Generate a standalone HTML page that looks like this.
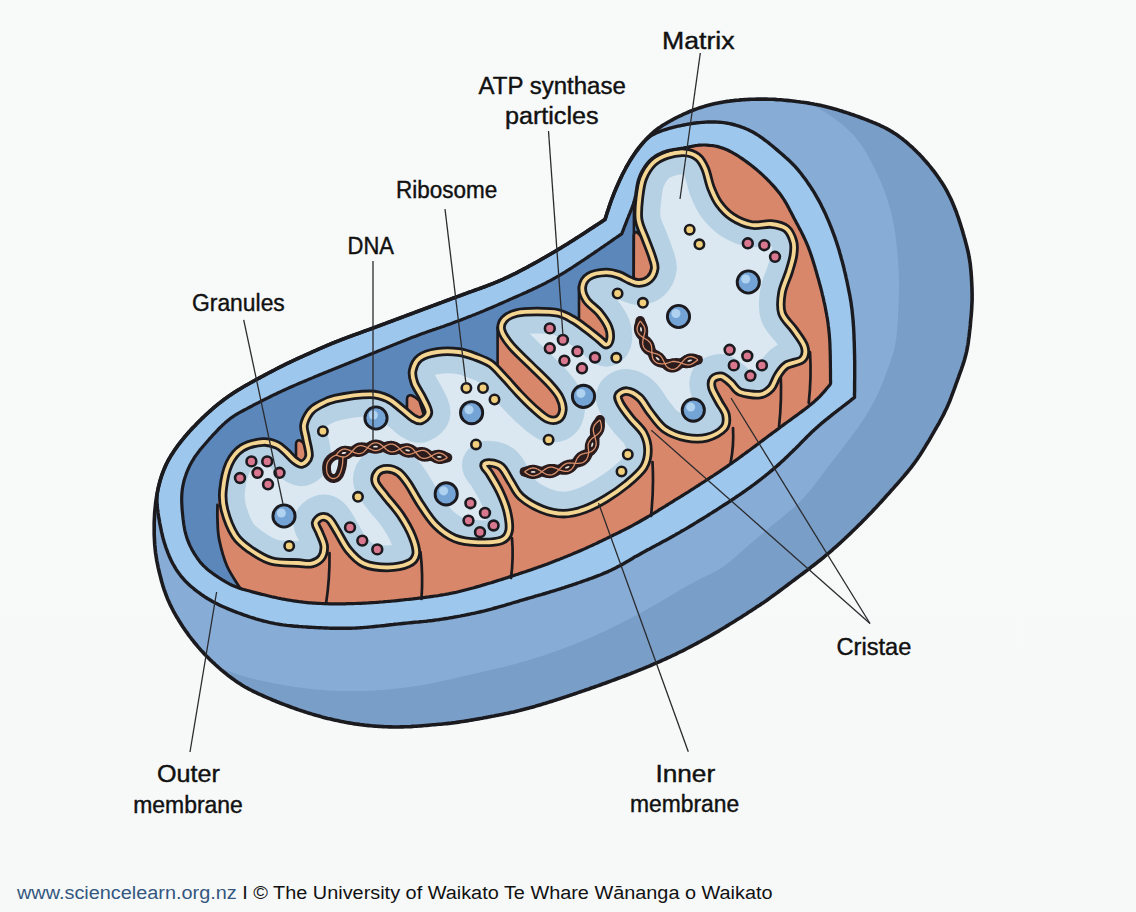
<!DOCTYPE html>
<html><head><meta charset="utf-8"><title>Mitochondrion</title>
<style>html,body{margin:0;padding:0;background:#f8fafa;overflow:hidden;width:1136px;height:912px;}svg{display:block;}</style>
</head><body>
<svg width="1136" height="912" viewBox="0 0 1136 912">
<defs>
<clipPath id="cs"><path d="M605.0,219.5 L605.6,217.6 L606.2,215.7 L606.8,213.8 L607.4,211.9 L608.1,210.0 L608.7,208.1 L609.3,206.2 L610.0,204.3 L610.6,202.4 L611.3,200.5 L612.0,198.7 L612.7,196.8 L613.4,194.9 L614.2,193.1 L614.9,191.2 L615.7,189.4 L616.5,187.5 L617.3,185.7 L618.1,183.9 L618.9,182.0 L619.7,180.2 L620.6,178.4 L621.5,176.6 L622.3,174.8 L623.2,173.0 L624.1,171.3 L625.1,169.5 L626.0,167.7 L627.0,166.0 L628.0,164.3 L629.0,162.5 L630.1,160.8 L631.1,159.2 L632.2,157.5 L633.3,155.8 L634.4,154.2 L635.6,152.5 L636.8,150.9 L638.0,149.3 L639.2,147.7 L640.4,146.2 L641.7,144.6 L642.9,143.1 L644.2,141.6 L645.5,140.1 L646.9,138.6 L648.3,137.1 L649.6,135.7 L651.1,134.3 L652.5,133.0 L654.0,131.7 L655.6,130.4 L657.1,129.2 L658.7,128.0 L660.4,126.9 L662.0,125.8 L663.7,124.7 L665.4,123.7 L667.1,122.7 L668.8,121.7 L670.6,120.7 L672.3,119.8 L674.1,118.8 L675.9,117.9 L677.7,117.0 L679.5,116.1 L681.3,115.3 L683.1,114.4 L684.9,113.6 L686.7,112.8 L688.6,112.0 L690.4,111.2 L692.3,110.5 L694.1,109.8 L696.0,109.1 L697.9,108.4 L699.8,107.8 L701.7,107.2 L703.6,106.6 L705.5,106.0 L707.4,105.5 L709.3,105.0 L711.3,104.5 L713.2,104.0 L715.2,103.6 L717.1,103.2 L719.1,102.8 L721.0,102.4 L723.0,102.1 L725.0,101.7 L727.0,101.4 L728.9,101.2 L730.9,100.9 L732.9,100.7 L734.9,100.4 L736.9,100.2 L738.9,100.1 L740.9,99.9 L742.8,99.7 L744.8,99.6 L746.8,99.5 L748.8,99.4 L750.8,99.3 L752.8,99.2 L754.8,99.2 L756.8,99.1 L758.8,99.1 L760.8,99.1 L762.8,99.1 L764.8,99.1 L766.8,99.1 L768.8,99.2 L770.8,99.3 L772.8,99.3 L774.8,99.4 L776.8,99.6 L778.8,99.7 L780.8,99.8 L782.8,100.0 L784.8,100.2 L786.8,100.4 L788.8,100.6 L790.7,100.8 L792.7,101.0 L794.7,101.2 L796.7,101.5 L798.7,101.7 L800.7,102.0 L802.6,102.2 L804.6,102.5 L806.6,102.8 L808.6,103.1 L810.5,103.5 L812.5,103.8 L814.5,104.2 L816.4,104.5 L818.4,104.9 L820.4,105.3 L822.3,105.8 L824.3,106.2 L826.2,106.7 L828.1,107.2 L830.1,107.7 L832.0,108.2 L833.9,108.8 L835.8,109.3 L837.8,109.9 L839.7,110.5 L841.6,111.0 L843.5,111.7 L845.4,112.3 L847.3,112.9 L849.2,113.5 L851.1,114.2 L853.0,114.8 L854.9,115.5 L856.7,116.1 L858.6,116.8 L860.5,117.5 L862.4,118.2 L864.3,118.9 L866.1,119.6 L868.0,120.3 L869.9,121.1 L871.7,121.8 L873.6,122.6 L875.4,123.3 L877.2,124.1 L879.1,124.9 L880.9,125.8 L882.7,126.6 L884.5,127.5 L886.2,128.4 L888.0,129.4 L889.7,130.3 L891.4,131.4 L893.1,132.4 L894.8,133.5 L896.5,134.6 L898.1,135.7 L899.7,136.9 L901.3,138.1 L902.9,139.3 L904.4,140.6 L906.0,141.8 L907.5,143.1 L909.0,144.5 L910.5,145.8 L912.0,147.1 L913.4,148.5 L914.9,149.9 L916.3,151.3 L917.7,152.7 L919.1,154.1 L920.5,155.6 L921.9,157.0 L923.2,158.5 L924.5,160.0 L925.9,161.5 L927.2,163.0 L928.5,164.5 L929.7,166.0 L931.0,167.6 L932.2,169.2 L933.5,170.7 L934.7,172.3 L935.9,173.9 L937.0,175.5 L938.2,177.2 L939.3,178.8 L940.4,180.5 L941.5,182.1 L942.6,183.8 L943.7,185.5 L944.7,187.2 L945.7,189.0 L946.7,190.7 L947.6,192.4 L948.5,194.2 L949.4,196.0 L950.3,197.8 L951.2,199.6 L952.0,201.4 L952.8,203.3 L953.5,205.1 L954.3,206.9 L955.0,208.8 L955.8,210.7 L956.5,212.5 L957.1,214.4 L957.8,216.3 L958.5,218.2 L959.1,220.1 L959.7,222.0 L960.3,223.9 L960.9,225.8 L961.5,227.7 L962.1,229.6 L962.7,231.5 L963.2,233.5 L963.8,235.4 L964.3,237.3 L964.9,239.2 L965.4,241.2 L965.9,243.1 L966.4,245.0 L966.9,247.0 L967.4,248.9 L967.8,250.8 L968.3,252.8 L968.7,254.7 L969.0,256.7 L969.4,258.7 L969.7,260.6 L970.0,262.6 L970.3,264.6 L970.5,266.6 L970.7,268.6 L970.9,270.6 L971.1,272.5 L971.2,274.5 L971.4,276.5 L971.5,278.5 L971.6,280.5 L971.7,282.5 L971.8,284.5 L971.9,286.5 L972.0,288.5 L972.0,290.5 L972.1,292.5 L972.1,294.5 L972.1,296.5 L972.1,298.5 L972.1,300.5 L972.0,302.5 L971.9,304.5 L971.8,306.5 L971.7,308.5 L971.6,310.5 L971.4,312.5 L971.3,314.5 L971.1,316.4 L970.9,318.4 L970.7,320.4 L970.5,322.4 L970.4,324.4 L970.2,326.4 L970.0,328.4 L969.7,330.4 L969.5,332.4 L969.3,334.4 L969.1,336.3 L968.8,338.3 L968.5,340.3 L968.3,342.3 L968.0,344.3 L967.6,346.2 L967.3,348.2 L966.9,350.1 L966.5,352.1 L966.0,354.0 L965.5,356.0 L965.0,357.9 L964.5,359.8 L963.9,361.7 L963.3,363.6 L962.7,365.5 L962.0,367.4 L961.4,369.3 L960.7,371.2 L960.0,373.1 L959.3,374.9 L958.7,376.8 L958.0,378.7 L957.3,380.6 L956.6,382.5 L955.9,384.3 L955.3,386.2 L954.6,388.1 L953.9,390.0 L953.2,391.9 L952.5,393.7 L951.8,395.6 L951.1,397.5 L950.4,399.3 L949.7,401.2 L948.9,403.0 L948.1,404.9 L947.3,406.7 L946.5,408.5 L945.6,410.3 L944.7,412.1 L943.9,413.9 L943.0,415.7 L942.0,417.5 L941.1,419.2 L940.1,421.0 L939.2,422.8 L938.2,424.5 L937.2,426.2 L936.2,428.0 L935.2,429.7 L934.2,431.4 L933.2,433.2 L932.2,434.9 L931.2,436.6 L930.2,438.3 L929.2,440.1 L928.2,441.8 L927.1,443.5 L926.1,445.2 L925.1,446.9 L924.0,448.6 L923.0,450.3 L921.9,452.0 L920.8,453.7 L919.7,455.4 L918.6,457.0 L917.5,458.7 L916.4,460.3 L915.2,462.0 L914.0,463.6 L912.8,465.2 L911.6,466.8 L910.4,468.3 L909.1,469.9 L907.9,471.5 L906.6,473.0 L905.3,474.5 L904.0,476.1 L902.7,477.6 L901.4,479.1 L900.1,480.6 L898.8,482.1 L897.5,483.6 L896.2,485.1 L894.8,486.6 L893.5,488.1 L892.2,489.6 L890.8,491.1 L889.5,492.6 L888.2,494.1 L886.8,495.5 L885.5,497.0 L884.2,498.5 L882.8,500.0 L881.5,501.5 L880.1,503.0 L878.8,504.4 L877.4,505.9 L876.1,507.4 L874.7,508.8 L873.3,510.3 L872.0,511.8 L870.6,513.2 L869.2,514.6 L867.8,516.1 L866.4,517.5 L865.0,518.9 L863.6,520.3 L862.2,521.8 L860.8,523.2 L859.3,524.6 L857.9,526.0 L856.5,527.4 L855.1,528.8 L853.6,530.2 L852.2,531.6 L850.8,533.0 L849.3,534.4 L847.9,535.7 L846.4,537.1 L845.0,538.5 L843.5,539.8 L842.0,541.2 L840.6,542.6 L839.1,543.9 L837.6,545.3 L836.1,546.6 L834.6,547.9 L833.1,549.2 L831.6,550.6 L830.1,551.9 L828.6,553.2 L827.1,554.4 L825.5,555.7 L824.0,557.0 L822.4,558.3 L820.9,559.5 L819.3,560.8 L817.7,562.0 L816.2,563.3 L814.6,564.5 L813.0,565.7 L811.4,566.9 L809.9,568.2 L808.3,569.4 L806.7,570.6 L805.1,571.8 L803.5,573.0 L801.9,574.2 L800.3,575.4 L798.7,576.6 L797.1,577.8 L795.5,579.0 L793.9,580.2 L792.3,581.4 L790.7,582.6 L789.1,583.8 L787.5,585.0 L785.9,586.2 L784.3,587.4 L782.7,588.6 L781.1,589.8 L779.5,591.0 L777.9,592.2 L776.3,593.4 L774.7,594.6 L773.0,595.7 L771.4,596.9 L769.8,598.1 L768.2,599.3 L766.6,600.4 L764.9,601.6 L763.3,602.7 L761.6,603.8 L760.0,604.9 L758.3,606.0 L756.6,607.1 L755.0,608.2 L753.3,609.3 L751.6,610.4 L749.9,611.5 L748.2,612.6 L746.6,613.7 L744.9,614.7 L743.2,615.8 L741.5,616.9 L739.8,618.0 L738.1,619.0 L736.4,620.1 L734.7,621.2 L733.0,622.2 L731.3,623.3 L729.6,624.3 L727.9,625.4 L726.2,626.4 L724.5,627.5 L722.8,628.5 L721.1,629.5 L719.4,630.6 L717.7,631.6 L715.9,632.6 L714.2,633.6 L712.5,634.6 L710.8,635.6 L709.0,636.6 L707.3,637.6 L705.5,638.6 L703.8,639.5 L702.0,640.5 L700.3,641.5 L698.5,642.4 L696.8,643.4 L695.0,644.3 L693.2,645.3 L691.5,646.2 L689.7,647.1 L687.9,648.0 L686.1,649.0 L684.4,649.9 L682.6,650.8 L680.8,651.6 L679.0,652.5 L677.2,653.4 L675.4,654.3 L673.6,655.1 L671.8,656.0 L670.0,656.9 L668.2,657.7 L666.4,658.5 L664.5,659.4 L662.7,660.2 L660.9,661.0 L659.1,661.8 L657.2,662.6 L655.4,663.4 L653.6,664.2 L651.7,665.0 L649.9,665.8 L648.0,666.6 L646.2,667.3 L644.3,668.1 L642.5,668.9 L640.6,669.6 L638.8,670.4 L636.9,671.1 L635.1,671.9 L633.2,672.6 L631.4,673.3 L629.5,674.1 L627.6,674.8 L625.8,675.5 L623.9,676.2 L622.0,676.9 L620.2,677.6 L618.3,678.3 L616.4,679.0 L614.5,679.7 L612.7,680.4 L610.8,681.1 L608.9,681.8 L607.0,682.5 L605.1,683.2 L603.3,683.8 L601.4,684.5 L599.5,685.2 L597.6,685.9 L595.7,686.5 L593.8,687.2 L592.0,687.8 L590.1,688.5 L588.2,689.2 L586.3,689.8 L584.4,690.5 L582.5,691.1 L580.6,691.8 L578.7,692.4 L576.8,693.1 L574.9,693.7 L573.0,694.4 L571.1,695.0 L569.3,695.6 L567.4,696.3 L565.5,696.9 L563.6,697.5 L561.7,698.1 L559.8,698.8 L557.8,699.4 L555.9,700.0 L554.0,700.6 L552.1,701.2 L550.2,701.8 L548.3,702.4 L546.4,703.0 L544.5,703.6 L542.6,704.1 L540.7,704.7 L538.7,705.3 L536.8,705.8 L534.9,706.4 L533.0,706.9 L531.0,707.4 L529.1,708.0 L527.2,708.5 L525.2,709.0 L523.3,709.5 L521.4,710.0 L519.4,710.5 L517.5,710.9 L515.5,711.4 L513.6,711.9 L511.6,712.3 L509.7,712.7 L507.7,713.2 L505.8,713.6 L503.8,714.0 L501.9,714.4 L499.9,714.8 L498.0,715.2 L496.0,715.6 L494.0,716.0 L492.1,716.3 L490.1,716.7 L488.1,717.1 L486.2,717.4 L484.2,717.8 L482.2,718.2 L480.3,718.5 L478.3,718.9 L476.3,719.2 L474.4,719.5 L472.4,719.9 L470.4,720.2 L468.4,720.6 L466.5,720.9 L464.5,721.2 L462.5,721.5 L460.5,721.8 L458.6,722.1 L456.6,722.4 L454.6,722.7 L452.6,722.9 L450.6,723.2 L448.7,723.4 L446.7,723.6 L444.7,723.8 L442.7,724.0 L440.7,724.2 L438.7,724.3 L436.7,724.5 L434.7,724.7 L432.7,724.8 L430.7,725.0 L428.7,725.2 L426.8,725.4 L424.8,725.5 L422.8,725.7 L420.8,725.9 L418.8,726.0 L416.8,726.2 L414.8,726.3 L412.8,726.4 L410.8,726.6 L408.8,726.7 L406.8,726.7 L404.8,726.8 L402.8,726.9 L400.8,726.9 L398.8,727.0 L396.8,727.0 L394.8,727.0 L392.8,727.0 L390.8,726.9 L388.8,726.9 L386.8,726.8 L384.8,726.7 L382.8,726.6 L380.8,726.5 L378.8,726.4 L376.8,726.3 L374.9,726.1 L372.9,726.0 L370.9,725.8 L368.9,725.6 L366.9,725.4 L364.9,725.2 L362.9,724.9 L360.9,724.7 L359.0,724.4 L357.0,724.1 L355.0,723.9 L353.0,723.6 L351.0,723.2 L349.1,722.9 L347.1,722.6 L345.1,722.2 L343.2,721.8 L341.2,721.4 L339.3,721.0 L337.3,720.6 L335.3,720.2 L333.4,719.8 L331.4,719.3 L329.5,718.8 L327.6,718.4 L325.6,717.9 L323.7,717.4 L321.8,716.9 L319.8,716.3 L317.9,715.8 L316.0,715.3 L314.1,714.7 L312.1,714.1 L310.2,713.5 L308.3,713.0 L306.4,712.4 L304.5,711.7 L302.6,711.1 L300.7,710.5 L298.8,709.9 L296.9,709.2 L295.0,708.5 L293.2,707.9 L291.3,707.2 L289.4,706.5 L287.5,705.8 L285.6,705.1 L283.8,704.4 L281.9,703.7 L280.0,703.0 L278.2,702.2 L276.3,701.5 L274.5,700.7 L272.6,700.0 L270.8,699.2 L268.9,698.4 L267.1,697.6 L265.3,696.8 L263.4,696.0 L261.6,695.2 L259.8,694.4 L258.0,693.6 L256.2,692.7 L254.4,691.8 L252.6,691.0 L250.8,690.0 L249.0,689.1 L247.3,688.2 L245.5,687.2 L243.8,686.2 L242.1,685.2 L240.4,684.1 L238.7,683.0 L237.1,681.9 L235.4,680.8 L233.8,679.6 L232.2,678.5 L230.6,677.3 L229.0,676.1 L227.4,674.8 L225.9,673.6 L224.3,672.3 L222.8,671.1 L221.2,669.8 L219.7,668.5 L218.2,667.2 L216.7,665.8 L215.2,664.5 L213.8,663.1 L212.3,661.8 L210.8,660.4 L209.4,659.0 L208.0,657.6 L206.6,656.2 L205.2,654.8 L203.8,653.3 L202.5,651.8 L201.1,650.4 L199.8,648.9 L198.5,647.4 L197.2,645.8 L195.9,644.3 L194.6,642.8 L193.4,641.2 L192.1,639.6 L190.9,638.0 L189.7,636.5 L188.5,634.9 L187.4,633.2 L186.2,631.6 L185.0,630.0 L183.9,628.3 L182.8,626.7 L181.7,625.0 L180.6,623.3 L179.5,621.6 L178.5,619.9 L177.5,618.2 L176.4,616.5 L175.5,614.8 L174.5,613.0 L173.5,611.3 L172.6,609.5 L171.7,607.7 L170.8,605.9 L169.9,604.1 L169.1,602.3 L168.3,600.5 L167.5,598.7 L166.8,596.8 L166.1,595.0 L165.4,593.1 L164.7,591.2 L164.0,589.3 L163.4,587.4 L162.8,585.5 L162.3,583.6 L161.7,581.7 L161.2,579.7 L160.7,577.8 L160.2,575.9 L159.7,573.9 L159.2,572.0 L158.8,570.1 L158.3,568.1 L157.9,566.2 L157.5,564.2 L157.1,562.2 L156.7,560.3 L156.4,558.3 L156.1,556.3 L155.8,554.4 L155.5,552.4 L155.3,550.4 L155.1,548.4 L154.9,546.4 L154.7,544.4 L154.6,542.4 L154.5,540.4 L154.4,538.4 L154.3,536.5 L154.2,534.5 L154.2,532.5 L154.2,530.5 L154.2,528.5 L154.2,526.5 L154.2,524.5 L154.2,522.5 L154.3,520.5 L154.4,518.5 L154.5,516.5 L154.6,514.5 L154.7,512.5 L154.9,510.5 L155.1,508.5 L155.3,506.5 L155.5,504.5 L155.7,502.5 L156.0,500.6 L156.3,498.6 L156.6,496.6 L156.9,494.7 L157.3,492.7 L157.7,490.7 L158.1,488.8 L158.5,486.8 L159.0,484.9 L159.5,483.0 L160.0,481.0 L160.6,479.1 L161.2,477.2 L161.8,475.3 L162.5,473.4 L163.2,471.6 L163.9,469.7 L164.7,467.9 L165.5,466.1 L166.3,464.3 L167.2,462.5 L168.2,460.7 L169.1,459.0 L170.1,457.3 L171.1,455.5 L172.2,453.9 L173.3,452.2 L174.4,450.5 L175.5,448.9 L176.7,447.3 L177.8,445.6 L179.0,444.0 L180.3,442.5 L181.5,440.9 L182.8,439.3 L184.0,437.8 L185.3,436.3 L186.6,434.7 L187.9,433.2 L189.2,431.7 L190.6,430.3 L191.9,428.8 L193.3,427.3 L194.7,425.9 L196.1,424.4 L197.5,423.0 L198.9,421.6 L200.3,420.2 L201.7,418.8 L203.2,417.4 L204.6,416.0 L206.1,414.7 L207.5,413.3 L209.0,412.0 L210.5,410.6 L212.0,409.3 L213.5,408.0 L215.1,406.7 L216.6,405.4 L218.1,404.2 L219.7,402.9 L221.3,401.7 L222.9,400.5 L224.5,399.3 L226.1,398.1 L227.7,396.9 L229.3,395.8 L231.0,394.7 L232.6,393.5 L234.3,392.4 L236.0,391.4 L237.7,390.3 L239.4,389.3 L241.1,388.2 L242.8,387.2 L244.5,386.2 L246.3,385.2 L248.0,384.2 L249.7,383.2 L251.5,382.2 L253.2,381.3 L255.0,380.3 L256.7,379.3 L258.5,378.4 L260.3,377.4 L262.0,376.5 L263.8,375.6 L265.5,374.6 L267.3,373.7 L269.1,372.7 L270.9,371.8 L272.6,370.9 L274.4,370.0 L276.2,369.0 L278.0,368.1 L279.7,367.2 L281.5,366.3 L283.3,365.4 L285.1,364.5 L286.9,363.7 L288.7,362.8 L290.5,361.9 L292.3,361.1 L294.1,360.2 L295.9,359.4 L297.8,358.5 L299.6,357.7 L301.4,356.9 L303.2,356.1 L305.0,355.2 L306.9,354.4 L308.7,353.6 L310.5,352.8 L312.3,351.9 L314.2,351.1 L316.0,350.3 L317.8,349.5 L319.6,348.7 L321.5,347.9 L323.3,347.1 L325.1,346.3 L327.0,345.5 L328.8,344.8 L330.7,344.0 L332.5,343.2 L334.4,342.5 L336.2,341.7 L338.1,341.0 L340.0,340.3 L341.8,339.5 L343.7,338.8 L345.6,338.1 L347.4,337.4 L349.3,336.7 L351.2,336.0 L353.1,335.3 L354.9,334.6 L356.8,334.0 L358.7,333.3 L360.6,332.6 L362.4,331.9 L364.3,331.2 L366.2,330.5 L368.1,329.9 L370.0,329.2 L371.8,328.5 L373.7,327.8 L375.6,327.1 L377.5,326.4 L379.3,325.7 L381.2,325.0 L383.1,324.3 L385.0,323.6 L386.8,322.9 L388.7,322.2 L390.6,321.5 L392.5,320.8 L394.3,320.1 L396.2,319.4 L398.1,318.7 L400.0,318.0 L401.8,317.3 L403.7,316.6 L405.6,315.9 L407.4,315.2 L409.3,314.5 L411.2,313.8 L413.1,313.1 L414.9,312.4 L416.8,311.7 L418.7,311.0 L420.6,310.3 L422.4,309.6 L424.3,308.9 L426.2,308.2 L428.1,307.5 L429.9,306.8 L431.8,306.1 L433.7,305.4 L435.6,304.7 L437.4,304.0 L439.3,303.3 L441.2,302.6 L443.1,301.9 L444.9,301.2 L446.8,300.5 L448.7,299.8 L450.6,299.1 L452.4,298.4 L454.3,297.7 L456.2,297.1 L458.1,296.4 L459.9,295.7 L461.8,295.0 L463.7,294.3 L465.6,293.6 L467.4,292.9 L469.3,292.2 L471.2,291.6 L473.1,290.9 L475.0,290.2 L476.8,289.5 L478.7,288.9 L480.6,288.2 L482.5,287.5 L484.4,286.8 L486.2,286.1 L488.1,285.4 L490.0,284.7 L491.8,283.9 L493.7,283.2 L495.5,282.4 L497.4,281.7 L499.2,280.9 L501.1,280.1 L502.9,279.3 L504.7,278.4 L506.5,277.6 L508.3,276.8 L510.1,275.9 L511.9,275.0 L513.7,274.1 L515.5,273.3 L517.3,272.4 L519.1,271.4 L520.9,270.5 L522.6,269.6 L524.4,268.7 L526.2,267.7 L527.9,266.8 L529.7,265.8 L531.4,264.9 L533.2,263.9 L534.9,262.9 L536.7,262.0 L538.4,261.0 L540.2,260.0 L541.9,259.0 L543.6,258.0 L545.4,257.0 L547.1,256.0 L548.8,255.0 L550.6,254.0 L552.3,253.0 L554.0,252.0 L555.7,251.0 L557.5,249.9 L559.2,248.9 L560.9,247.9 L562.6,246.8 L564.3,245.8 L566.0,244.7 L567.7,243.7 L569.4,242.6 L571.1,241.5 L572.8,240.5 L574.4,239.4 L576.1,238.3 L577.8,237.2 L579.5,236.2 L581.2,235.1 L582.9,234.0 L584.5,232.9 L586.2,231.8 L587.9,230.7 L589.5,229.6 L591.2,228.5 L592.9,227.4 L594.5,226.4 L596.2,225.3 L597.8,224.2 L599.4,223.2 L601.0,222.1 L602.6,221.1 L604.2,220.0 L605.0,219.5 Z"/></clipPath>
<clipPath id="cm"><path d="M224.5,510.0 C222.5,502.4 222.2,497.7 223.0,490.0 C223.8,482.3 225.8,471.0 229.0,464.0 C232.2,457.0 236.3,451.7 242.0,448.0 C247.7,444.3 257.2,442.5 263.0,442.0 C268.8,441.5 273.2,443.3 277.0,445.0 C280.8,446.7 283.2,449.5 286.0,452.0 C288.8,454.5 291.3,458.0 294.0,460.0 C296.7,462.0 299.5,464.7 302.0,464.0 C304.5,463.3 308.3,460.3 309.0,456.0 C309.7,451.7 306.8,443.2 306.0,438.0 C305.2,432.8 303.3,429.3 304.0,425.0 C304.7,420.7 307.7,415.2 310.0,412.0 C312.3,408.8 313.8,407.9 318.0,405.7 C322.2,403.5 326.3,400.6 335.0,398.7 C343.7,396.8 361.2,394.3 370.0,394.3 C378.8,394.3 382.7,396.2 388.0,398.7 C393.3,401.1 397.8,405.8 402.0,409.0 C406.2,412.2 409.8,416.1 413.0,418.0 C416.2,419.9 418.4,421.4 421.0,420.5 C423.6,419.6 428.2,416.3 428.5,412.7 C428.8,409.1 425.4,403.7 423.0,398.7 C420.6,393.7 416.1,387.5 414.4,382.8 C412.7,378.1 411.8,374.6 412.7,370.5 C413.6,366.4 415.6,361.1 419.7,358.0 C423.8,354.9 430.8,353.0 437.3,352.0 C443.8,351.0 452.1,351.2 458.5,352.0 C464.9,352.8 470.6,355.0 476.0,357.0 C481.4,359.0 486.5,360.8 491.0,364.0 C495.5,367.2 498.4,371.2 503.0,376.0 C507.6,380.8 513.2,387.5 518.3,392.9 C523.4,398.3 528.8,403.8 533.7,408.2 C538.6,412.6 543.4,417.2 547.5,419.0 C551.6,420.8 555.7,420.6 558.3,419.0 C560.9,417.4 562.6,413.3 562.9,409.7 C563.1,406.1 561.8,401.6 559.8,397.5 C557.8,393.4 555.7,390.8 550.6,385.2 C545.5,379.6 535.6,370.3 529.0,363.7 C522.4,357.1 515.3,350.9 510.7,345.3 C506.1,339.7 502.4,334.4 501.4,330.0 C500.4,325.6 501.9,322.0 504.5,319.2 C507.1,316.4 511.4,314.3 516.8,313.0 C522.2,311.7 529.9,311.5 536.8,311.5 C543.7,311.5 552.3,311.6 558.3,313.0 C564.3,314.4 568.3,317.0 573.0,319.7 C577.7,322.4 581.9,325.7 586.3,329.0 C590.7,332.3 596.2,336.9 599.5,339.5 C602.8,342.1 604.2,344.7 606.0,344.7 C607.8,344.7 609.5,342.4 610.0,339.5 C610.5,336.6 610.5,332.0 608.7,327.6 C607.0,323.2 603.2,317.6 599.5,313.0 C595.8,308.4 589.1,304.4 586.3,300.0 C583.4,295.6 581.9,290.8 582.4,286.8 C582.9,282.9 585.1,278.7 589.0,276.3 C592.9,273.9 601.0,272.6 606.0,272.4 C611.0,272.2 615.2,273.7 619.2,275.0 C623.2,276.3 626.4,279.0 629.7,280.3 C633.0,281.6 635.7,283.2 639.0,283.0 C642.3,282.8 646.9,281.4 649.5,279.0 C652.1,276.6 654.2,272.1 654.7,268.4 C655.2,264.7 653.7,261.9 652.2,257.0 C650.7,252.1 647.8,245.2 645.5,239.0 C643.2,232.8 639.6,226.4 638.6,219.5 C637.6,212.6 638.6,204.7 639.4,197.8 C640.2,191.0 640.9,184.2 643.2,178.4 C645.5,172.6 649.1,166.9 653.0,163.0 C656.9,159.1 661.3,157.0 666.5,155.2 C671.7,153.4 678.8,152.0 684.0,152.3 C689.2,152.6 694.0,154.3 697.5,157.0 C701.0,159.7 703.0,163.5 705.2,168.7 C707.5,173.9 708.7,182.2 711.0,188.0 C713.3,193.8 715.2,198.8 718.8,203.6 C722.3,208.4 726.8,213.4 732.3,217.0 C737.8,220.6 745.2,223.8 751.7,225.0 C758.2,226.2 765.2,223.4 771.0,224.0 C776.8,224.6 782.8,225.8 786.5,228.8 C790.2,231.8 792.3,237.6 793.5,242.0 C794.7,246.4 794.2,250.0 793.5,255.0 C792.8,260.0 790.9,265.8 789.0,272.0 C787.1,278.2 783.2,285.6 782.0,292.5 C780.8,299.4 780.0,307.1 782.0,313.3 C784.0,319.6 790.4,324.4 794.2,330.0 C798.0,335.6 803.2,341.8 804.6,346.7 C806.0,351.6 805.6,356.1 802.5,359.2 C799.4,362.3 790.2,362.7 786.0,365.5 C781.8,368.3 780.0,372.0 777.5,375.8 C775.0,379.6 773.9,385.2 771.0,388.3 C768.1,391.4 765.2,394.0 760.0,394.6 C754.8,395.2 744.8,393.9 740.0,392.0 C735.2,390.1 734.0,385.6 731.0,383.0 C728.0,380.4 724.8,377.0 721.8,376.3 C718.8,375.6 714.6,377.1 713.0,379.0 C711.4,380.9 711.0,384.2 712.0,388.0 C713.0,391.8 716.7,397.5 719.0,402.0 C721.3,406.5 725.2,410.7 726.0,415.0 C726.8,419.3 727.2,424.2 724.0,428.0 C720.8,431.8 713.3,436.0 707.0,437.6 C700.7,439.2 693.0,439.0 686.0,437.6 C679.0,436.2 670.8,433.4 664.8,429.2 C658.8,425.0 654.2,417.6 650.0,412.3 C645.8,407.0 643.3,401.0 639.4,397.5 C635.5,394.0 630.3,391.5 626.8,391.1 C623.3,390.8 619.4,393.3 618.3,395.4 C617.2,397.5 618.3,399.9 620.4,403.8 C622.5,407.7 627.1,413.7 631.0,418.6 C634.9,423.5 640.9,428.1 643.7,433.4 C646.5,438.7 648.0,444.7 648.0,450.3 C648.0,455.9 647.2,461.6 643.7,467.2 C640.2,472.8 633.1,478.7 626.8,484.0 C620.4,489.3 612.6,494.7 605.6,498.9 C598.6,503.1 591.5,506.9 584.5,509.4 C577.5,511.9 570.4,513.7 563.4,513.7 C556.4,513.7 549.4,512.2 542.3,509.4 C535.2,506.6 526.2,501.4 521.0,496.8 C515.8,492.2 514.3,487.0 511.0,482.0 C507.7,477.0 504.9,470.2 501.4,467.0 C497.9,463.8 492.7,463.1 489.8,462.9 C486.9,462.6 484.0,463.6 484.0,465.5 C484.0,467.4 487.1,469.6 489.8,474.0 C492.5,478.4 497.1,485.8 500.0,492.0 C502.9,498.2 505.7,504.9 507.2,511.3 C508.7,517.8 510.1,525.9 509.1,530.7 C508.1,535.6 506.5,538.5 501.4,540.4 C496.2,542.3 485.9,542.6 478.2,542.3 C470.4,542.0 462.0,541.3 454.9,538.4 C447.8,535.5 441.4,530.7 435.6,524.9 C429.8,519.1 424.5,510.4 420.0,503.6 C415.5,496.8 411.9,489.4 408.4,484.2 C404.9,479.0 402.4,475.2 398.8,472.6 C395.2,470.0 390.7,468.7 387.1,468.7 C383.6,468.7 379.4,470.3 377.5,472.6 C375.6,474.9 374.2,478.4 375.5,482.3 C376.8,486.2 381.0,490.3 385.2,495.8 C389.4,501.3 396.2,508.4 400.7,515.2 C405.2,522.0 409.7,530.0 412.3,536.5 C414.9,543.0 416.9,549.5 416.2,554.0 C415.5,558.5 413.2,561.4 408.4,563.6 C403.5,565.9 394.5,567.5 387.1,567.5 C379.7,567.5 370.3,566.5 363.9,563.6 C357.4,560.7 352.9,555.5 348.4,550.0 C343.9,544.5 340.0,535.9 336.8,530.7 C333.6,525.5 331.6,521.3 329.0,519.0 C326.4,516.7 323.6,516.4 321.3,517.1 C319.1,517.8 315.8,520.4 315.5,523.0 C315.2,525.6 317.9,528.7 319.4,532.6 C320.8,536.5 323.9,542.0 324.2,546.2 C324.5,550.4 323.4,554.9 321.3,557.8 C319.2,560.7 315.5,562.7 311.6,563.6 C307.7,564.5 304.7,563.4 298.0,563.0 C291.3,562.6 279.6,563.2 271.6,561.0 C263.6,558.8 256.1,553.8 250.0,549.5 C243.9,545.2 239.2,542.1 235.0,535.5 C230.8,528.9 226.5,517.6 224.5,510.0 Z"/></clipPath>
<linearGradient id="bg" x1="0" y1="0" x2="0" y2="1"><stop offset="0" stop-color="#f8fafa"/><stop offset="1" stop-color="#f7f9f9"/></linearGradient>
</defs>
<rect width="1136" height="912" fill="url(#bg)"/>
<path d="M605.0,219.5 L605.6,217.6 L606.2,215.7 L606.8,213.8 L607.4,211.9 L608.1,210.0 L608.7,208.1 L609.3,206.2 L610.0,204.3 L610.6,202.4 L611.3,200.5 L612.0,198.7 L612.7,196.8 L613.4,194.9 L614.2,193.1 L614.9,191.2 L615.7,189.4 L616.5,187.5 L617.3,185.7 L618.1,183.9 L618.9,182.0 L619.7,180.2 L620.6,178.4 L621.5,176.6 L622.3,174.8 L623.2,173.0 L624.1,171.3 L625.1,169.5 L626.0,167.7 L627.0,166.0 L628.0,164.3 L629.0,162.5 L630.1,160.8 L631.1,159.2 L632.2,157.5 L633.3,155.8 L634.4,154.2 L635.6,152.5 L636.8,150.9 L638.0,149.3 L639.2,147.7 L640.4,146.2 L641.7,144.6 L642.9,143.1 L644.2,141.6 L645.5,140.1 L646.9,138.6 L648.3,137.1 L649.6,135.7 L651.1,134.3 L652.5,133.0 L654.0,131.7 L655.6,130.4 L657.1,129.2 L658.7,128.0 L660.4,126.9 L662.0,125.8 L663.7,124.7 L665.4,123.7 L667.1,122.7 L668.8,121.7 L670.6,120.7 L672.3,119.8 L674.1,118.8 L675.9,117.9 L677.7,117.0 L679.5,116.1 L681.3,115.3 L683.1,114.4 L684.9,113.6 L686.7,112.8 L688.6,112.0 L690.4,111.2 L692.3,110.5 L694.1,109.8 L696.0,109.1 L697.9,108.4 L699.8,107.8 L701.7,107.2 L703.6,106.6 L705.5,106.0 L707.4,105.5 L709.3,105.0 L711.3,104.5 L713.2,104.0 L715.2,103.6 L717.1,103.2 L719.1,102.8 L721.0,102.4 L723.0,102.1 L725.0,101.7 L727.0,101.4 L728.9,101.2 L730.9,100.9 L732.9,100.7 L734.9,100.4 L736.9,100.2 L738.9,100.1 L740.9,99.9 L742.8,99.7 L744.8,99.6 L746.8,99.5 L748.8,99.4 L750.8,99.3 L752.8,99.2 L754.8,99.2 L756.8,99.1 L758.8,99.1 L760.8,99.1 L762.8,99.1 L764.8,99.1 L766.8,99.1 L768.8,99.2 L770.8,99.3 L772.8,99.3 L774.8,99.4 L776.8,99.6 L778.8,99.7 L780.8,99.8 L782.8,100.0 L784.8,100.2 L786.8,100.4 L788.8,100.6 L790.7,100.8 L792.7,101.0 L794.7,101.2 L796.7,101.5 L798.7,101.7 L800.7,102.0 L802.6,102.2 L804.6,102.5 L806.6,102.8 L808.6,103.1 L810.5,103.5 L812.5,103.8 L814.5,104.2 L816.4,104.5 L818.4,104.9 L820.4,105.3 L822.3,105.8 L824.3,106.2 L826.2,106.7 L828.1,107.2 L830.1,107.7 L832.0,108.2 L833.9,108.8 L835.8,109.3 L837.8,109.9 L839.7,110.5 L841.6,111.0 L843.5,111.7 L845.4,112.3 L847.3,112.9 L849.2,113.5 L851.1,114.2 L853.0,114.8 L854.9,115.5 L856.7,116.1 L858.6,116.8 L860.5,117.5 L862.4,118.2 L864.3,118.9 L866.1,119.6 L868.0,120.3 L869.9,121.1 L871.7,121.8 L873.6,122.6 L875.4,123.3 L877.2,124.1 L879.1,124.9 L880.9,125.8 L882.7,126.6 L884.5,127.5 L886.2,128.4 L888.0,129.4 L889.7,130.3 L891.4,131.4 L893.1,132.4 L894.8,133.5 L896.5,134.6 L898.1,135.7 L899.7,136.9 L901.3,138.1 L902.9,139.3 L904.4,140.6 L906.0,141.8 L907.5,143.1 L909.0,144.5 L910.5,145.8 L912.0,147.1 L913.4,148.5 L914.9,149.9 L916.3,151.3 L917.7,152.7 L919.1,154.1 L920.5,155.6 L921.9,157.0 L923.2,158.5 L924.5,160.0 L925.9,161.5 L927.2,163.0 L928.5,164.5 L929.7,166.0 L931.0,167.6 L932.2,169.2 L933.5,170.7 L934.7,172.3 L935.9,173.9 L937.0,175.5 L938.2,177.2 L939.3,178.8 L940.4,180.5 L941.5,182.1 L942.6,183.8 L943.7,185.5 L944.7,187.2 L945.7,189.0 L946.7,190.7 L947.6,192.4 L948.5,194.2 L949.4,196.0 L950.3,197.8 L951.2,199.6 L952.0,201.4 L952.8,203.3 L953.5,205.1 L954.3,206.9 L955.0,208.8 L955.8,210.7 L956.5,212.5 L957.1,214.4 L957.8,216.3 L958.5,218.2 L959.1,220.1 L959.7,222.0 L960.3,223.9 L960.9,225.8 L961.5,227.7 L962.1,229.6 L962.7,231.5 L963.2,233.5 L963.8,235.4 L964.3,237.3 L964.9,239.2 L965.4,241.2 L965.9,243.1 L966.4,245.0 L966.9,247.0 L967.4,248.9 L967.8,250.8 L968.3,252.8 L968.7,254.7 L969.0,256.7 L969.4,258.7 L969.7,260.6 L970.0,262.6 L970.3,264.6 L970.5,266.6 L970.7,268.6 L970.9,270.6 L971.1,272.5 L971.2,274.5 L971.4,276.5 L971.5,278.5 L971.6,280.5 L971.7,282.5 L971.8,284.5 L971.9,286.5 L972.0,288.5 L972.0,290.5 L972.1,292.5 L972.1,294.5 L972.1,296.5 L972.1,298.5 L972.1,300.5 L972.0,302.5 L971.9,304.5 L971.8,306.5 L971.7,308.5 L971.6,310.5 L971.4,312.5 L971.3,314.5 L971.1,316.4 L970.9,318.4 L970.7,320.4 L970.5,322.4 L970.4,324.4 L970.2,326.4 L970.0,328.4 L969.7,330.4 L969.5,332.4 L969.3,334.4 L969.1,336.3 L968.8,338.3 L968.5,340.3 L968.3,342.3 L968.0,344.3 L967.6,346.2 L967.3,348.2 L966.9,350.1 L966.5,352.1 L966.0,354.0 L965.5,356.0 L965.0,357.9 L964.5,359.8 L963.9,361.7 L963.3,363.6 L962.7,365.5 L962.0,367.4 L961.4,369.3 L960.7,371.2 L960.0,373.1 L959.3,374.9 L958.7,376.8 L958.0,378.7 L957.3,380.6 L956.6,382.5 L955.9,384.3 L955.3,386.2 L954.6,388.1 L953.9,390.0 L953.2,391.9 L952.5,393.7 L951.8,395.6 L951.1,397.5 L950.4,399.3 L949.7,401.2 L948.9,403.0 L948.1,404.9 L947.3,406.7 L946.5,408.5 L945.6,410.3 L944.7,412.1 L943.9,413.9 L943.0,415.7 L942.0,417.5 L941.1,419.2 L940.1,421.0 L939.2,422.8 L938.2,424.5 L937.2,426.2 L936.2,428.0 L935.2,429.7 L934.2,431.4 L933.2,433.2 L932.2,434.9 L931.2,436.6 L930.2,438.3 L929.2,440.1 L928.2,441.8 L927.1,443.5 L926.1,445.2 L925.1,446.9 L924.0,448.6 L923.0,450.3 L921.9,452.0 L920.8,453.7 L919.7,455.4 L918.6,457.0 L917.5,458.7 L916.4,460.3 L915.2,462.0 L914.0,463.6 L912.8,465.2 L911.6,466.8 L910.4,468.3 L909.1,469.9 L907.9,471.5 L906.6,473.0 L905.3,474.5 L904.0,476.1 L902.7,477.6 L901.4,479.1 L900.1,480.6 L898.8,482.1 L897.5,483.6 L896.2,485.1 L894.8,486.6 L893.5,488.1 L892.2,489.6 L890.8,491.1 L889.5,492.6 L888.2,494.1 L886.8,495.5 L885.5,497.0 L884.2,498.5 L882.8,500.0 L881.5,501.5 L880.1,503.0 L878.8,504.4 L877.4,505.9 L876.1,507.4 L874.7,508.8 L873.3,510.3 L872.0,511.8 L870.6,513.2 L869.2,514.6 L867.8,516.1 L866.4,517.5 L865.0,518.9 L863.6,520.3 L862.2,521.8 L860.8,523.2 L859.3,524.6 L857.9,526.0 L856.5,527.4 L855.1,528.8 L853.6,530.2 L852.2,531.6 L850.8,533.0 L849.3,534.4 L847.9,535.7 L846.4,537.1 L845.0,538.5 L843.5,539.8 L842.0,541.2 L840.6,542.6 L839.1,543.9 L837.6,545.3 L836.1,546.6 L834.6,547.9 L833.1,549.2 L831.6,550.6 L830.1,551.9 L828.6,553.2 L827.1,554.4 L825.5,555.7 L824.0,557.0 L822.4,558.3 L820.9,559.5 L819.3,560.8 L817.7,562.0 L816.2,563.3 L814.6,564.5 L813.0,565.7 L811.4,566.9 L809.9,568.2 L808.3,569.4 L806.7,570.6 L805.1,571.8 L803.5,573.0 L801.9,574.2 L800.3,575.4 L798.7,576.6 L797.1,577.8 L795.5,579.0 L793.9,580.2 L792.3,581.4 L790.7,582.6 L789.1,583.8 L787.5,585.0 L785.9,586.2 L784.3,587.4 L782.7,588.6 L781.1,589.8 L779.5,591.0 L777.9,592.2 L776.3,593.4 L774.7,594.6 L773.0,595.7 L771.4,596.9 L769.8,598.1 L768.2,599.3 L766.6,600.4 L764.9,601.6 L763.3,602.7 L761.6,603.8 L760.0,604.9 L758.3,606.0 L756.6,607.1 L755.0,608.2 L753.3,609.3 L751.6,610.4 L749.9,611.5 L748.2,612.6 L746.6,613.7 L744.9,614.7 L743.2,615.8 L741.5,616.9 L739.8,618.0 L738.1,619.0 L736.4,620.1 L734.7,621.2 L733.0,622.2 L731.3,623.3 L729.6,624.3 L727.9,625.4 L726.2,626.4 L724.5,627.5 L722.8,628.5 L721.1,629.5 L719.4,630.6 L717.7,631.6 L715.9,632.6 L714.2,633.6 L712.5,634.6 L710.8,635.6 L709.0,636.6 L707.3,637.6 L705.5,638.6 L703.8,639.5 L702.0,640.5 L700.3,641.5 L698.5,642.4 L696.8,643.4 L695.0,644.3 L693.2,645.3 L691.5,646.2 L689.7,647.1 L687.9,648.0 L686.1,649.0 L684.4,649.9 L682.6,650.8 L680.8,651.6 L679.0,652.5 L677.2,653.4 L675.4,654.3 L673.6,655.1 L671.8,656.0 L670.0,656.9 L668.2,657.7 L666.4,658.5 L664.5,659.4 L662.7,660.2 L660.9,661.0 L659.1,661.8 L657.2,662.6 L655.4,663.4 L653.6,664.2 L651.7,665.0 L649.9,665.8 L648.0,666.6 L646.2,667.3 L644.3,668.1 L642.5,668.9 L640.6,669.6 L638.8,670.4 L636.9,671.1 L635.1,671.9 L633.2,672.6 L631.4,673.3 L629.5,674.1 L627.6,674.8 L625.8,675.5 L623.9,676.2 L622.0,676.9 L620.2,677.6 L618.3,678.3 L616.4,679.0 L614.5,679.7 L612.7,680.4 L610.8,681.1 L608.9,681.8 L607.0,682.5 L605.1,683.2 L603.3,683.8 L601.4,684.5 L599.5,685.2 L597.6,685.9 L595.7,686.5 L593.8,687.2 L592.0,687.8 L590.1,688.5 L588.2,689.2 L586.3,689.8 L584.4,690.5 L582.5,691.1 L580.6,691.8 L578.7,692.4 L576.8,693.1 L574.9,693.7 L573.0,694.4 L571.1,695.0 L569.3,695.6 L567.4,696.3 L565.5,696.9 L563.6,697.5 L561.7,698.1 L559.8,698.8 L557.8,699.4 L555.9,700.0 L554.0,700.6 L552.1,701.2 L550.2,701.8 L548.3,702.4 L546.4,703.0 L544.5,703.6 L542.6,704.1 L540.7,704.7 L538.7,705.3 L536.8,705.8 L534.9,706.4 L533.0,706.9 L531.0,707.4 L529.1,708.0 L527.2,708.5 L525.2,709.0 L523.3,709.5 L521.4,710.0 L519.4,710.5 L517.5,710.9 L515.5,711.4 L513.6,711.9 L511.6,712.3 L509.7,712.7 L507.7,713.2 L505.8,713.6 L503.8,714.0 L501.9,714.4 L499.9,714.8 L498.0,715.2 L496.0,715.6 L494.0,716.0 L492.1,716.3 L490.1,716.7 L488.1,717.1 L486.2,717.4 L484.2,717.8 L482.2,718.2 L480.3,718.5 L478.3,718.9 L476.3,719.2 L474.4,719.5 L472.4,719.9 L470.4,720.2 L468.4,720.6 L466.5,720.9 L464.5,721.2 L462.5,721.5 L460.5,721.8 L458.6,722.1 L456.6,722.4 L454.6,722.7 L452.6,722.9 L450.6,723.2 L448.7,723.4 L446.7,723.6 L444.7,723.8 L442.7,724.0 L440.7,724.2 L438.7,724.3 L436.7,724.5 L434.7,724.7 L432.7,724.8 L430.7,725.0 L428.7,725.2 L426.8,725.4 L424.8,725.5 L422.8,725.7 L420.8,725.9 L418.8,726.0 L416.8,726.2 L414.8,726.3 L412.8,726.4 L410.8,726.6 L408.8,726.7 L406.8,726.7 L404.8,726.8 L402.8,726.9 L400.8,726.9 L398.8,727.0 L396.8,727.0 L394.8,727.0 L392.8,727.0 L390.8,726.9 L388.8,726.9 L386.8,726.8 L384.8,726.7 L382.8,726.6 L380.8,726.5 L378.8,726.4 L376.8,726.3 L374.9,726.1 L372.9,726.0 L370.9,725.8 L368.9,725.6 L366.9,725.4 L364.9,725.2 L362.9,724.9 L360.9,724.7 L359.0,724.4 L357.0,724.1 L355.0,723.9 L353.0,723.6 L351.0,723.2 L349.1,722.9 L347.1,722.6 L345.1,722.2 L343.2,721.8 L341.2,721.4 L339.3,721.0 L337.3,720.6 L335.3,720.2 L333.4,719.8 L331.4,719.3 L329.5,718.8 L327.6,718.4 L325.6,717.9 L323.7,717.4 L321.8,716.9 L319.8,716.3 L317.9,715.8 L316.0,715.3 L314.1,714.7 L312.1,714.1 L310.2,713.5 L308.3,713.0 L306.4,712.4 L304.5,711.7 L302.6,711.1 L300.7,710.5 L298.8,709.9 L296.9,709.2 L295.0,708.5 L293.2,707.9 L291.3,707.2 L289.4,706.5 L287.5,705.8 L285.6,705.1 L283.8,704.4 L281.9,703.7 L280.0,703.0 L278.2,702.2 L276.3,701.5 L274.5,700.7 L272.6,700.0 L270.8,699.2 L268.9,698.4 L267.1,697.6 L265.3,696.8 L263.4,696.0 L261.6,695.2 L259.8,694.4 L258.0,693.6 L256.2,692.7 L254.4,691.8 L252.6,691.0 L250.8,690.0 L249.0,689.1 L247.3,688.2 L245.5,687.2 L243.8,686.2 L242.1,685.2 L240.4,684.1 L238.7,683.0 L237.1,681.9 L235.4,680.8 L233.8,679.6 L232.2,678.5 L230.6,677.3 L229.0,676.1 L227.4,674.8 L225.9,673.6 L224.3,672.3 L222.8,671.1 L221.2,669.8 L219.7,668.5 L218.2,667.2 L216.7,665.8 L215.2,664.5 L213.8,663.1 L212.3,661.8 L210.8,660.4 L209.4,659.0 L208.0,657.6 L206.6,656.2 L205.2,654.8 L203.8,653.3 L202.5,651.8 L201.1,650.4 L199.8,648.9 L198.5,647.4 L197.2,645.8 L195.9,644.3 L194.6,642.8 L193.4,641.2 L192.1,639.6 L190.9,638.0 L189.7,636.5 L188.5,634.9 L187.4,633.2 L186.2,631.6 L185.0,630.0 L183.9,628.3 L182.8,626.7 L181.7,625.0 L180.6,623.3 L179.5,621.6 L178.5,619.9 L177.5,618.2 L176.4,616.5 L175.5,614.8 L174.5,613.0 L173.5,611.3 L172.6,609.5 L171.7,607.7 L170.8,605.9 L169.9,604.1 L169.1,602.3 L168.3,600.5 L167.5,598.7 L166.8,596.8 L166.1,595.0 L165.4,593.1 L164.7,591.2 L164.0,589.3 L163.4,587.4 L162.8,585.5 L162.3,583.6 L161.7,581.7 L161.2,579.7 L160.7,577.8 L160.2,575.9 L159.7,573.9 L159.2,572.0 L158.8,570.1 L158.3,568.1 L157.9,566.2 L157.5,564.2 L157.1,562.2 L156.7,560.3 L156.4,558.3 L156.1,556.3 L155.8,554.4 L155.5,552.4 L155.3,550.4 L155.1,548.4 L154.9,546.4 L154.7,544.4 L154.6,542.4 L154.5,540.4 L154.4,538.4 L154.3,536.5 L154.2,534.5 L154.2,532.5 L154.2,530.5 L154.2,528.5 L154.2,526.5 L154.2,524.5 L154.2,522.5 L154.3,520.5 L154.4,518.5 L154.5,516.5 L154.6,514.5 L154.7,512.5 L154.9,510.5 L155.1,508.5 L155.3,506.5 L155.5,504.5 L155.7,502.5 L156.0,500.6 L156.3,498.6 L156.6,496.6 L156.9,494.7 L157.3,492.7 L157.7,490.7 L158.1,488.8 L158.5,486.8 L159.0,484.9 L159.5,483.0 L160.0,481.0 L160.6,479.1 L161.2,477.2 L161.8,475.3 L162.5,473.4 L163.2,471.6 L163.9,469.7 L164.7,467.9 L165.5,466.1 L166.3,464.3 L167.2,462.5 L168.2,460.7 L169.1,459.0 L170.1,457.3 L171.1,455.5 L172.2,453.9 L173.3,452.2 L174.4,450.5 L175.5,448.9 L176.7,447.3 L177.8,445.6 L179.0,444.0 L180.3,442.5 L181.5,440.9 L182.8,439.3 L184.0,437.8 L185.3,436.3 L186.6,434.7 L187.9,433.2 L189.2,431.7 L190.6,430.3 L191.9,428.8 L193.3,427.3 L194.7,425.9 L196.1,424.4 L197.5,423.0 L198.9,421.6 L200.3,420.2 L201.7,418.8 L203.2,417.4 L204.6,416.0 L206.1,414.7 L207.5,413.3 L209.0,412.0 L210.5,410.6 L212.0,409.3 L213.5,408.0 L215.1,406.7 L216.6,405.4 L218.1,404.2 L219.7,402.9 L221.3,401.7 L222.9,400.5 L224.5,399.3 L226.1,398.1 L227.7,396.9 L229.3,395.8 L231.0,394.7 L232.6,393.5 L234.3,392.4 L236.0,391.4 L237.7,390.3 L239.4,389.3 L241.1,388.2 L242.8,387.2 L244.5,386.2 L246.3,385.2 L248.0,384.2 L249.7,383.2 L251.5,382.2 L253.2,381.3 L255.0,380.3 L256.7,379.3 L258.5,378.4 L260.3,377.4 L262.0,376.5 L263.8,375.6 L265.5,374.6 L267.3,373.7 L269.1,372.7 L270.9,371.8 L272.6,370.9 L274.4,370.0 L276.2,369.0 L278.0,368.1 L279.7,367.2 L281.5,366.3 L283.3,365.4 L285.1,364.5 L286.9,363.7 L288.7,362.8 L290.5,361.9 L292.3,361.1 L294.1,360.2 L295.9,359.4 L297.8,358.5 L299.6,357.7 L301.4,356.9 L303.2,356.1 L305.0,355.2 L306.9,354.4 L308.7,353.6 L310.5,352.8 L312.3,351.9 L314.2,351.1 L316.0,350.3 L317.8,349.5 L319.6,348.7 L321.5,347.9 L323.3,347.1 L325.1,346.3 L327.0,345.5 L328.8,344.8 L330.7,344.0 L332.5,343.2 L334.4,342.5 L336.2,341.7 L338.1,341.0 L340.0,340.3 L341.8,339.5 L343.7,338.8 L345.6,338.1 L347.4,337.4 L349.3,336.7 L351.2,336.0 L353.1,335.3 L354.9,334.6 L356.8,334.0 L358.7,333.3 L360.6,332.6 L362.4,331.9 L364.3,331.2 L366.2,330.5 L368.1,329.9 L370.0,329.2 L371.8,328.5 L373.7,327.8 L375.6,327.1 L377.5,326.4 L379.3,325.7 L381.2,325.0 L383.1,324.3 L385.0,323.6 L386.8,322.9 L388.7,322.2 L390.6,321.5 L392.5,320.8 L394.3,320.1 L396.2,319.4 L398.1,318.7 L400.0,318.0 L401.8,317.3 L403.7,316.6 L405.6,315.9 L407.4,315.2 L409.3,314.5 L411.2,313.8 L413.1,313.1 L414.9,312.4 L416.8,311.7 L418.7,311.0 L420.6,310.3 L422.4,309.6 L424.3,308.9 L426.2,308.2 L428.1,307.5 L429.9,306.8 L431.8,306.1 L433.7,305.4 L435.6,304.7 L437.4,304.0 L439.3,303.3 L441.2,302.6 L443.1,301.9 L444.9,301.2 L446.8,300.5 L448.7,299.8 L450.6,299.1 L452.4,298.4 L454.3,297.7 L456.2,297.1 L458.1,296.4 L459.9,295.7 L461.8,295.0 L463.7,294.3 L465.6,293.6 L467.4,292.9 L469.3,292.2 L471.2,291.6 L473.1,290.9 L475.0,290.2 L476.8,289.5 L478.7,288.9 L480.6,288.2 L482.5,287.5 L484.4,286.8 L486.2,286.1 L488.1,285.4 L490.0,284.7 L491.8,283.9 L493.7,283.2 L495.5,282.4 L497.4,281.7 L499.2,280.9 L501.1,280.1 L502.9,279.3 L504.7,278.4 L506.5,277.6 L508.3,276.8 L510.1,275.9 L511.9,275.0 L513.7,274.1 L515.5,273.3 L517.3,272.4 L519.1,271.4 L520.9,270.5 L522.6,269.6 L524.4,268.7 L526.2,267.7 L527.9,266.8 L529.7,265.8 L531.4,264.9 L533.2,263.9 L534.9,262.9 L536.7,262.0 L538.4,261.0 L540.2,260.0 L541.9,259.0 L543.6,258.0 L545.4,257.0 L547.1,256.0 L548.8,255.0 L550.6,254.0 L552.3,253.0 L554.0,252.0 L555.7,251.0 L557.5,249.9 L559.2,248.9 L560.9,247.9 L562.6,246.8 L564.3,245.8 L566.0,244.7 L567.7,243.7 L569.4,242.6 L571.1,241.5 L572.8,240.5 L574.4,239.4 L576.1,238.3 L577.8,237.2 L579.5,236.2 L581.2,235.1 L582.9,234.0 L584.5,232.9 L586.2,231.8 L587.9,230.7 L589.5,229.6 L591.2,228.5 L592.9,227.4 L594.5,226.4 L596.2,225.3 L597.8,224.2 L599.4,223.2 L601.0,222.1 L602.6,221.1 L604.2,220.0 L605.0,219.5 Z" fill="#799ec8"/>
<path d="M60.0,640.0 L60.0,638.0 L60.0,636.0 L60.0,634.0 L60.0,632.0 L60.0,630.0 L60.0,628.0 L60.0,626.0 L60.0,624.0 L60.0,622.0 L60.0,620.0 L60.0,618.0 L60.0,616.0 L60.0,614.0 L60.0,612.0 L60.0,610.0 L60.0,608.0 L60.0,606.0 L60.0,604.0 L60.0,602.0 L60.0,600.0 L60.0,598.0 L60.0,596.0 L60.0,594.0 L60.0,592.0 L60.0,590.0 L60.0,588.0 L60.0,586.0 L60.0,584.0 L60.0,582.0 L60.0,580.0 L60.0,578.0 L60.0,576.0 L60.0,574.0 L60.0,572.0 L60.0,570.0 L60.0,568.0 L60.0,566.0 L60.0,564.0 L60.0,562.0 L60.0,560.0 L60.0,558.0 L60.0,556.0 L60.0,554.0 L60.0,552.0 L60.0,550.0 L60.0,548.0 L60.0,546.0 L60.0,544.0 L60.0,542.0 L60.0,540.0 L60.0,538.0 L60.0,536.0 L60.0,534.0 L60.0,532.0 L60.0,530.0 L60.0,528.0 L60.0,526.0 L60.0,524.0 L60.0,522.0 L60.0,520.0 L60.0,518.0 L60.0,516.0 L60.0,514.0 L60.0,512.0 L60.0,510.0 L60.0,508.0 L60.0,506.0 L60.0,504.0 L60.0,502.0 L60.0,500.0 L60.0,498.0 L60.0,496.0 L60.0,494.0 L60.0,492.0 L60.0,490.0 L60.0,488.0 L60.0,486.0 L60.0,484.0 L60.0,482.0 L60.0,480.0 L60.0,478.0 L60.0,476.0 L60.0,474.0 L60.0,472.0 L60.0,470.0 L60.0,468.0 L60.0,466.0 L60.0,464.0 L60.0,462.0 L60.0,460.0 L60.0,458.0 L60.0,456.0 L60.0,454.0 L60.0,452.0 L60.0,450.0 L60.0,448.0 L60.0,446.0 L60.0,444.0 L60.0,442.0 L60.0,440.0 L60.0,438.0 L60.0,436.0 L60.0,434.0 L60.0,432.0 L60.0,430.0 L60.0,428.0 L60.0,426.0 L60.0,424.0 L60.0,422.0 L60.0,420.0 L60.0,418.0 L60.0,416.0 L60.0,414.0 L60.0,412.0 L60.0,410.0 L60.0,408.0 L60.0,406.0 L60.0,404.0 L60.0,402.0 L60.0,400.0 L60.0,398.0 L60.0,396.0 L60.0,394.0 L60.0,392.0 L60.0,390.0 L60.0,388.0 L60.0,386.0 L60.0,384.0 L60.0,382.0 L60.0,380.0 L60.0,378.0 L60.0,376.0 L60.0,374.0 L60.0,372.0 L60.0,370.0 L60.0,368.0 L60.0,366.0 L60.0,364.0 L60.0,362.0 L60.0,360.0 L60.0,358.0 L60.0,356.0 L60.0,354.0 L60.0,352.0 L60.0,350.0 L60.0,348.0 L60.0,346.0 L60.0,344.0 L60.0,342.0 L60.0,340.0 L60.0,338.0 L60.0,336.0 L60.0,334.0 L60.0,332.0 L60.0,330.0 L60.0,328.0 L60.0,326.0 L60.0,324.0 L60.0,322.0 L60.0,320.0 L60.0,318.0 L60.0,316.0 L60.0,314.0 L60.0,312.0 L60.0,310.0 L60.0,308.0 L60.0,306.0 L60.0,304.0 L60.0,302.0 L60.0,300.0 L60.0,298.0 L60.0,296.0 L60.0,294.0 L60.0,292.0 L60.0,290.0 L60.0,288.0 L60.0,286.0 L60.0,284.0 L60.0,282.0 L60.0,280.0 L60.0,278.0 L60.0,276.0 L60.0,274.0 L60.0,272.0 L60.0,270.0 L60.0,268.0 L60.0,266.0 L60.0,264.0 L60.0,262.0 L60.0,260.0 L60.0,258.0 L60.0,256.0 L60.0,254.0 L60.0,252.0 L60.0,250.0 L60.0,248.0 L60.0,246.0 L60.0,244.0 L60.0,242.0 L60.0,240.0 L60.0,238.0 L60.0,236.0 L60.0,234.0 L60.0,232.0 L60.0,230.0 L60.0,228.0 L60.0,226.0 L60.0,224.0 L60.0,222.0 L60.0,220.0 L60.0,218.0 L60.0,216.0 L60.0,214.0 L60.0,212.0 L60.0,210.0 L60.0,208.0 L60.0,206.0 L60.0,204.0 L60.0,202.0 L60.0,200.0 L60.0,198.0 L60.0,196.0 L60.0,194.0 L60.0,192.0 L60.0,190.0 L60.0,188.0 L60.0,186.0 L60.0,184.0 L60.0,182.0 L60.0,180.0 L60.0,178.0 L60.0,176.0 L60.0,174.0 L60.0,172.0 L60.0,170.0 L60.0,168.0 L60.0,166.0 L60.0,164.0 L60.0,162.0 L60.0,160.0 L60.0,158.0 L60.0,156.0 L60.0,154.0 L60.0,152.0 L60.0,150.0 L60.0,148.0 L60.0,146.0 L60.0,144.0 L60.0,142.0 L60.0,140.0 L60.0,138.0 L60.0,136.0 L60.0,134.0 L60.0,132.0 L60.0,130.0 L60.0,128.0 L60.0,126.0 L60.0,124.0 L60.0,122.0 L60.0,120.0 L60.0,118.0 L60.0,116.0 L60.0,114.0 L60.0,112.0 L60.0,110.0 L60.0,108.0 L60.0,106.0 L60.0,104.0 L60.0,102.0 L60.0,100.0 L60.0,98.0 L60.0,96.0 L60.0,94.0 L60.0,92.0 L60.0,90.0 L60.0,88.0 L60.0,86.0 L60.0,84.0 L60.0,82.0 L60.0,80.0 L60.0,78.0 L60.0,76.0 L60.0,74.0 L60.0,72.0 L60.0,70.0 L60.0,68.0 L60.0,66.0 L60.0,64.0 L60.0,62.0 L60.0,60.0 L62.0,59.9 L64.0,59.9 L66.0,59.8 L68.0,59.8 L70.0,59.7 L72.0,59.6 L74.0,59.6 L76.0,59.5 L78.0,59.4 L80.0,59.4 L82.0,59.3 L84.0,59.3 L86.0,59.2 L88.0,59.1 L90.0,59.1 L92.0,59.0 L94.0,58.9 L96.0,58.9 L98.0,58.8 L100.0,58.8 L102.0,58.7 L104.0,58.6 L106.0,58.6 L108.0,58.5 L110.0,58.4 L112.0,58.4 L114.0,58.3 L116.0,58.3 L118.0,58.2 L120.0,58.1 L122.0,58.1 L124.0,58.0 L126.0,57.9 L128.0,57.9 L130.0,57.8 L132.0,57.8 L134.0,57.7 L136.0,57.6 L138.0,57.6 L140.0,57.5 L142.0,57.4 L144.0,57.4 L146.0,57.3 L148.0,57.3 L150.0,57.2 L152.0,57.1 L154.0,57.1 L156.0,57.0 L158.0,56.9 L160.0,56.9 L162.0,56.8 L163.9,56.8 L165.9,56.7 L167.9,56.6 L169.9,56.6 L171.9,56.5 L173.9,56.4 L175.9,56.4 L177.9,56.3 L179.9,56.3 L181.9,56.2 L183.9,56.1 L185.9,56.1 L187.9,56.0 L189.9,55.9 L191.9,55.9 L193.9,55.8 L195.9,55.8 L197.9,55.7 L199.9,55.6 L201.9,55.6 L203.9,55.5 L205.9,55.4 L207.9,55.4 L209.9,55.3 L211.9,55.3 L213.9,55.2 L215.9,55.1 L217.9,55.1 L219.9,55.0 L221.9,54.9 L223.9,54.9 L225.9,54.8 L227.9,54.8 L229.9,54.7 L231.9,54.6 L233.9,54.6 L235.9,54.5 L237.9,54.4 L239.9,54.4 L241.9,54.3 L243.9,54.3 L245.9,54.2 L247.9,54.1 L249.9,54.1 L251.9,54.0 L253.9,53.9 L255.9,53.9 L257.9,53.8 L259.9,53.8 L261.9,53.7 L263.9,53.6 L265.9,53.6 L267.9,53.5 L269.9,53.4 L271.9,53.4 L273.9,53.3 L275.9,53.3 L277.9,53.2 L279.9,53.1 L281.9,53.1 L283.9,53.0 L285.9,52.9 L287.9,52.9 L289.9,52.8 L291.9,52.8 L293.9,52.7 L295.9,52.6 L297.9,52.6 L299.9,52.5 L301.9,52.4 L303.9,52.4 L305.9,52.3 L307.9,52.3 L309.9,52.2 L311.9,52.1 L313.9,52.1 L315.9,52.0 L317.9,51.9 L319.9,51.9 L321.9,51.8 L323.9,51.8 L325.9,51.7 L327.9,51.6 L329.9,51.6 L331.9,51.5 L333.9,51.4 L335.9,51.4 L337.9,51.3 L339.9,51.3 L341.9,51.2 L343.9,51.1 L345.9,51.1 L347.9,51.0 L349.9,50.9 L351.9,50.9 L353.9,50.8 L355.9,50.8 L357.9,50.7 L359.9,50.6 L361.9,50.6 L363.9,50.5 L365.9,50.4 L367.8,50.4 L369.8,50.3 L371.8,50.3 L373.8,50.2 L375.8,50.1 L377.8,50.1 L379.8,50.0 L381.8,49.9 L383.8,49.9 L385.8,49.8 L387.8,49.8 L389.8,49.7 L391.8,49.6 L393.8,49.6 L395.8,49.5 L397.8,49.4 L399.8,49.4 L401.8,49.3 L403.8,49.3 L405.8,49.2 L407.8,49.1 L409.8,49.1 L411.8,49.0 L413.8,48.9 L415.8,48.9 L417.8,48.8 L419.8,48.8 L421.8,48.7 L423.8,48.6 L425.8,48.6 L427.8,48.5 L429.8,48.4 L431.8,48.4 L433.8,48.3 L435.8,48.3 L437.8,48.2 L439.8,48.1 L441.8,48.1 L443.8,48.0 L445.8,47.9 L447.8,47.9 L449.8,47.8 L451.8,47.8 L453.8,47.7 L455.8,47.6 L457.8,47.6 L459.8,47.5 L461.8,47.4 L463.8,47.4 L465.8,47.3 L467.8,47.3 L469.8,47.2 L471.8,47.1 L473.8,47.1 L475.8,47.0 L477.8,46.9 L479.8,46.9 L481.8,46.8 L483.8,46.8 L485.8,46.7 L487.8,46.6 L489.8,46.6 L491.8,46.5 L493.8,46.4 L495.8,46.4 L497.8,46.3 L499.8,46.3 L501.8,46.2 L503.8,46.1 L505.8,46.1 L507.8,46.0 L509.8,45.9 L511.8,45.9 L513.8,45.8 L515.8,45.8 L517.8,45.7 L519.8,45.6 L521.8,45.6 L523.8,45.5 L525.8,45.4 L527.8,45.4 L529.8,45.3 L531.8,45.3 L533.8,45.2 L535.8,45.1 L537.8,45.1 L539.8,45.0 L541.8,44.9 L543.8,44.9 L545.8,44.8 L547.8,44.8 L549.8,44.7 L551.8,44.6 L553.8,44.6 L555.8,44.5 L557.8,44.4 L559.8,44.4 L561.8,44.3 L563.8,44.3 L565.8,44.2 L567.8,44.1 L569.8,44.1 L571.8,44.0 L573.7,43.9 L575.7,43.9 L577.7,43.8 L579.7,43.8 L581.7,43.7 L583.7,43.6 L585.7,43.6 L587.7,43.5 L589.7,43.4 L591.7,43.4 L593.7,43.3 L595.7,43.3 L597.7,43.2 L599.7,43.1 L601.7,43.1 L603.7,43.0 L605.7,42.9 L607.7,42.9 L609.7,42.8 L611.7,42.8 L613.7,42.7 L615.7,42.6 L617.7,42.6 L619.7,42.5 L621.7,42.4 L623.7,42.4 L625.7,42.3 L627.7,42.3 L629.7,42.2 L631.7,42.1 L633.7,42.1 L635.7,42.0 L637.7,41.9 L639.7,41.9 L641.7,41.8 L643.7,41.8 L645.7,41.7 L647.7,41.6 L649.7,41.6 L651.7,41.5 L653.7,41.4 L655.7,41.4 L657.7,41.3 L659.7,41.3 L661.7,41.2 L663.7,41.1 L665.7,41.1 L667.7,41.0 L669.7,40.9 L671.7,40.9 L673.7,40.8 L675.7,40.8 L677.7,40.7 L679.7,40.6 L681.7,40.6 L683.7,40.5 L685.7,40.4 L687.6,40.4 L689.6,40.3 L691.5,40.3 L693.4,40.2 L695.3,40.1 L697.2,40.1 L699.1,40.0 L700.9,40.5 L702.6,41.5 L704.3,42.5 L706.1,43.5 L707.8,44.5 L709.5,45.5 L711.3,46.5 L713.0,47.5 L714.7,48.5 L716.5,49.5 L718.2,50.5 L719.9,51.5 L721.7,52.5 L723.4,53.5 L725.1,54.5 L726.9,55.5 L728.6,56.5 L730.3,57.5 L732.0,58.5 L733.8,59.5 L735.5,60.5 L737.2,61.5 L739.0,62.5 L740.7,63.5 L742.4,64.5 L744.2,65.5 L745.9,66.5 L747.6,67.5 L749.4,68.5 L751.1,69.5 L752.8,70.5 L754.6,71.5 L756.3,72.5 L758.0,73.5 L759.8,74.5 L761.5,75.5 L763.2,76.5 L765.0,77.5 L766.7,78.5 L768.4,79.5 L770.2,80.5 L771.9,81.5 L773.6,82.5 L775.3,83.5 L777.1,84.5 L778.8,85.5 L780.5,86.5 L782.3,87.5 L784.0,88.5 L785.7,89.5 L787.5,90.5 L789.2,91.5 L790.9,92.5 L792.7,93.5 L794.4,94.5 L796.1,95.5 L797.9,96.5 L799.6,97.5 L801.3,98.5 L803.1,99.5 L804.8,100.5 L806.5,101.5 L808.3,102.4 L810.0,103.4 L811.8,104.4 L813.5,105.4 L815.2,106.4 L817.0,107.4 L818.7,108.4 L820.4,109.5 L822.1,110.5 L823.8,111.5 L825.5,112.6 L827.2,113.7 L828.9,114.7 L830.5,115.8 L832.2,117.0 L833.8,118.1 L835.5,119.3 L837.1,120.5 L838.7,121.7 L840.2,122.9 L841.8,124.1 L843.3,125.4 L844.8,126.7 L846.3,128.0 L847.8,129.4 L849.2,130.8 L850.6,132.2 L852.0,133.6 L853.4,135.1 L854.7,136.6 L856.0,138.1 L857.3,139.6 L858.5,141.2 L859.7,142.8 L860.9,144.4 L862.0,146.0 L863.1,147.7 L864.2,149.4 L865.3,151.1 L866.3,152.8 L867.3,154.5 L868.3,156.2 L869.2,158.0 L870.2,159.8 L871.1,161.5 L872.0,163.3 L872.9,165.1 L873.8,166.9 L874.7,168.7 L875.6,170.5 L876.5,172.3 L877.3,174.1 L878.2,175.9 L879.0,177.7 L879.8,179.5 L880.6,181.4 L881.4,183.2 L882.1,185.1 L882.9,186.9 L883.6,188.8 L884.3,190.6 L885.0,192.5 L885.6,194.4 L886.3,196.3 L886.9,198.2 L887.5,200.1 L888.1,202.0 L888.7,203.9 L889.3,205.8 L889.8,207.7 L890.4,209.7 L890.9,211.6 L891.4,213.5 L891.8,215.5 L892.3,217.4 L892.7,219.4 L893.1,221.3 L893.5,223.3 L893.9,225.3 L894.2,227.2 L894.6,229.2 L894.9,231.2 L895.2,233.2 L895.4,235.1 L895.7,237.1 L896.0,239.1 L896.2,241.1 L896.4,243.1 L896.6,245.1 L896.8,247.1 L897.0,249.0 L897.2,251.0 L897.4,253.0 L897.6,255.0 L897.7,257.0 L897.9,259.0 L898.0,261.0 L898.2,263.0 L898.3,265.0 L898.4,267.0 L898.6,269.0 L898.7,271.0 L898.8,273.0 L898.8,275.0 L898.9,277.0 L898.9,279.0 L899.0,281.0 L899.0,283.0 L899.0,285.0 L899.0,287.0 L899.0,289.0 L898.9,291.0 L898.9,293.0 L898.8,295.0 L898.8,297.0 L898.7,299.0 L898.7,301.0 L898.6,303.0 L898.5,305.0 L898.4,307.0 L898.4,309.0 L898.3,310.9 L898.2,312.9 L898.1,314.9 L898.0,316.9 L897.9,318.9 L897.8,320.9 L897.6,322.9 L897.5,324.9 L897.4,326.9 L897.2,328.9 L897.0,330.9 L896.9,332.9 L896.6,334.9 L896.4,336.9 L896.2,338.8 L895.9,340.8 L895.6,342.8 L895.2,344.8 L894.8,346.7 L894.4,348.6 L893.9,350.6 L893.4,352.5 L892.8,354.4 L892.2,356.3 L891.6,358.2 L890.9,360.1 L890.3,362.0 L889.6,363.9 L888.9,365.7 L888.2,367.6 L887.5,369.5 L886.9,371.4 L886.2,373.3 L885.5,375.1 L884.8,377.0 L884.1,378.9 L883.4,380.7 L882.6,382.6 L881.9,384.5 L881.2,386.3 L880.4,388.2 L879.6,390.0 L878.8,391.8 L878.0,393.6 L877.1,395.4 L876.2,397.2 L875.3,399.0 L874.4,400.8 L873.5,402.6 L872.5,404.3 L871.6,406.1 L870.6,407.8 L869.6,409.6 L868.6,411.3 L867.6,413.0 L866.5,414.7 L865.5,416.4 L864.4,418.1 L863.3,419.8 L862.2,421.4 L861.1,423.1 L860.0,424.7 L858.8,426.4 L857.7,428.0 L856.5,429.6 L855.3,431.2 L854.1,432.9 L852.9,434.5 L851.7,436.1 L850.5,437.7 L849.3,439.3 L848.1,440.8 L846.9,442.4 L845.7,444.0 L844.5,445.6 L843.3,447.2 L842.1,448.8 L840.8,450.4 L839.6,452.0 L838.4,453.6 L837.2,455.1 L836.0,456.7 L834.7,458.3 L833.5,459.9 L832.3,461.5 L831.1,463.1 L829.9,464.6 L828.6,466.2 L827.4,467.8 L826.2,469.4 L825.0,471.0 L823.8,472.6 L822.6,474.2 L821.4,475.8 L820.2,477.4 L819.0,479.0 L817.8,480.6 L816.5,482.2 L815.3,483.8 L814.1,485.3 L812.9,486.9 L811.6,488.5 L810.4,490.0 L809.1,491.6 L807.8,493.1 L806.5,494.6 L805.2,496.1 L803.9,497.6 L802.5,499.1 L801.2,500.5 L799.8,502.0 L798.3,503.3 L796.9,504.7 L795.4,506.1 L793.9,507.4 L792.4,508.7 L790.9,510.0 L789.4,511.3 L787.8,512.6 L786.3,513.9 L784.8,515.1 L783.2,516.4 L781.7,517.7 L780.1,518.9 L778.6,520.2 L777.0,521.5 L775.5,522.8 L774.0,524.1 L772.4,525.3 L770.9,526.6 L769.4,527.9 L767.8,529.2 L766.3,530.4 L764.7,531.7 L763.2,533.0 L761.7,534.3 L760.1,535.6 L758.6,536.8 L757.1,538.1 L755.5,539.4 L754.0,540.7 L752.5,542.0 L750.9,543.3 L749.4,544.6 L747.9,545.9 L746.4,547.2 L744.9,548.5 L743.4,549.9 L741.9,551.2 L740.4,552.5 L738.9,553.9 L737.4,555.2 L735.9,556.5 L734.4,557.8 L732.9,559.1 L731.4,560.4 L729.9,561.7 L728.3,562.9 L726.7,564.1 L725.1,565.3 L723.5,566.5 L721.8,567.6 L720.2,568.7 L718.5,569.7 L716.7,570.7 L715.0,571.7 L713.2,572.6 L711.5,573.5 L709.7,574.4 L707.9,575.3 L706.1,576.1 L704.3,577.0 L702.5,577.8 L700.7,578.7 L698.9,579.6 L697.1,580.5 L695.3,581.5 L693.6,582.4 L691.8,583.4 L690.1,584.3 L688.3,585.3 L686.6,586.3 L684.9,587.3 L683.1,588.3 L681.4,589.3 L679.7,590.3 L678.0,591.3 L676.2,592.4 L674.5,593.4 L672.8,594.4 L671.1,595.4 L669.4,596.4 L667.6,597.5 L665.9,598.5 L664.2,599.5 L662.5,600.5 L660.7,601.5 L659.0,602.5 L657.3,603.6 L655.6,604.6 L653.8,605.6 L652.1,606.6 L650.4,607.6 L648.6,608.5 L646.9,609.5 L645.1,610.5 L643.4,611.5 L641.6,612.4 L639.9,613.4 L638.1,614.3 L636.4,615.3 L634.6,616.2 L632.8,617.1 L631.0,618.1 L629.3,619.0 L627.5,619.9 L625.7,620.8 L623.9,621.7 L622.1,622.6 L620.4,623.5 L618.6,624.4 L616.8,625.3 L615.0,626.2 L613.2,627.1 L611.4,628.0 L609.6,628.8 L607.8,629.7 L606.0,630.5 L604.2,631.4 L602.4,632.2 L600.5,633.1 L598.7,633.9 L596.9,634.7 L595.1,635.6 L593.3,636.4 L591.4,637.2 L589.6,638.0 L587.8,638.8 L585.9,639.6 L584.1,640.3 L582.2,641.1 L580.4,641.9 L578.5,642.6 L576.7,643.4 L574.8,644.1 L573.0,644.9 L571.1,645.6 L569.2,646.3 L567.4,647.0 L565.5,647.8 L563.6,648.5 L561.8,649.1 L559.9,649.8 L558.0,650.5 L556.1,651.2 L554.2,651.8 L552.3,652.5 L550.4,653.2 L548.6,653.8 L546.7,654.4 L544.8,655.1 L542.9,655.7 L541.0,656.3 L539.1,656.9 L537.1,657.5 L535.2,658.1 L533.3,658.7 L531.4,659.3 L529.5,659.9 L527.6,660.4 L525.7,661.0 L523.7,661.6 L521.8,662.1 L519.9,662.6 L518.0,663.2 L516.0,663.7 L514.1,664.2 L512.2,664.7 L510.2,665.2 L508.3,665.7 L506.4,666.2 L504.4,666.7 L502.5,667.2 L500.5,667.7 L498.6,668.1 L496.6,668.6 L494.7,669.1 L492.8,669.5 L490.8,670.0 L488.9,670.4 L486.9,670.9 L485.0,671.3 L483.0,671.8 L481.1,672.2 L479.1,672.7 L477.2,673.1 L475.2,673.6 L473.3,674.0 L471.3,674.4 L469.4,674.9 L467.4,675.3 L465.5,675.8 L463.5,676.2 L461.6,676.7 L459.6,677.1 L457.7,677.6 L455.7,678.0 L453.8,678.5 L451.8,678.9 L449.9,679.4 L447.9,679.8 L446.0,680.3 L444.0,680.7 L442.1,681.2 L440.1,681.6 L438.2,682.0 L436.2,682.5 L434.3,682.9 L432.3,683.3 L430.3,683.7 L428.4,684.0 L426.4,684.4 L424.4,684.7 L422.5,685.1 L420.5,685.4 L418.5,685.7 L416.5,686.0 L414.6,686.3 L412.6,686.6 L410.6,686.9 L408.6,687.1 L406.6,687.4 L404.7,687.6 L402.7,687.9 L400.7,688.1 L398.7,688.4 L396.7,688.6 L394.7,688.8 L392.7,689.0 L390.7,689.2 L388.8,689.4 L386.8,689.6 L384.8,689.7 L382.8,689.9 L380.8,690.1 L378.8,690.2 L376.8,690.3 L374.8,690.5 L372.8,690.6 L370.8,690.7 L368.8,690.8 L366.8,690.9 L364.8,690.9 L362.8,691.0 L360.8,691.1 L358.8,691.1 L356.8,691.1 L354.8,691.1 L352.8,691.1 L350.8,691.1 L348.8,691.1 L346.8,691.1 L344.8,691.1 L342.8,691.0 L340.8,691.0 L338.8,690.9 L336.8,690.9 L334.8,690.8 L332.8,690.7 L330.8,690.6 L328.8,690.5 L326.8,690.4 L324.8,690.2 L322.9,690.1 L320.9,689.9 L318.9,689.8 L316.9,689.6 L314.9,689.4 L312.9,689.2 L310.9,689.0 L308.9,688.8 L306.9,688.6 L304.9,688.3 L303.0,688.1 L301.0,687.8 L299.0,687.5 L297.0,687.3 L295.0,687.0 L293.1,686.7 L291.1,686.3 L289.1,686.0 L287.1,685.7 L285.2,685.4 L283.2,685.0 L281.2,684.7 L279.3,684.3 L277.3,684.0 L275.3,683.6 L273.4,683.2 L271.4,682.8 L269.4,682.4 L267.5,682.0 L265.5,681.6 L263.6,681.2 L261.6,680.8 L259.7,680.3 L257.7,679.9 L255.8,679.4 L253.8,678.9 L251.9,678.4 L250.0,677.9 L248.0,677.4 L246.1,676.9 L244.2,676.3 L242.3,675.7 L240.4,675.2 L238.5,674.6 L236.6,673.9 L234.7,673.3 L232.8,672.6 L230.9,672.0 L229.0,671.3 L227.2,670.5 L225.3,669.8 L223.5,669.0 L221.7,668.2 L219.9,667.3 L218.1,666.5 L216.3,665.6 L214.5,664.7 L212.7,663.8 L210.9,662.9 L209.1,662.0 L207.3,661.2 L205.5,660.3 L203.7,659.5 L201.9,658.6 L200.1,657.8 L198.3,656.9 L196.5,656.1 L194.6,655.3 L192.8,654.4 L191.0,653.6 L189.2,652.8 L187.4,651.9 L185.5,651.1 L183.7,650.3 L181.9,649.5 L180.0,648.8 L178.2,648.0 L176.3,647.3 L174.5,646.6 L172.6,645.9 L170.7,645.3 L168.8,644.6 L166.9,644.1 L165.0,643.5 L163.0,643.0 L161.1,642.5 L159.2,642.0 L157.2,641.6 L155.3,641.2 L153.3,640.8 L151.3,640.5 L149.4,640.2 L147.4,639.9 L145.4,639.7 L143.4,639.5 L141.4,639.3 L139.4,639.2 L137.4,639.1 L135.4,638.9 L133.4,638.9 L131.4,638.8 L129.5,638.7 L127.5,638.7 L125.5,638.6 L123.5,638.6 L121.5,638.6 L119.5,638.6 L117.5,638.6 L115.5,638.6 L113.5,638.6 L111.5,638.6 L109.5,638.6 L107.5,638.7 L105.5,638.7 L103.5,638.7 L101.5,638.8 L99.5,638.8 L97.5,638.9 L95.5,638.9 L93.5,639.0 L91.5,639.1 L89.5,639.1 L87.5,639.2 L85.5,639.2 L83.5,639.3 L81.5,639.4 L79.5,639.4 L77.5,639.5 L75.5,639.6 L73.5,639.6 L71.5,639.7 L69.6,639.8 L67.6,639.8 L65.7,639.9 L63.8,639.9 L61.9,640.0 L60.0,640.0 Z" fill="#87acd6" clip-path="url(#cs)"/>
<path d="M605.0,219.5 L605.6,217.6 L606.2,215.7 L606.8,213.8 L607.4,211.9 L608.0,210.0 L608.7,208.1 L609.3,206.2 L609.9,204.3 L610.6,202.4 L611.3,200.5 L611.9,198.6 L612.7,196.8 L613.4,194.9 L614.1,193.0 L614.9,191.2 L615.6,189.3 L616.4,187.5 L617.2,185.7 L618.0,183.8 L618.9,182.0 L619.7,180.2 L620.5,178.4 L621.4,176.6 L622.3,174.8 L623.2,173.0 L624.1,171.2 L625.0,169.5 L625.9,167.7 L626.9,165.9 L627.9,164.2 L628.9,162.5 L629.9,160.7 L630.9,159.0 L632.0,157.3 L633.1,155.7 L634.2,154.0 L635.3,152.3 L636.4,150.7 L637.6,149.1 L638.8,147.5 L640.1,146.0 L641.4,144.4 L642.7,143.0 L644.1,141.5 L645.5,140.1 L647.0,138.8 L648.5,137.6 L650.1,136.4 L651.7,135.4 L653.4,134.4 L655.2,133.5 L657.0,132.6 L658.8,131.9 L660.7,131.2 L662.5,130.5 L664.4,129.9 L666.3,129.3 L668.3,128.7 L670.2,128.2 L672.1,127.7 L674.0,127.2 L676.0,126.7 L677.9,126.2 L679.9,125.8 L681.8,125.4 L683.8,125.0 L685.8,124.6 L687.7,124.2 L689.7,123.9 L691.7,123.6 L693.6,123.3 L695.6,123.0 L697.6,122.8 L699.6,122.6 L701.6,122.4 L703.6,122.3 L705.6,122.1 L707.6,122.0 L709.6,122.0 L711.6,121.9 L713.5,122.0 L715.5,122.0 L717.5,122.1 L719.5,122.2 L721.5,122.4 L723.5,122.6 L725.5,122.9 L727.4,123.2 L729.4,123.6 L731.3,124.0 L733.3,124.5 L735.2,125.0 L737.1,125.6 L739.0,126.2 L740.9,126.8 L742.8,127.5 L744.6,128.2 L746.5,129.0 L748.3,129.8 L750.1,130.7 L751.8,131.6 L753.6,132.6 L755.3,133.5 L757.0,134.6 L758.7,135.6 L760.4,136.8 L762.0,137.9 L763.6,139.1 L765.2,140.3 L766.8,141.5 L768.4,142.7 L769.9,144.0 L771.5,145.3 L773.0,146.5 L774.5,147.8 L776.1,149.1 L777.6,150.4 L779.1,151.7 L780.6,153.0 L782.1,154.3 L783.6,155.6 L785.1,157.0 L786.6,158.3 L788.1,159.6 L789.6,161.0 L791.0,162.4 L792.4,163.8 L793.8,165.2 L795.2,166.7 L796.5,168.2 L797.8,169.7 L799.1,171.2 L800.4,172.8 L801.6,174.3 L802.8,175.9 L804.0,177.5 L805.2,179.1 L806.4,180.7 L807.5,182.4 L808.6,184.0 L809.8,185.7 L810.9,187.4 L811.9,189.0 L813.0,190.7 L814.1,192.4 L815.1,194.1 L816.1,195.8 L817.1,197.6 L818.1,199.3 L819.1,201.1 L820.0,202.8 L820.9,204.6 L821.8,206.4 L822.7,208.2 L823.6,210.0 L824.4,211.8 L825.3,213.6 L826.1,215.4 L826.9,217.3 L827.7,219.1 L828.5,220.9 L829.3,222.8 L830.0,224.6 L830.8,226.5 L831.5,228.3 L832.2,230.2 L832.9,232.1 L833.6,233.9 L834.3,235.8 L835.0,237.7 L835.6,239.6 L836.3,241.5 L836.9,243.4 L837.5,245.3 L838.1,247.2 L838.7,249.1 L839.3,251.0 L839.8,253.0 L840.4,254.9 L840.9,256.8 L841.4,258.7 L842.0,260.7 L842.5,262.6 L843.0,264.5 L843.5,266.5 L844.0,268.4 L844.4,270.3 L844.9,272.3 L845.4,274.2 L845.8,276.2 L846.2,278.1 L846.7,280.1 L847.1,282.0 L847.5,284.0 L847.9,286.0 L848.3,287.9 L848.7,289.9 L849.1,291.8 L849.5,293.8 L849.9,295.8 L850.2,297.7 L850.5,299.7 L850.9,301.7 L851.2,303.7 L851.4,305.6 L851.7,307.6 L852.0,309.6 L852.2,311.6 L852.4,313.6 L852.6,315.6 L852.8,317.6 L853.0,319.5 L853.1,321.5 L853.3,323.5 L853.4,325.5 L853.6,327.5 L853.7,329.5 L853.8,331.5 L853.9,333.5 L854.0,335.5 L854.0,337.5 L854.1,339.5 L854.2,341.5 L854.3,343.5 L854.3,345.5 L854.4,347.5 L854.4,349.5 L854.5,351.5 L854.5,353.5 L854.6,355.5 L854.6,357.5 L854.6,359.5 L854.7,361.5 L854.7,363.5 L854.7,365.5 L854.7,367.5 L854.7,369.5 L854.7,371.5 L854.7,373.5 L854.7,375.5 L854.7,377.5 L854.7,379.5 L854.6,381.5 L854.6,383.5 L854.6,385.5 L854.6,387.5 L854.6,389.5 L854.6,391.5 L854.5,393.5 L854.5,395.5 L854.5,397.5 L852.9,398.7 L851.3,399.9 L849.7,401.2 L848.2,402.4 L846.6,403.6 L845.0,404.8 L843.4,406.0 L841.8,407.3 L840.2,408.5 L838.7,409.7 L837.1,410.9 L835.5,412.2 L833.9,413.4 L832.3,414.6 L830.8,415.9 L829.2,417.1 L827.7,418.4 L826.1,419.6 L824.5,420.9 L823.0,422.2 L821.5,423.4 L820.0,424.7 L818.4,426.1 L817.0,427.4 L815.5,428.7 L814.0,430.1 L812.5,431.4 L811.1,432.8 L809.7,434.2 L808.3,435.6 L806.8,437.0 L805.4,438.5 L804.0,439.9 L802.6,441.3 L801.2,442.7 L799.8,444.2 L798.4,445.6 L797.0,447.0 L795.6,448.4 L794.1,449.8 L792.7,451.2 L791.3,452.6 L789.8,454.0 L788.4,455.4 L787.0,456.8 L785.5,458.1 L784.1,459.5 L782.6,460.9 L781.1,462.2 L779.7,463.6 L778.2,464.9 L776.7,466.2 L775.2,467.6 L773.6,468.9 L772.1,470.1 L770.6,471.4 L769.0,472.7 L767.5,474.0 L765.9,475.2 L764.4,476.5 L762.8,477.7 L761.2,479.0 L759.7,480.2 L758.1,481.4 L756.5,482.6 L754.9,483.8 L753.3,485.0 L751.7,486.2 L750.1,487.4 L748.4,488.5 L746.8,489.7 L745.2,490.9 L743.5,492.0 L741.9,493.1 L740.2,494.3 L738.6,495.4 L736.9,496.5 L735.3,497.6 L733.6,498.8 L731.9,499.9 L730.3,501.0 L728.6,502.1 L726.9,503.2 L725.3,504.2 L723.6,505.3 L721.9,506.4 L720.2,507.5 L718.5,508.6 L716.9,509.7 L715.2,510.7 L713.5,511.8 L711.8,512.9 L710.1,513.9 L708.4,515.0 L706.7,516.1 L705.0,517.1 L703.3,518.2 L701.6,519.2 L699.9,520.3 L698.2,521.3 L696.5,522.4 L694.8,523.4 L693.1,524.5 L691.4,525.5 L689.7,526.5 L687.9,527.6 L686.2,528.6 L684.5,529.6 L682.8,530.6 L681.0,531.6 L679.3,532.6 L677.6,533.6 L675.8,534.6 L674.1,535.6 L672.4,536.5 L670.6,537.5 L668.9,538.5 L667.1,539.4 L665.3,540.4 L663.6,541.3 L661.8,542.3 L660.1,543.2 L658.3,544.2 L656.5,545.1 L654.8,546.1 L653.0,547.0 L651.2,548.0 L649.5,548.9 L647.7,549.8 L646.0,550.8 L644.2,551.8 L642.4,552.7 L640.7,553.7 L639.0,554.7 L637.2,555.7 L635.5,556.6 L633.7,557.6 L632.0,558.7 L630.3,559.7 L628.6,560.7 L626.8,561.7 L625.1,562.7 L623.4,563.7 L621.6,564.7 L619.9,565.7 L618.1,566.6 L616.4,567.5 L614.6,568.4 L612.8,569.3 L611.0,570.2 L609.2,571.0 L607.4,571.9 L605.5,572.7 L603.7,573.4 L601.9,574.2 L600.0,575.0 L598.1,575.7 L596.3,576.4 L594.4,577.1 L592.5,577.8 L590.7,578.5 L588.8,579.2 L586.9,579.9 L585.0,580.5 L583.1,581.2 L581.2,581.8 L579.3,582.5 L577.4,583.1 L575.6,583.8 L573.7,584.4 L571.8,585.1 L569.9,585.7 L568.0,586.3 L566.1,586.9 L564.2,587.6 L562.3,588.2 L560.4,588.8 L558.4,589.4 L556.5,590.0 L554.6,590.6 L552.7,591.2 L550.8,591.7 L548.9,592.3 L547.0,592.9 L545.0,593.5 L543.1,594.0 L541.2,594.6 L539.3,595.1 L537.4,595.7 L535.4,596.2 L533.5,596.8 L531.6,597.4 L529.7,597.9 L527.8,598.5 L525.8,599.0 L523.9,599.6 L522.0,600.2 L520.1,600.7 L518.2,601.3 L516.3,601.9 L514.3,602.4 L512.4,603.0 L510.5,603.6 L508.6,604.1 L506.7,604.7 L504.7,605.3 L502.8,605.8 L500.9,606.4 L499.0,606.9 L497.1,607.5 L495.1,608.0 L493.2,608.5 L491.3,609.1 L489.3,609.6 L487.4,610.1 L485.5,610.6 L483.5,611.1 L481.6,611.5 L479.6,612.0 L477.7,612.4 L475.7,612.9 L473.8,613.3 L471.8,613.7 L469.9,614.1 L467.9,614.5 L466.0,614.9 L464.0,615.3 L462.0,615.7 L460.1,616.1 L458.1,616.4 L456.1,616.8 L454.2,617.1 L452.2,617.5 L450.2,617.8 L448.2,618.2 L446.3,618.5 L444.3,618.8 L442.3,619.1 L440.3,619.4 L438.4,619.7 L436.4,619.9 L434.4,620.2 L432.4,620.5 L430.4,620.7 L428.4,620.9 L426.5,621.2 L424.5,621.4 L422.5,621.6 L420.5,621.8 L418.5,622.0 L416.5,622.1 L414.5,622.3 L412.5,622.5 L410.5,622.7 L408.5,622.9 L406.6,623.1 L404.6,623.3 L402.6,623.5 L400.6,623.7 L398.6,623.9 L396.6,624.1 L394.6,624.3 L392.6,624.6 L390.6,624.8 L388.7,625.0 L386.7,625.2 L384.7,625.5 L382.7,625.7 L380.7,625.9 L378.7,626.1 L376.7,626.3 L374.7,626.5 L372.7,626.7 L370.8,626.9 L368.8,627.1 L366.8,627.3 L364.8,627.4 L362.8,627.6 L360.8,627.7 L358.8,627.9 L356.8,628.0 L354.8,628.1 L352.8,628.1 L350.8,628.2 L348.8,628.3 L346.8,628.3 L344.8,628.3 L342.8,628.3 L340.8,628.3 L338.8,628.3 L336.8,628.3 L334.8,628.3 L332.8,628.2 L330.8,628.2 L328.8,628.1 L326.8,628.0 L324.8,628.0 L322.8,627.9 L320.8,627.8 L318.8,627.7 L316.8,627.6 L314.8,627.5 L312.8,627.4 L310.8,627.3 L308.8,627.2 L306.8,627.0 L304.9,626.9 L302.9,626.8 L300.9,626.6 L298.9,626.5 L296.9,626.3 L294.9,626.2 L292.9,626.0 L290.9,625.8 L288.9,625.6 L286.9,625.4 L284.9,625.1 L283.0,624.9 L281.0,624.6 L279.0,624.3 L277.0,623.9 L275.1,623.6 L273.1,623.2 L271.2,622.8 L269.2,622.4 L267.3,621.9 L265.3,621.4 L263.4,621.0 L261.4,620.4 L259.5,619.9 L257.6,619.3 L255.7,618.8 L253.8,618.2 L251.9,617.6 L250.0,617.0 L248.1,616.3 L246.2,615.7 L244.3,615.1 L242.4,614.4 L240.5,613.7 L238.6,613.0 L236.8,612.3 L234.9,611.6 L233.0,610.9 L231.2,610.1 L229.3,609.4 L227.5,608.6 L225.6,607.8 L223.8,607.0 L222.0,606.2 L220.2,605.4 L218.4,604.5 L216.6,603.6 L214.8,602.7 L213.0,601.8 L211.3,600.8 L209.6,599.8 L207.9,598.8 L206.2,597.7 L204.5,596.6 L202.9,595.5 L201.2,594.4 L199.6,593.2 L198.0,592.0 L196.4,590.8 L194.8,589.6 L193.3,588.3 L191.7,587.0 L190.2,585.7 L188.7,584.4 L187.3,583.0 L185.9,581.6 L184.5,580.2 L183.2,578.7 L181.9,577.2 L180.6,575.6 L179.4,574.0 L178.3,572.4 L177.1,570.8 L176.0,569.1 L175.0,567.4 L174.0,565.7 L173.0,564.0 L172.1,562.2 L171.2,560.4 L170.3,558.6 L169.5,556.8 L168.8,555.0 L168.0,553.1 L167.3,551.2 L166.6,549.4 L165.9,547.5 L165.3,545.6 L164.7,543.7 L164.1,541.8 L163.6,539.9 L163.0,537.9 L162.5,536.0 L162.1,534.1 L161.6,532.1 L161.2,530.2 L160.8,528.2 L160.4,526.2 L160.0,524.3 L159.6,522.3 L159.3,520.3 L158.9,518.4 L158.6,516.4 L158.3,514.4 L158.0,512.5 L157.8,510.5 L157.5,508.5 L157.3,506.5 L157.1,504.5 L157.0,502.5 L156.9,500.6 L157.0,498.6 L157.0,496.6 L157.2,494.6 L157.4,492.7 L157.7,490.7 L158.1,488.7 L158.5,486.8 L159.0,484.8 L159.5,482.9 L160.0,481.0 L160.5,479.1 L161.1,477.2 L161.7,475.3 L162.4,473.4 L163.1,471.5 L163.8,469.6 L164.6,467.8 L165.4,466.0 L166.2,464.2 L167.1,462.4 L168.0,460.6 L169.0,458.9 L170.0,457.2 L171.0,455.4 L172.1,453.8 L173.2,452.1 L174.3,450.4 L175.4,448.8 L176.6,447.2 L177.8,445.6 L179.0,444.0 L180.2,442.4 L181.5,440.8 L182.7,439.3 L184.0,437.7 L185.3,436.2 L186.6,434.7 L187.9,433.2 L189.2,431.7 L190.6,430.2 L191.9,428.7 L193.3,427.3 L194.7,425.8 L196.0,424.4 L197.4,422.9 L198.9,421.5 L200.3,420.1 L201.7,418.7 L203.1,417.3 L204.6,416.0 L206.1,414.6 L207.5,413.2 L209.0,411.9 L210.5,410.6 L212.0,409.2 L213.5,407.9 L215.0,406.6 L216.6,405.4 L218.1,404.1 L219.7,402.9 L221.3,401.6 L222.8,400.4 L224.4,399.2 L226.0,398.0 L227.7,396.8 L229.3,395.7 L230.9,394.6 L232.6,393.5 L234.3,392.4 L236.0,391.3 L237.7,390.2 L239.4,389.2 L241.1,388.2 L242.8,387.1 L244.5,386.1 L246.3,385.1 L248.0,384.2 L249.8,383.2 L251.5,382.2 L253.3,381.2 L255.0,380.3 L256.8,379.3 L258.5,378.4 L260.3,377.4 L262.0,376.5 L263.8,375.5 L265.6,374.6 L267.3,373.6 L269.1,372.7 L270.9,371.8 L272.6,370.9 L274.4,369.9 L276.2,369.0 L278.0,368.1 L279.8,367.2 L281.5,366.3 L283.3,365.4 L285.1,364.5 L286.9,363.6 L288.7,362.7 L290.5,361.9 L292.3,361.0 L294.1,360.2 L296.0,359.3 L297.8,358.5 L299.6,357.7 L301.4,356.9 L303.2,356.0 L305.1,355.2 L306.9,354.4 L308.7,353.6 L310.5,352.7 L312.3,351.9 L314.2,351.1 L316.0,350.3 L317.8,349.5 L319.7,348.7 L321.5,347.9 L323.3,347.1 L325.2,346.3 L327.0,345.5 L328.8,344.7 L330.7,343.9 L332.5,343.2 L334.4,342.4 L336.2,341.7 L338.1,341.0 L340.0,340.2 L341.8,339.5 L343.7,338.8 L345.6,338.1 L347.4,337.4 L349.3,336.7 L351.2,336.0 L353.1,335.3 L355.0,334.6 L356.8,333.9 L358.7,333.3 L360.6,332.6 L362.5,331.9 L364.4,331.2 L366.2,330.5 L368.1,329.8 L370.0,329.2 L371.9,328.5 L373.7,327.8 L375.6,327.1 L377.5,326.4 L379.4,325.7 L381.2,325.0 L383.1,324.3 L385.0,323.6 L386.9,322.9 L388.7,322.2 L390.6,321.5 L392.5,320.8 L394.4,320.1 L396.2,319.4 L398.1,318.7 L400.0,318.0 L401.9,317.3 L403.7,316.6 L405.6,315.9 L407.5,315.2 L409.3,314.5 L411.2,313.8 L413.1,313.1 L415.0,312.4 L416.8,311.7 L418.7,311.0 L420.6,310.3 L422.5,309.6 L424.3,308.9 L426.2,308.2 L428.1,307.5 L430.0,306.8 L431.8,306.1 L433.7,305.4 L435.6,304.7 L437.5,304.0 L439.3,303.3 L441.2,302.6 L443.1,301.9 L445.0,301.2 L446.8,300.5 L448.7,299.8 L450.6,299.1 L452.5,298.4 L454.3,297.7 L456.2,297.0 L458.1,296.3 L460.0,295.6 L461.8,295.0 L463.7,294.3 L465.6,293.6 L467.5,292.9 L469.3,292.2 L471.2,291.5 L473.1,290.9 L475.0,290.2 L476.9,289.5 L478.8,288.9 L480.6,288.2 L482.5,287.5 L484.4,286.8 L486.3,286.1 L488.1,285.4 L490.0,284.7 L491.9,284.0 L493.7,283.2 L495.6,282.5 L497.4,281.7 L499.3,280.9 L501.1,280.1 L502.9,279.3 L504.8,278.5 L506.6,277.6 L508.4,276.8 L510.2,275.9 L512.0,275.1 L513.8,274.2 L515.6,273.3 L517.3,272.4 L519.1,271.5 L520.9,270.5 L522.7,269.6 L524.4,268.7 L526.2,267.7 L528.0,266.8 L529.7,265.8 L531.5,264.9 L533.2,263.9 L535.0,262.9 L536.7,262.0 L538.5,261.0 L540.2,260.0 L541.9,259.0 L543.7,258.0 L545.4,257.0 L547.2,256.0 L548.9,255.0 L550.6,254.0 L552.3,253.0 L554.1,252.0 L555.8,251.0 L557.5,249.9 L559.2,248.9 L560.9,247.9 L562.6,246.8 L564.3,245.8 L566.0,244.7 L567.7,243.7 L569.4,242.6 L571.1,241.5 L572.8,240.5 L574.5,239.4 L576.2,238.3 L577.9,237.2 L579.5,236.1 L581.2,235.1 L582.9,234.0 L584.6,232.9 L586.2,231.8 L587.9,230.7 L589.6,229.6 L591.3,228.5 L592.9,227.4 L594.6,226.3 L596.2,225.2 L597.9,224.2 L599.5,223.1 L601.1,222.1 L602.6,221.0 L604.2,220.0 L605.0,219.5 Z" fill="#9dc7ec"/>
<path d="M621.8,233.8 L622.5,231.9 L623.2,230.1 L623.9,228.2 L624.6,226.3 L625.4,224.5 L626.1,222.6 L626.8,220.7 L627.5,218.9 L628.3,217.0 L629.0,215.1 L629.8,213.3 L630.5,211.4 L631.3,209.6 L632.0,207.7 L632.7,205.9 L633.4,204.0 L634.0,202.1 L634.5,200.2 L635.0,198.2 L635.4,196.3 L635.8,194.3 L636.1,192.3 L636.4,190.4 L636.7,188.4 L637.0,186.4 L637.4,184.5 L637.8,182.5 L638.3,180.6 L638.9,178.7 L639.6,176.8 L640.3,175.0 L641.1,173.2 L642.0,171.4 L643.0,169.7 L644.0,168.0 L645.1,166.3 L646.3,164.7 L647.6,163.1 L648.9,161.7 L650.3,160.2 L651.7,158.9 L653.3,157.7 L654.9,156.5 L656.6,155.5 L658.3,154.5 L660.1,153.6 L661.9,152.8 L663.7,152.1 L665.6,151.4 L667.5,150.9 L669.5,150.4 L671.4,150.0 L673.4,149.6 L675.3,149.3 L677.3,149.0 L679.3,148.7 L681.3,148.3 L683.2,148.0 L685.2,147.6 L687.2,147.3 L689.1,146.9 L691.1,146.5 L693.0,146.1 L695.0,145.7 L697.0,145.5 L698.9,145.2 L700.9,145.1 L702.9,145.0 L704.9,145.0 L706.9,145.1 L708.9,145.3 L710.9,145.5 L712.9,145.7 L714.8,146.0 L716.8,146.4 L718.7,146.9 L720.6,147.5 L722.5,148.1 L724.4,148.8 L726.2,149.5 L728.0,150.3 L729.8,151.2 L731.6,152.1 L733.3,153.1 L735.1,154.1 L736.8,155.2 L738.5,156.2 L740.1,157.3 L741.8,158.4 L743.5,159.6 L745.1,160.7 L746.7,161.9 L748.3,163.1 L749.9,164.3 L751.5,165.5 L753.1,166.7 L754.6,168.0 L756.2,169.3 L757.7,170.6 L759.2,171.9 L760.7,173.2 L762.2,174.6 L763.6,175.9 L765.1,177.3 L766.5,178.7 L767.9,180.1 L769.3,181.5 L770.7,183.0 L772.0,184.5 L773.4,185.9 L774.7,187.4 L776.0,188.9 L777.3,190.5 L778.5,192.0 L779.8,193.6 L781.0,195.2 L782.1,196.8 L783.2,198.5 L784.3,200.2 L785.3,201.9 L786.4,203.6 L787.3,205.4 L788.3,207.1 L789.2,208.9 L790.1,210.7 L791.1,212.4 L792.0,214.2 L792.9,216.0 L793.8,217.8 L794.7,219.5 L795.7,221.3 L796.6,223.1 L797.6,224.8 L798.5,226.6 L799.4,228.4 L800.4,230.1 L801.3,231.9 L802.2,233.7 L803.1,235.5 L803.9,237.3 L804.8,239.1 L805.6,240.9 L806.4,242.7 L807.2,244.6 L808.0,246.4 L808.7,248.3 L809.4,250.2 L810.1,252.0 L810.7,253.9 L811.4,255.8 L812.0,257.7 L812.6,259.6 L813.2,261.5 L813.8,263.4 L814.4,265.4 L815.0,267.3 L815.5,269.2 L816.1,271.1 L816.6,273.0 L817.2,275.0 L817.7,276.9 L818.3,278.8 L818.8,280.7 L819.3,282.7 L819.8,284.6 L820.4,286.5 L820.9,288.5 L821.4,290.4 L821.9,292.3 L822.3,294.3 L822.8,296.2 L823.3,298.2 L823.7,300.1 L824.1,302.1 L824.6,304.0 L825.0,306.0 L825.4,308.0 L825.7,309.9 L826.1,311.9 L826.5,313.8 L826.8,315.8 L827.2,317.8 L827.5,319.8 L827.8,321.7 L828.1,323.7 L828.3,325.7 L828.6,327.7 L828.8,329.7 L829.0,331.7 L829.2,333.6 L829.4,335.6 L829.5,337.6 L829.7,339.6 L829.8,341.6 L829.9,343.6 L830.0,345.6 L830.0,347.6 L830.1,349.6 L830.2,351.6 L830.2,353.6 L830.3,355.6 L830.3,357.6 L830.3,359.6 L830.4,361.6 L830.4,363.6 L830.4,365.6 L830.4,367.6 L830.5,369.6 L830.5,371.6 L830.5,373.6 L830.5,375.6 L830.5,377.5 L830.5,379.4 L830.6,381.3 L830.6,383.1 L830.0,384.8 L828.7,386.3 L827.4,387.8 L826.1,389.3 L824.8,390.9 L823.5,392.4 L822.1,393.9 L820.8,395.3 L819.4,396.8 L818.0,398.2 L816.5,399.5 L815.1,400.9 L813.6,402.2 L812.0,403.5 L810.5,404.8 L808.9,406.0 L807.4,407.3 L805.8,408.5 L804.2,409.7 L802.6,410.9 L801.0,412.1 L799.4,413.3 L797.8,414.5 L796.2,415.7 L794.5,416.8 L792.9,418.0 L791.3,419.2 L789.7,420.4 L788.1,421.5 L786.4,422.7 L784.8,423.9 L783.2,425.1 L781.6,426.3 L780.0,427.5 L778.4,428.7 L776.8,429.9 L775.2,431.1 L773.6,432.2 L772.0,433.4 L770.4,434.6 L768.8,435.8 L767.2,437.0 L765.6,438.2 L764.0,439.4 L762.4,440.6 L760.8,441.8 L759.2,443.0 L757.6,444.2 L756.0,445.4 L754.4,446.6 L752.8,447.8 L751.2,449.0 L749.6,450.2 L747.9,451.4 L746.3,452.6 L744.7,453.8 L743.1,454.9 L741.5,456.1 L739.9,457.3 L738.3,458.5 L736.7,459.7 L735.0,460.8 L733.4,462.0 L731.8,463.1 L730.1,464.3 L728.5,465.4 L726.8,466.6 L725.2,467.7 L723.5,468.8 L721.9,469.9 L720.2,471.1 L718.6,472.2 L716.9,473.3 L715.2,474.4 L713.6,475.5 L711.9,476.6 L710.2,477.7 L708.5,478.8 L706.9,479.9 L705.2,481.0 L703.5,482.1 L701.8,483.1 L700.2,484.2 L698.5,485.3 L696.8,486.4 L695.1,487.5 L693.4,488.6 L691.7,489.6 L690.1,490.7 L688.4,491.8 L686.7,492.8 L685.0,493.9 L683.3,495.0 L681.6,496.0 L679.9,497.1 L678.2,498.1 L676.5,499.2 L674.8,500.2 L673.1,501.3 L671.4,502.4 L669.7,503.4 L668.0,504.5 L666.3,505.5 L664.6,506.6 L662.9,507.6 L661.2,508.7 L659.5,509.7 L657.8,510.8 L656.1,511.8 L654.4,512.9 L652.7,513.9 L651.0,514.9 L649.2,516.0 L647.5,517.0 L645.8,518.0 L644.1,519.0 L642.3,520.0 L640.6,521.0 L638.9,522.0 L637.1,523.0 L635.4,523.9 L633.6,524.9 L631.9,525.8 L630.1,526.8 L628.3,527.7 L626.5,528.6 L624.8,529.5 L623.0,530.4 L621.2,531.3 L619.4,532.2 L617.6,533.1 L615.8,534.0 L614.0,534.8 L612.2,535.7 L610.4,536.6 L608.6,537.5 L606.8,538.4 L605.0,539.2 L603.2,540.1 L601.4,541.0 L599.6,541.8 L597.8,542.7 L596.0,543.6 L594.2,544.4 L592.4,545.3 L590.6,546.1 L588.7,546.9 L586.9,547.8 L585.1,548.6 L583.3,549.4 L581.4,550.2 L579.6,551.0 L577.8,551.8 L575.9,552.6 L574.1,553.3 L572.2,554.1 L570.4,554.9 L568.5,555.6 L566.7,556.4 L564.8,557.1 L563.0,557.9 L561.1,558.6 L559.3,559.4 L557.4,560.1 L555.5,560.8 L553.7,561.5 L551.8,562.2 L549.9,563.0 L548.1,563.7 L546.2,564.4 L544.3,565.1 L542.4,565.7 L540.6,566.4 L538.7,567.1 L536.8,567.8 L534.9,568.4 L533.0,569.1 L531.1,569.7 L529.2,570.4 L527.3,571.0 L525.4,571.7 L523.5,572.3 L521.6,572.9 L519.7,573.5 L517.8,574.2 L515.9,574.8 L514.0,575.4 L512.1,576.0 L510.2,576.6 L508.3,577.2 L506.4,577.9 L504.5,578.5 L502.6,579.1 L500.7,579.7 L498.8,580.3 L496.9,580.9 L495.0,581.5 L493.1,582.1 L491.2,582.7 L489.2,583.2 L487.3,583.8 L485.4,584.4 L483.5,584.9 L481.6,585.5 L479.6,586.1 L477.7,586.6 L475.8,587.1 L473.9,587.7 L471.9,588.2 L470.0,588.7 L468.1,589.2 L466.1,589.7 L464.2,590.2 L462.3,590.7 L460.3,591.2 L458.4,591.7 L456.4,592.2 L454.5,592.6 L452.5,593.0 L450.6,593.4 L448.6,593.8 L446.6,594.1 L444.7,594.5 L442.7,594.8 L440.7,595.1 L438.8,595.5 L436.8,595.8 L434.8,596.0 L432.8,596.3 L430.8,596.6 L428.9,596.9 L426.9,597.1 L424.9,597.4 L422.9,597.6 L420.9,597.9 L418.9,598.1 L417.0,598.4 L415.0,598.6 L413.0,598.9 L411.0,599.1 L409.0,599.3 L407.0,599.5 L405.0,599.7 L403.0,600.0 L401.1,600.2 L399.1,600.4 L397.1,600.6 L395.1,600.8 L393.1,601.0 L391.1,601.2 L389.1,601.3 L387.1,601.5 L385.1,601.7 L383.1,601.9 L381.1,602.0 L379.1,602.2 L377.2,602.3 L375.2,602.5 L373.2,602.6 L371.2,602.7 L369.2,602.8 L367.2,603.0 L365.2,603.1 L363.2,603.2 L361.2,603.3 L359.2,603.4 L357.2,603.4 L355.2,603.5 L353.2,603.6 L351.2,603.6 L349.2,603.7 L347.2,603.7 L345.2,603.8 L343.2,603.8 L341.2,603.8 L339.2,603.8 L337.2,603.8 L335.2,603.8 L333.2,603.8 L331.2,603.8 L329.2,603.8 L327.2,603.7 L325.2,603.7 L323.2,603.6 L321.2,603.5 L319.2,603.4 L317.2,603.3 L315.2,603.2 L313.2,603.1 L311.2,602.9 L309.2,602.8 L307.2,602.6 L305.2,602.4 L303.3,602.2 L301.3,601.9 L299.3,601.7 L297.3,601.4 L295.3,601.1 L293.3,600.8 L291.4,600.5 L289.4,600.2 L287.4,599.9 L285.5,599.5 L283.5,599.1 L281.5,598.8 L279.6,598.4 L277.6,598.0 L275.7,597.5 L273.7,597.1 L271.8,596.7 L269.8,596.2 L267.9,595.8 L265.9,595.3 L264.0,594.8 L262.0,594.4 L260.1,593.9 L258.1,593.4 L256.2,592.9 L254.3,592.4 L252.3,591.9 L250.4,591.3 L248.5,590.8 L246.6,590.3 L244.6,589.7 L242.7,589.2 L240.8,588.6 L238.9,587.9 L237.0,587.3 L235.2,586.6 L233.3,585.8 L231.5,585.0 L229.7,584.1 L228.0,583.2 L226.2,582.2 L224.5,581.2 L222.8,580.1 L221.1,579.1 L219.4,578.0 L217.7,576.9 L216.1,575.8 L214.4,574.7 L212.8,573.5 L211.2,572.3 L209.6,571.1 L208.1,569.9 L206.5,568.6 L205.1,567.2 L203.6,565.8 L202.3,564.4 L200.9,562.9 L199.7,561.4 L198.5,559.8 L197.3,558.2 L196.2,556.5 L195.1,554.8 L194.0,553.1 L193.0,551.4 L192.0,549.7 L191.1,547.9 L190.2,546.1 L189.4,544.3 L188.6,542.5 L187.9,540.6 L187.2,538.8 L186.6,536.9 L186.0,534.9 L185.5,533.0 L185.0,531.1 L184.6,529.1 L184.3,527.2 L183.9,525.2 L183.6,523.2 L183.4,521.2 L183.1,519.2 L182.9,517.3 L182.7,515.3 L182.5,513.3 L182.3,511.3 L182.1,509.3 L182.0,507.3 L181.9,505.3 L181.8,503.3 L181.7,501.3 L181.7,499.3 L181.7,497.3 L181.8,495.3 L181.9,493.3 L182.1,491.3 L182.3,489.4 L182.6,487.4 L183.0,485.4 L183.4,483.5 L183.8,481.5 L184.4,479.6 L184.9,477.7 L185.6,475.8 L186.2,473.9 L186.9,472.1 L187.7,470.2 L188.5,468.4 L189.3,466.6 L190.2,464.8 L191.2,463.0 L192.1,461.3 L193.2,459.6 L194.2,457.9 L195.3,456.2 L196.5,454.6 L197.7,453.0 L198.9,451.4 L200.1,449.8 L201.4,448.3 L202.7,446.7 L204.0,445.2 L205.3,443.7 L206.6,442.2 L207.9,440.7 L209.2,439.2 L210.6,437.7 L211.9,436.2 L213.3,434.7 L214.6,433.3 L216.0,431.8 L217.4,430.4 L218.7,428.9 L220.1,427.5 L221.6,426.1 L223.0,424.7 L224.5,423.4 L226.0,422.0 L227.5,420.8 L229.1,419.5 L230.6,418.3 L232.3,417.1 L233.9,416.0 L235.6,414.9 L237.3,413.9 L239.0,412.9 L240.8,411.9 L242.5,411.0 L244.3,410.0 L246.1,409.1 L247.8,408.1 L249.6,407.2 L251.4,406.3 L253.1,405.3 L254.9,404.4 L256.7,403.5 L258.5,402.6 L260.2,401.7 L262.0,400.8 L263.8,399.9 L265.6,399.0 L267.4,398.1 L269.2,397.2 L271.0,396.3 L272.8,395.4 L274.6,394.5 L276.4,393.7 L278.2,392.8 L280.0,392.0 L281.8,391.1 L283.6,390.3 L285.4,389.5 L287.3,388.6 L289.1,387.8 L290.9,387.0 L292.7,386.2 L294.6,385.4 L296.4,384.6 L298.2,383.8 L300.1,383.0 L301.9,382.2 L303.8,381.5 L305.6,380.7 L307.5,379.9 L309.3,379.1 L311.1,378.4 L313.0,377.6 L314.8,376.8 L316.7,376.1 L318.5,375.3 L320.4,374.5 L322.2,373.8 L324.1,373.0 L325.9,372.2 L327.8,371.5 L329.6,370.7 L331.5,370.0 L333.3,369.2 L335.2,368.5 L337.0,367.7 L338.9,367.0 L340.8,366.2 L342.6,365.5 L344.5,364.8 L346.3,364.0 L348.2,363.3 L350.0,362.5 L351.9,361.8 L353.7,361.0 L355.6,360.3 L357.5,359.5 L359.3,358.8 L361.2,358.0 L363.0,357.3 L364.9,356.5 L366.7,355.7 L368.6,355.0 L370.4,354.2 L372.3,353.5 L374.1,352.7 L376.0,352.0 L377.8,351.2 L379.7,350.4 L381.5,349.7 L383.4,348.9 L385.2,348.2 L387.1,347.4 L388.9,346.7 L390.8,345.9 L392.6,345.2 L394.5,344.4 L396.3,343.7 L398.2,342.9 L400.1,342.2 L401.9,341.4 L403.8,340.7 L405.6,340.0 L407.5,339.2 L409.4,338.5 L411.2,337.8 L413.1,337.1 L415.0,336.4 L416.8,335.7 L418.7,335.0 L420.6,334.3 L422.5,333.6 L424.4,332.9 L426.2,332.3 L428.1,331.6 L430.0,330.9 L431.9,330.3 L433.8,329.6 L435.7,329.0 L437.6,328.3 L439.5,327.7 L441.4,327.0 L443.2,326.4 L445.1,325.7 L447.0,325.0 L448.9,324.4 L450.8,323.7 L452.7,323.0 L454.5,322.3 L456.4,321.6 L458.3,320.9 L460.2,320.2 L462.0,319.5 L463.9,318.8 L465.8,318.1 L467.6,317.3 L469.5,316.6 L471.3,315.9 L473.2,315.1 L475.1,314.4 L476.9,313.6 L478.8,312.9 L480.6,312.1 L482.5,311.4 L484.3,310.6 L486.2,309.8 L488.0,309.0 L489.8,308.3 L491.7,307.5 L493.5,306.7 L495.4,305.9 L497.2,305.1 L499.0,304.3 L500.9,303.5 L502.7,302.7 L504.5,301.9 L506.3,301.1 L508.2,300.3 L510.0,299.4 L511.8,298.6 L513.7,297.8 L515.5,297.0 L517.3,296.2 L519.2,295.4 L521.0,294.6 L522.8,293.8 L524.6,293.0 L526.5,292.2 L528.3,291.3 L530.1,290.5 L531.9,289.7 L533.7,288.8 L535.5,288.0 L537.3,287.1 L539.1,286.2 L540.9,285.4 L542.7,284.5 L544.5,283.6 L546.3,282.7 L548.1,281.7 L549.8,280.8 L551.6,279.8 L553.3,278.9 L555.1,277.9 L556.8,276.9 L558.6,275.9 L560.3,274.9 L562.0,273.9 L563.7,272.8 L565.4,271.8 L567.1,270.7 L568.8,269.7 L570.5,268.6 L572.2,267.5 L573.9,266.4 L575.5,265.3 L577.2,264.2 L578.9,263.1 L580.5,262.0 L582.2,260.9 L583.9,259.8 L585.5,258.7 L587.2,257.6 L588.8,256.4 L590.5,255.3 L592.1,254.2 L593.8,253.1 L595.4,251.9 L597.1,250.8 L598.7,249.7 L600.4,248.5 L602.0,247.4 L603.7,246.3 L605.3,245.1 L607.0,244.0 L608.6,242.9 L610.3,241.7 L611.9,240.6 L613.6,239.4 L615.2,238.3 L616.8,237.2 L618.5,236.1 L620.1,234.9 L621.8,233.8 Z" fill="#d9876b"/>
<path d="M240.3,588.5 C240.3,588.5 229.9,584.3 224.5,581.2 C219.1,578.1 212.2,573.4 208.0,570.0 C203.8,566.6 202.2,565.1 199.1,560.9 C196.0,556.7 192.0,550.6 189.5,545.0 C187.0,539.4 185.5,535.3 184.2,527.5 C182.9,519.7 181.5,506.4 181.6,498.3 C181.7,490.2 182.5,485.2 184.5,478.6 C186.5,472.0 189.3,465.5 193.4,458.9 C197.5,452.3 203.3,445.8 209.2,439.2 C215.1,432.6 222.1,424.8 228.9,419.4 C235.7,414.0 241.2,411.7 250.0,407.0 C258.9,402.3 270.7,396.2 282.0,391.0 C293.3,385.8 305.6,380.7 318.0,375.5 C330.4,370.3 340.5,366.4 356.3,360.0 C372.1,353.6 395.4,343.8 412.7,337.2 C430.0,330.6 444.5,326.3 460.0,320.3 C475.5,314.3 489.2,308.8 505.6,301.4 C522.0,294.0 539.1,287.3 558.5,276.0 C577.9,264.7 621.8,233.8 621.8,233.8 C621.8,233.8 626.2,222.6 628.2,217.0 C630.2,211.4 634.0,200.0 634.0,200.0 C634.0,200.0 648.0,250.0 648.0,250.0 C648.0,250.0 640.0,284.0 640.0,284.0 C640.0,284.0 600.0,290.0 600.0,290.0 C600.0,290.0 579.0,286.0 579.0,286.0 C579.0,286.0 579.0,320.0 579.0,320.0 C579.0,320.0 540.0,330.0 540.0,330.0 C540.0,330.0 497.6,328.0 497.6,328.0 C497.6,328.0 497.6,368.0 497.6,368.0 C497.6,368.0 440.0,372.0 440.0,372.0 C440.0,372.0 422.0,410.0 422.0,410.0 C422.0,410.0 405.0,418.0 405.0,418.0 C405.0,418.0 330.0,420.0 330.0,420.0 C330.0,420.0 306.0,452.0 306.0,452.0 C306.0,452.0 296.0,464.0 296.0,464.0 C296.0,464.0 260.0,470.0 260.0,470.0 C260.0,470.0 218.0,500.0 218.0,500.0 C218.0,500.0 217.3,513.4 217.5,520.0 C217.7,526.6 217.6,531.9 219.2,539.6 C220.8,547.3 223.5,557.9 227.0,566.0 C230.5,574.1 240.3,588.5 240.3,588.5 Z" fill="#5c87bb"/>
<path d="M296,466 L296,444 Q296.3,440 299.5,440.3 Q303,441.5 305.5,446 L310,466 Z" fill="#d9876b" stroke="#1a1a1f" stroke-width="2.6" stroke-linejoin="round"/>
<path d="M407,422 L407,399 Q407.3,395 411,395.3 Q415.5,396.5 419.5,401 L426,422 Z" fill="#d9876b" stroke="#1a1a1f" stroke-width="2.6" stroke-linejoin="round"/>
<path d="M633.7,285 L633.7,236 Q634,231.5 636.5,232 Q640,234 643.5,240 L660,285 Z" fill="#d9876b" stroke="#1a1a1f" stroke-width="2.6" stroke-linejoin="round"/>
<path d="M329.5,553.0 Q329.9,578.5 326.0,604.0" fill="none" stroke="#1a1a1f" stroke-width="2.7" stroke-linecap="round"/>
<path d="M420.5,552.0 Q423.2,575.5 421.5,599.0" fill="none" stroke="#1a1a1f" stroke-width="2.7" stroke-linecap="round"/>
<path d="M512.0,538.0 Q513.7,558.0 511.0,578.0" fill="none" stroke="#1a1a1f" stroke-width="2.7" stroke-linecap="round"/>
<path d="M652.5,462.0 Q654.0,489.0 651.0,516.0" fill="none" stroke="#1a1a1f" stroke-width="2.7" stroke-linecap="round"/>
<path d="M733.0,428.0 Q734.0,445.5 730.6,463.0" fill="none" stroke="#1a1a1f" stroke-width="2.7" stroke-linecap="round"/>
<path d="M780.6,372.0 Q782.0,399.5 779.0,427.0" fill="none" stroke="#1a1a1f" stroke-width="2.7" stroke-linecap="round"/>
<path d="M810.0,352.0 Q811.6,377.5 808.7,403.0" fill="none" stroke="#1a1a1f" stroke-width="2.7" stroke-linecap="round"/>
<line x1="634.0" y1="202.0" x2="633.7" y2="280.0" stroke="#1a1a1f" stroke-width="2.6" stroke-linecap="round"/>
<line x1="579.0" y1="286.0" x2="579.0" y2="318.0" stroke="#1a1a1f" stroke-width="2.6" stroke-linecap="round"/>
<line x1="497.6" y1="327.0" x2="497.6" y2="367.0" stroke="#1a1a1f" stroke-width="2.6" stroke-linecap="round"/>
<path d="M217.5,505.0 C217.5,507.5 217.2,514.2 217.5,520.0 C217.8,525.8 217.6,531.9 219.2,539.6 C220.8,547.3 223.5,557.9 227.0,566.0 C230.5,574.1 238.1,584.8 240.3,588.5" fill="none" stroke="#1a1a1f" stroke-width="2.8" stroke-linecap="round"/>
<path d="M224.5,510.0 C222.5,502.4 222.2,497.7 223.0,490.0 C223.8,482.3 225.8,471.0 229.0,464.0 C232.2,457.0 236.3,451.7 242.0,448.0 C247.7,444.3 257.2,442.5 263.0,442.0 C268.8,441.5 273.2,443.3 277.0,445.0 C280.8,446.7 283.2,449.5 286.0,452.0 C288.8,454.5 291.3,458.0 294.0,460.0 C296.7,462.0 299.5,464.7 302.0,464.0 C304.5,463.3 308.3,460.3 309.0,456.0 C309.7,451.7 306.8,443.2 306.0,438.0 C305.2,432.8 303.3,429.3 304.0,425.0 C304.7,420.7 307.7,415.2 310.0,412.0 C312.3,408.8 313.8,407.9 318.0,405.7 C322.2,403.5 326.3,400.6 335.0,398.7 C343.7,396.8 361.2,394.3 370.0,394.3 C378.8,394.3 382.7,396.2 388.0,398.7 C393.3,401.1 397.8,405.8 402.0,409.0 C406.2,412.2 409.8,416.1 413.0,418.0 C416.2,419.9 418.4,421.4 421.0,420.5 C423.6,419.6 428.2,416.3 428.5,412.7 C428.8,409.1 425.4,403.7 423.0,398.7 C420.6,393.7 416.1,387.5 414.4,382.8 C412.7,378.1 411.8,374.6 412.7,370.5 C413.6,366.4 415.6,361.1 419.7,358.0 C423.8,354.9 430.8,353.0 437.3,352.0 C443.8,351.0 452.1,351.2 458.5,352.0 C464.9,352.8 470.6,355.0 476.0,357.0 C481.4,359.0 486.5,360.8 491.0,364.0 C495.5,367.2 498.4,371.2 503.0,376.0 C507.6,380.8 513.2,387.5 518.3,392.9 C523.4,398.3 528.8,403.8 533.7,408.2 C538.6,412.6 543.4,417.2 547.5,419.0 C551.6,420.8 555.7,420.6 558.3,419.0 C560.9,417.4 562.6,413.3 562.9,409.7 C563.1,406.1 561.8,401.6 559.8,397.5 C557.8,393.4 555.7,390.8 550.6,385.2 C545.5,379.6 535.6,370.3 529.0,363.7 C522.4,357.1 515.3,350.9 510.7,345.3 C506.1,339.7 502.4,334.4 501.4,330.0 C500.4,325.6 501.9,322.0 504.5,319.2 C507.1,316.4 511.4,314.3 516.8,313.0 C522.2,311.7 529.9,311.5 536.8,311.5 C543.7,311.5 552.3,311.6 558.3,313.0 C564.3,314.4 568.3,317.0 573.0,319.7 C577.7,322.4 581.9,325.7 586.3,329.0 C590.7,332.3 596.2,336.9 599.5,339.5 C602.8,342.1 604.2,344.7 606.0,344.7 C607.8,344.7 609.5,342.4 610.0,339.5 C610.5,336.6 610.5,332.0 608.7,327.6 C607.0,323.2 603.2,317.6 599.5,313.0 C595.8,308.4 589.1,304.4 586.3,300.0 C583.4,295.6 581.9,290.8 582.4,286.8 C582.9,282.9 585.1,278.7 589.0,276.3 C592.9,273.9 601.0,272.6 606.0,272.4 C611.0,272.2 615.2,273.7 619.2,275.0 C623.2,276.3 626.4,279.0 629.7,280.3 C633.0,281.6 635.7,283.2 639.0,283.0 C642.3,282.8 646.9,281.4 649.5,279.0 C652.1,276.6 654.2,272.1 654.7,268.4 C655.2,264.7 653.7,261.9 652.2,257.0 C650.7,252.1 647.8,245.2 645.5,239.0 C643.2,232.8 639.6,226.4 638.6,219.5 C637.6,212.6 638.6,204.7 639.4,197.8 C640.2,191.0 640.9,184.2 643.2,178.4 C645.5,172.6 649.1,166.9 653.0,163.0 C656.9,159.1 661.3,157.0 666.5,155.2 C671.7,153.4 678.8,152.0 684.0,152.3 C689.2,152.6 694.0,154.3 697.5,157.0 C701.0,159.7 703.0,163.5 705.2,168.7 C707.5,173.9 708.7,182.2 711.0,188.0 C713.3,193.8 715.2,198.8 718.8,203.6 C722.3,208.4 726.8,213.4 732.3,217.0 C737.8,220.6 745.2,223.8 751.7,225.0 C758.2,226.2 765.2,223.4 771.0,224.0 C776.8,224.6 782.8,225.8 786.5,228.8 C790.2,231.8 792.3,237.6 793.5,242.0 C794.7,246.4 794.2,250.0 793.5,255.0 C792.8,260.0 790.9,265.8 789.0,272.0 C787.1,278.2 783.2,285.6 782.0,292.5 C780.8,299.4 780.0,307.1 782.0,313.3 C784.0,319.6 790.4,324.4 794.2,330.0 C798.0,335.6 803.2,341.8 804.6,346.7 C806.0,351.6 805.6,356.1 802.5,359.2 C799.4,362.3 790.2,362.7 786.0,365.5 C781.8,368.3 780.0,372.0 777.5,375.8 C775.0,379.6 773.9,385.2 771.0,388.3 C768.1,391.4 765.2,394.0 760.0,394.6 C754.8,395.2 744.8,393.9 740.0,392.0 C735.2,390.1 734.0,385.6 731.0,383.0 C728.0,380.4 724.8,377.0 721.8,376.3 C718.8,375.6 714.6,377.1 713.0,379.0 C711.4,380.9 711.0,384.2 712.0,388.0 C713.0,391.8 716.7,397.5 719.0,402.0 C721.3,406.5 725.2,410.7 726.0,415.0 C726.8,419.3 727.2,424.2 724.0,428.0 C720.8,431.8 713.3,436.0 707.0,437.6 C700.7,439.2 693.0,439.0 686.0,437.6 C679.0,436.2 670.8,433.4 664.8,429.2 C658.8,425.0 654.2,417.6 650.0,412.3 C645.8,407.0 643.3,401.0 639.4,397.5 C635.5,394.0 630.3,391.5 626.8,391.1 C623.3,390.8 619.4,393.3 618.3,395.4 C617.2,397.5 618.3,399.9 620.4,403.8 C622.5,407.7 627.1,413.7 631.0,418.6 C634.9,423.5 640.9,428.1 643.7,433.4 C646.5,438.7 648.0,444.7 648.0,450.3 C648.0,455.9 647.2,461.6 643.7,467.2 C640.2,472.8 633.1,478.7 626.8,484.0 C620.4,489.3 612.6,494.7 605.6,498.9 C598.6,503.1 591.5,506.9 584.5,509.4 C577.5,511.9 570.4,513.7 563.4,513.7 C556.4,513.7 549.4,512.2 542.3,509.4 C535.2,506.6 526.2,501.4 521.0,496.8 C515.8,492.2 514.3,487.0 511.0,482.0 C507.7,477.0 504.9,470.2 501.4,467.0 C497.9,463.8 492.7,463.1 489.8,462.9 C486.9,462.6 484.0,463.6 484.0,465.5 C484.0,467.4 487.1,469.6 489.8,474.0 C492.5,478.4 497.1,485.8 500.0,492.0 C502.9,498.2 505.7,504.9 507.2,511.3 C508.7,517.8 510.1,525.9 509.1,530.7 C508.1,535.6 506.5,538.5 501.4,540.4 C496.2,542.3 485.9,542.6 478.2,542.3 C470.4,542.0 462.0,541.3 454.9,538.4 C447.8,535.5 441.4,530.7 435.6,524.9 C429.8,519.1 424.5,510.4 420.0,503.6 C415.5,496.8 411.9,489.4 408.4,484.2 C404.9,479.0 402.4,475.2 398.8,472.6 C395.2,470.0 390.7,468.7 387.1,468.7 C383.6,468.7 379.4,470.3 377.5,472.6 C375.6,474.9 374.2,478.4 375.5,482.3 C376.8,486.2 381.0,490.3 385.2,495.8 C389.4,501.3 396.2,508.4 400.7,515.2 C405.2,522.0 409.7,530.0 412.3,536.5 C414.9,543.0 416.9,549.5 416.2,554.0 C415.5,558.5 413.2,561.4 408.4,563.6 C403.5,565.9 394.5,567.5 387.1,567.5 C379.7,567.5 370.3,566.5 363.9,563.6 C357.4,560.7 352.9,555.5 348.4,550.0 C343.9,544.5 340.0,535.9 336.8,530.7 C333.6,525.5 331.6,521.3 329.0,519.0 C326.4,516.7 323.6,516.4 321.3,517.1 C319.1,517.8 315.8,520.4 315.5,523.0 C315.2,525.6 317.9,528.7 319.4,532.6 C320.8,536.5 323.9,542.0 324.2,546.2 C324.5,550.4 323.4,554.9 321.3,557.8 C319.2,560.7 315.5,562.7 311.6,563.6 C307.7,564.5 304.7,563.4 298.0,563.0 C291.3,562.6 279.6,563.2 271.6,561.0 C263.6,558.8 256.1,553.8 250.0,549.5 C243.9,545.2 239.2,542.1 235.0,535.5 C230.8,528.9 226.5,517.6 224.5,510.0 Z" fill="#dbe8f1"/>
<path d="M224.5,510.0 C222.5,502.4 222.2,497.7 223.0,490.0 C223.8,482.3 225.8,471.0 229.0,464.0 C232.2,457.0 236.3,451.7 242.0,448.0 C247.7,444.3 257.2,442.5 263.0,442.0 C268.8,441.5 273.2,443.3 277.0,445.0 C280.8,446.7 283.2,449.5 286.0,452.0 C288.8,454.5 291.3,458.0 294.0,460.0 C296.7,462.0 299.5,464.7 302.0,464.0 C304.5,463.3 308.3,460.3 309.0,456.0 C309.7,451.7 306.8,443.2 306.0,438.0 C305.2,432.8 303.3,429.3 304.0,425.0 C304.7,420.7 307.7,415.2 310.0,412.0 C312.3,408.8 313.8,407.9 318.0,405.7 C322.2,403.5 326.3,400.6 335.0,398.7 C343.7,396.8 361.2,394.3 370.0,394.3 C378.8,394.3 382.7,396.2 388.0,398.7 C393.3,401.1 397.8,405.8 402.0,409.0 C406.2,412.2 409.8,416.1 413.0,418.0 C416.2,419.9 418.4,421.4 421.0,420.5 C423.6,419.6 428.2,416.3 428.5,412.7 C428.8,409.1 425.4,403.7 423.0,398.7 C420.6,393.7 416.1,387.5 414.4,382.8 C412.7,378.1 411.8,374.6 412.7,370.5 C413.6,366.4 415.6,361.1 419.7,358.0 C423.8,354.9 430.8,353.0 437.3,352.0 C443.8,351.0 452.1,351.2 458.5,352.0 C464.9,352.8 470.6,355.0 476.0,357.0 C481.4,359.0 486.5,360.8 491.0,364.0 C495.5,367.2 498.4,371.2 503.0,376.0 C507.6,380.8 513.2,387.5 518.3,392.9 C523.4,398.3 528.8,403.8 533.7,408.2 C538.6,412.6 543.4,417.2 547.5,419.0 C551.6,420.8 555.7,420.6 558.3,419.0 C560.9,417.4 562.6,413.3 562.9,409.7 C563.1,406.1 561.8,401.6 559.8,397.5 C557.8,393.4 555.7,390.8 550.6,385.2 C545.5,379.6 535.6,370.3 529.0,363.7 C522.4,357.1 515.3,350.9 510.7,345.3 C506.1,339.7 502.4,334.4 501.4,330.0 C500.4,325.6 501.9,322.0 504.5,319.2 C507.1,316.4 511.4,314.3 516.8,313.0 C522.2,311.7 529.9,311.5 536.8,311.5 C543.7,311.5 552.3,311.6 558.3,313.0 C564.3,314.4 568.3,317.0 573.0,319.7 C577.7,322.4 581.9,325.7 586.3,329.0 C590.7,332.3 596.2,336.9 599.5,339.5 C602.8,342.1 604.2,344.7 606.0,344.7 C607.8,344.7 609.5,342.4 610.0,339.5 C610.5,336.6 610.5,332.0 608.7,327.6 C607.0,323.2 603.2,317.6 599.5,313.0 C595.8,308.4 589.1,304.4 586.3,300.0 C583.4,295.6 581.9,290.8 582.4,286.8 C582.9,282.9 585.1,278.7 589.0,276.3 C592.9,273.9 601.0,272.6 606.0,272.4 C611.0,272.2 615.2,273.7 619.2,275.0 C623.2,276.3 626.4,279.0 629.7,280.3 C633.0,281.6 635.7,283.2 639.0,283.0 C642.3,282.8 646.9,281.4 649.5,279.0 C652.1,276.6 654.2,272.1 654.7,268.4 C655.2,264.7 653.7,261.9 652.2,257.0 C650.7,252.1 647.8,245.2 645.5,239.0 C643.2,232.8 639.6,226.4 638.6,219.5 C637.6,212.6 638.6,204.7 639.4,197.8 C640.2,191.0 640.9,184.2 643.2,178.4 C645.5,172.6 649.1,166.9 653.0,163.0 C656.9,159.1 661.3,157.0 666.5,155.2 C671.7,153.4 678.8,152.0 684.0,152.3 C689.2,152.6 694.0,154.3 697.5,157.0 C701.0,159.7 703.0,163.5 705.2,168.7 C707.5,173.9 708.7,182.2 711.0,188.0 C713.3,193.8 715.2,198.8 718.8,203.6 C722.3,208.4 726.8,213.4 732.3,217.0 C737.8,220.6 745.2,223.8 751.7,225.0 C758.2,226.2 765.2,223.4 771.0,224.0 C776.8,224.6 782.8,225.8 786.5,228.8 C790.2,231.8 792.3,237.6 793.5,242.0 C794.7,246.4 794.2,250.0 793.5,255.0 C792.8,260.0 790.9,265.8 789.0,272.0 C787.1,278.2 783.2,285.6 782.0,292.5 C780.8,299.4 780.0,307.1 782.0,313.3 C784.0,319.6 790.4,324.4 794.2,330.0 C798.0,335.6 803.2,341.8 804.6,346.7 C806.0,351.6 805.6,356.1 802.5,359.2 C799.4,362.3 790.2,362.7 786.0,365.5 C781.8,368.3 780.0,372.0 777.5,375.8 C775.0,379.6 773.9,385.2 771.0,388.3 C768.1,391.4 765.2,394.0 760.0,394.6 C754.8,395.2 744.8,393.9 740.0,392.0 C735.2,390.1 734.0,385.6 731.0,383.0 C728.0,380.4 724.8,377.0 721.8,376.3 C718.8,375.6 714.6,377.1 713.0,379.0 C711.4,380.9 711.0,384.2 712.0,388.0 C713.0,391.8 716.7,397.5 719.0,402.0 C721.3,406.5 725.2,410.7 726.0,415.0 C726.8,419.3 727.2,424.2 724.0,428.0 C720.8,431.8 713.3,436.0 707.0,437.6 C700.7,439.2 693.0,439.0 686.0,437.6 C679.0,436.2 670.8,433.4 664.8,429.2 C658.8,425.0 654.2,417.6 650.0,412.3 C645.8,407.0 643.3,401.0 639.4,397.5 C635.5,394.0 630.3,391.5 626.8,391.1 C623.3,390.8 619.4,393.3 618.3,395.4 C617.2,397.5 618.3,399.9 620.4,403.8 C622.5,407.7 627.1,413.7 631.0,418.6 C634.9,423.5 640.9,428.1 643.7,433.4 C646.5,438.7 648.0,444.7 648.0,450.3 C648.0,455.9 647.2,461.6 643.7,467.2 C640.2,472.8 633.1,478.7 626.8,484.0 C620.4,489.3 612.6,494.7 605.6,498.9 C598.6,503.1 591.5,506.9 584.5,509.4 C577.5,511.9 570.4,513.7 563.4,513.7 C556.4,513.7 549.4,512.2 542.3,509.4 C535.2,506.6 526.2,501.4 521.0,496.8 C515.8,492.2 514.3,487.0 511.0,482.0 C507.7,477.0 504.9,470.2 501.4,467.0 C497.9,463.8 492.7,463.1 489.8,462.9 C486.9,462.6 484.0,463.6 484.0,465.5 C484.0,467.4 487.1,469.6 489.8,474.0 C492.5,478.4 497.1,485.8 500.0,492.0 C502.9,498.2 505.7,504.9 507.2,511.3 C508.7,517.8 510.1,525.9 509.1,530.7 C508.1,535.6 506.5,538.5 501.4,540.4 C496.2,542.3 485.9,542.6 478.2,542.3 C470.4,542.0 462.0,541.3 454.9,538.4 C447.8,535.5 441.4,530.7 435.6,524.9 C429.8,519.1 424.5,510.4 420.0,503.6 C415.5,496.8 411.9,489.4 408.4,484.2 C404.9,479.0 402.4,475.2 398.8,472.6 C395.2,470.0 390.7,468.7 387.1,468.7 C383.6,468.7 379.4,470.3 377.5,472.6 C375.6,474.9 374.2,478.4 375.5,482.3 C376.8,486.2 381.0,490.3 385.2,495.8 C389.4,501.3 396.2,508.4 400.7,515.2 C405.2,522.0 409.7,530.0 412.3,536.5 C414.9,543.0 416.9,549.5 416.2,554.0 C415.5,558.5 413.2,561.4 408.4,563.6 C403.5,565.9 394.5,567.5 387.1,567.5 C379.7,567.5 370.3,566.5 363.9,563.6 C357.4,560.7 352.9,555.5 348.4,550.0 C343.9,544.5 340.0,535.9 336.8,530.7 C333.6,525.5 331.6,521.3 329.0,519.0 C326.4,516.7 323.6,516.4 321.3,517.1 C319.1,517.8 315.8,520.4 315.5,523.0 C315.2,525.6 317.9,528.7 319.4,532.6 C320.8,536.5 323.9,542.0 324.2,546.2 C324.5,550.4 323.4,554.9 321.3,557.8 C319.2,560.7 315.5,562.7 311.6,563.6 C307.7,564.5 304.7,563.4 298.0,563.0 C291.3,562.6 279.6,563.2 271.6,561.0 C263.6,558.8 256.1,553.8 250.0,549.5 C243.9,545.2 239.2,542.1 235.0,535.5 C230.8,528.9 226.5,517.6 224.5,510.0 Z" fill="none" stroke="#b6d1e4" stroke-width="44" clip-path="url(#cm)" stroke-linejoin="round"/>
<path d="M224.5,510.0 C222.5,502.4 222.2,497.7 223.0,490.0 C223.8,482.3 225.8,471.0 229.0,464.0 C232.2,457.0 236.3,451.7 242.0,448.0 C247.7,444.3 257.2,442.5 263.0,442.0 C268.8,441.5 273.2,443.3 277.0,445.0 C280.8,446.7 283.2,449.5 286.0,452.0 C288.8,454.5 291.3,458.0 294.0,460.0 C296.7,462.0 299.5,464.7 302.0,464.0 C304.5,463.3 308.3,460.3 309.0,456.0 C309.7,451.7 306.8,443.2 306.0,438.0 C305.2,432.8 303.3,429.3 304.0,425.0 C304.7,420.7 307.7,415.2 310.0,412.0 C312.3,408.8 313.8,407.9 318.0,405.7 C322.2,403.5 326.3,400.6 335.0,398.7 C343.7,396.8 361.2,394.3 370.0,394.3 C378.8,394.3 382.7,396.2 388.0,398.7 C393.3,401.1 397.8,405.8 402.0,409.0 C406.2,412.2 409.8,416.1 413.0,418.0 C416.2,419.9 418.4,421.4 421.0,420.5 C423.6,419.6 428.2,416.3 428.5,412.7 C428.8,409.1 425.4,403.7 423.0,398.7 C420.6,393.7 416.1,387.5 414.4,382.8 C412.7,378.1 411.8,374.6 412.7,370.5 C413.6,366.4 415.6,361.1 419.7,358.0 C423.8,354.9 430.8,353.0 437.3,352.0 C443.8,351.0 452.1,351.2 458.5,352.0 C464.9,352.8 470.6,355.0 476.0,357.0 C481.4,359.0 486.5,360.8 491.0,364.0 C495.5,367.2 498.4,371.2 503.0,376.0 C507.6,380.8 513.2,387.5 518.3,392.9 C523.4,398.3 528.8,403.8 533.7,408.2 C538.6,412.6 543.4,417.2 547.5,419.0 C551.6,420.8 555.7,420.6 558.3,419.0 C560.9,417.4 562.6,413.3 562.9,409.7 C563.1,406.1 561.8,401.6 559.8,397.5 C557.8,393.4 555.7,390.8 550.6,385.2 C545.5,379.6 535.6,370.3 529.0,363.7 C522.4,357.1 515.3,350.9 510.7,345.3 C506.1,339.7 502.4,334.4 501.4,330.0 C500.4,325.6 501.9,322.0 504.5,319.2 C507.1,316.4 511.4,314.3 516.8,313.0 C522.2,311.7 529.9,311.5 536.8,311.5 C543.7,311.5 552.3,311.6 558.3,313.0 C564.3,314.4 568.3,317.0 573.0,319.7 C577.7,322.4 581.9,325.7 586.3,329.0 C590.7,332.3 596.2,336.9 599.5,339.5 C602.8,342.1 604.2,344.7 606.0,344.7 C607.8,344.7 609.5,342.4 610.0,339.5 C610.5,336.6 610.5,332.0 608.7,327.6 C607.0,323.2 603.2,317.6 599.5,313.0 C595.8,308.4 589.1,304.4 586.3,300.0 C583.4,295.6 581.9,290.8 582.4,286.8 C582.9,282.9 585.1,278.7 589.0,276.3 C592.9,273.9 601.0,272.6 606.0,272.4 C611.0,272.2 615.2,273.7 619.2,275.0 C623.2,276.3 626.4,279.0 629.7,280.3 C633.0,281.6 635.7,283.2 639.0,283.0 C642.3,282.8 646.9,281.4 649.5,279.0 C652.1,276.6 654.2,272.1 654.7,268.4 C655.2,264.7 653.7,261.9 652.2,257.0 C650.7,252.1 647.8,245.2 645.5,239.0 C643.2,232.8 639.6,226.4 638.6,219.5 C637.6,212.6 638.6,204.7 639.4,197.8 C640.2,191.0 640.9,184.2 643.2,178.4 C645.5,172.6 649.1,166.9 653.0,163.0 C656.9,159.1 661.3,157.0 666.5,155.2 C671.7,153.4 678.8,152.0 684.0,152.3 C689.2,152.6 694.0,154.3 697.5,157.0 C701.0,159.7 703.0,163.5 705.2,168.7 C707.5,173.9 708.7,182.2 711.0,188.0 C713.3,193.8 715.2,198.8 718.8,203.6 C722.3,208.4 726.8,213.4 732.3,217.0 C737.8,220.6 745.2,223.8 751.7,225.0 C758.2,226.2 765.2,223.4 771.0,224.0 C776.8,224.6 782.8,225.8 786.5,228.8 C790.2,231.8 792.3,237.6 793.5,242.0 C794.7,246.4 794.2,250.0 793.5,255.0 C792.8,260.0 790.9,265.8 789.0,272.0 C787.1,278.2 783.2,285.6 782.0,292.5 C780.8,299.4 780.0,307.1 782.0,313.3 C784.0,319.6 790.4,324.4 794.2,330.0 C798.0,335.6 803.2,341.8 804.6,346.7 C806.0,351.6 805.6,356.1 802.5,359.2 C799.4,362.3 790.2,362.7 786.0,365.5 C781.8,368.3 780.0,372.0 777.5,375.8 C775.0,379.6 773.9,385.2 771.0,388.3 C768.1,391.4 765.2,394.0 760.0,394.6 C754.8,395.2 744.8,393.9 740.0,392.0 C735.2,390.1 734.0,385.6 731.0,383.0 C728.0,380.4 724.8,377.0 721.8,376.3 C718.8,375.6 714.6,377.1 713.0,379.0 C711.4,380.9 711.0,384.2 712.0,388.0 C713.0,391.8 716.7,397.5 719.0,402.0 C721.3,406.5 725.2,410.7 726.0,415.0 C726.8,419.3 727.2,424.2 724.0,428.0 C720.8,431.8 713.3,436.0 707.0,437.6 C700.7,439.2 693.0,439.0 686.0,437.6 C679.0,436.2 670.8,433.4 664.8,429.2 C658.8,425.0 654.2,417.6 650.0,412.3 C645.8,407.0 643.3,401.0 639.4,397.5 C635.5,394.0 630.3,391.5 626.8,391.1 C623.3,390.8 619.4,393.3 618.3,395.4 C617.2,397.5 618.3,399.9 620.4,403.8 C622.5,407.7 627.1,413.7 631.0,418.6 C634.9,423.5 640.9,428.1 643.7,433.4 C646.5,438.7 648.0,444.7 648.0,450.3 C648.0,455.9 647.2,461.6 643.7,467.2 C640.2,472.8 633.1,478.7 626.8,484.0 C620.4,489.3 612.6,494.7 605.6,498.9 C598.6,503.1 591.5,506.9 584.5,509.4 C577.5,511.9 570.4,513.7 563.4,513.7 C556.4,513.7 549.4,512.2 542.3,509.4 C535.2,506.6 526.2,501.4 521.0,496.8 C515.8,492.2 514.3,487.0 511.0,482.0 C507.7,477.0 504.9,470.2 501.4,467.0 C497.9,463.8 492.7,463.1 489.8,462.9 C486.9,462.6 484.0,463.6 484.0,465.5 C484.0,467.4 487.1,469.6 489.8,474.0 C492.5,478.4 497.1,485.8 500.0,492.0 C502.9,498.2 505.7,504.9 507.2,511.3 C508.7,517.8 510.1,525.9 509.1,530.7 C508.1,535.6 506.5,538.5 501.4,540.4 C496.2,542.3 485.9,542.6 478.2,542.3 C470.4,542.0 462.0,541.3 454.9,538.4 C447.8,535.5 441.4,530.7 435.6,524.9 C429.8,519.1 424.5,510.4 420.0,503.6 C415.5,496.8 411.9,489.4 408.4,484.2 C404.9,479.0 402.4,475.2 398.8,472.6 C395.2,470.0 390.7,468.7 387.1,468.7 C383.6,468.7 379.4,470.3 377.5,472.6 C375.6,474.9 374.2,478.4 375.5,482.3 C376.8,486.2 381.0,490.3 385.2,495.8 C389.4,501.3 396.2,508.4 400.7,515.2 C405.2,522.0 409.7,530.0 412.3,536.5 C414.9,543.0 416.9,549.5 416.2,554.0 C415.5,558.5 413.2,561.4 408.4,563.6 C403.5,565.9 394.5,567.5 387.1,567.5 C379.7,567.5 370.3,566.5 363.9,563.6 C357.4,560.7 352.9,555.5 348.4,550.0 C343.9,544.5 340.0,535.9 336.8,530.7 C333.6,525.5 331.6,521.3 329.0,519.0 C326.4,516.7 323.6,516.4 321.3,517.1 C319.1,517.8 315.8,520.4 315.5,523.0 C315.2,525.6 317.9,528.7 319.4,532.6 C320.8,536.5 323.9,542.0 324.2,546.2 C324.5,550.4 323.4,554.9 321.3,557.8 C319.2,560.7 315.5,562.7 311.6,563.6 C307.7,564.5 304.7,563.4 298.0,563.0 C291.3,562.6 279.6,563.2 271.6,561.0 C263.6,558.8 256.1,553.8 250.0,549.5 C243.9,545.2 239.2,542.1 235.0,535.5 C230.8,528.9 226.5,517.6 224.5,510.0 Z" fill="none" stroke="#1a1a1f" stroke-width="9.4" stroke-linejoin="round"/>
<path d="M224.5,510.0 C222.5,502.4 222.2,497.7 223.0,490.0 C223.8,482.3 225.8,471.0 229.0,464.0 C232.2,457.0 236.3,451.7 242.0,448.0 C247.7,444.3 257.2,442.5 263.0,442.0 C268.8,441.5 273.2,443.3 277.0,445.0 C280.8,446.7 283.2,449.5 286.0,452.0 C288.8,454.5 291.3,458.0 294.0,460.0 C296.7,462.0 299.5,464.7 302.0,464.0 C304.5,463.3 308.3,460.3 309.0,456.0 C309.7,451.7 306.8,443.2 306.0,438.0 C305.2,432.8 303.3,429.3 304.0,425.0 C304.7,420.7 307.7,415.2 310.0,412.0 C312.3,408.8 313.8,407.9 318.0,405.7 C322.2,403.5 326.3,400.6 335.0,398.7 C343.7,396.8 361.2,394.3 370.0,394.3 C378.8,394.3 382.7,396.2 388.0,398.7 C393.3,401.1 397.8,405.8 402.0,409.0 C406.2,412.2 409.8,416.1 413.0,418.0 C416.2,419.9 418.4,421.4 421.0,420.5 C423.6,419.6 428.2,416.3 428.5,412.7 C428.8,409.1 425.4,403.7 423.0,398.7 C420.6,393.7 416.1,387.5 414.4,382.8 C412.7,378.1 411.8,374.6 412.7,370.5 C413.6,366.4 415.6,361.1 419.7,358.0 C423.8,354.9 430.8,353.0 437.3,352.0 C443.8,351.0 452.1,351.2 458.5,352.0 C464.9,352.8 470.6,355.0 476.0,357.0 C481.4,359.0 486.5,360.8 491.0,364.0 C495.5,367.2 498.4,371.2 503.0,376.0 C507.6,380.8 513.2,387.5 518.3,392.9 C523.4,398.3 528.8,403.8 533.7,408.2 C538.6,412.6 543.4,417.2 547.5,419.0 C551.6,420.8 555.7,420.6 558.3,419.0 C560.9,417.4 562.6,413.3 562.9,409.7 C563.1,406.1 561.8,401.6 559.8,397.5 C557.8,393.4 555.7,390.8 550.6,385.2 C545.5,379.6 535.6,370.3 529.0,363.7 C522.4,357.1 515.3,350.9 510.7,345.3 C506.1,339.7 502.4,334.4 501.4,330.0 C500.4,325.6 501.9,322.0 504.5,319.2 C507.1,316.4 511.4,314.3 516.8,313.0 C522.2,311.7 529.9,311.5 536.8,311.5 C543.7,311.5 552.3,311.6 558.3,313.0 C564.3,314.4 568.3,317.0 573.0,319.7 C577.7,322.4 581.9,325.7 586.3,329.0 C590.7,332.3 596.2,336.9 599.5,339.5 C602.8,342.1 604.2,344.7 606.0,344.7 C607.8,344.7 609.5,342.4 610.0,339.5 C610.5,336.6 610.5,332.0 608.7,327.6 C607.0,323.2 603.2,317.6 599.5,313.0 C595.8,308.4 589.1,304.4 586.3,300.0 C583.4,295.6 581.9,290.8 582.4,286.8 C582.9,282.9 585.1,278.7 589.0,276.3 C592.9,273.9 601.0,272.6 606.0,272.4 C611.0,272.2 615.2,273.7 619.2,275.0 C623.2,276.3 626.4,279.0 629.7,280.3 C633.0,281.6 635.7,283.2 639.0,283.0 C642.3,282.8 646.9,281.4 649.5,279.0 C652.1,276.6 654.2,272.1 654.7,268.4 C655.2,264.7 653.7,261.9 652.2,257.0 C650.7,252.1 647.8,245.2 645.5,239.0 C643.2,232.8 639.6,226.4 638.6,219.5 C637.6,212.6 638.6,204.7 639.4,197.8 C640.2,191.0 640.9,184.2 643.2,178.4 C645.5,172.6 649.1,166.9 653.0,163.0 C656.9,159.1 661.3,157.0 666.5,155.2 C671.7,153.4 678.8,152.0 684.0,152.3 C689.2,152.6 694.0,154.3 697.5,157.0 C701.0,159.7 703.0,163.5 705.2,168.7 C707.5,173.9 708.7,182.2 711.0,188.0 C713.3,193.8 715.2,198.8 718.8,203.6 C722.3,208.4 726.8,213.4 732.3,217.0 C737.8,220.6 745.2,223.8 751.7,225.0 C758.2,226.2 765.2,223.4 771.0,224.0 C776.8,224.6 782.8,225.8 786.5,228.8 C790.2,231.8 792.3,237.6 793.5,242.0 C794.7,246.4 794.2,250.0 793.5,255.0 C792.8,260.0 790.9,265.8 789.0,272.0 C787.1,278.2 783.2,285.6 782.0,292.5 C780.8,299.4 780.0,307.1 782.0,313.3 C784.0,319.6 790.4,324.4 794.2,330.0 C798.0,335.6 803.2,341.8 804.6,346.7 C806.0,351.6 805.6,356.1 802.5,359.2 C799.4,362.3 790.2,362.7 786.0,365.5 C781.8,368.3 780.0,372.0 777.5,375.8 C775.0,379.6 773.9,385.2 771.0,388.3 C768.1,391.4 765.2,394.0 760.0,394.6 C754.8,395.2 744.8,393.9 740.0,392.0 C735.2,390.1 734.0,385.6 731.0,383.0 C728.0,380.4 724.8,377.0 721.8,376.3 C718.8,375.6 714.6,377.1 713.0,379.0 C711.4,380.9 711.0,384.2 712.0,388.0 C713.0,391.8 716.7,397.5 719.0,402.0 C721.3,406.5 725.2,410.7 726.0,415.0 C726.8,419.3 727.2,424.2 724.0,428.0 C720.8,431.8 713.3,436.0 707.0,437.6 C700.7,439.2 693.0,439.0 686.0,437.6 C679.0,436.2 670.8,433.4 664.8,429.2 C658.8,425.0 654.2,417.6 650.0,412.3 C645.8,407.0 643.3,401.0 639.4,397.5 C635.5,394.0 630.3,391.5 626.8,391.1 C623.3,390.8 619.4,393.3 618.3,395.4 C617.2,397.5 618.3,399.9 620.4,403.8 C622.5,407.7 627.1,413.7 631.0,418.6 C634.9,423.5 640.9,428.1 643.7,433.4 C646.5,438.7 648.0,444.7 648.0,450.3 C648.0,455.9 647.2,461.6 643.7,467.2 C640.2,472.8 633.1,478.7 626.8,484.0 C620.4,489.3 612.6,494.7 605.6,498.9 C598.6,503.1 591.5,506.9 584.5,509.4 C577.5,511.9 570.4,513.7 563.4,513.7 C556.4,513.7 549.4,512.2 542.3,509.4 C535.2,506.6 526.2,501.4 521.0,496.8 C515.8,492.2 514.3,487.0 511.0,482.0 C507.7,477.0 504.9,470.2 501.4,467.0 C497.9,463.8 492.7,463.1 489.8,462.9 C486.9,462.6 484.0,463.6 484.0,465.5 C484.0,467.4 487.1,469.6 489.8,474.0 C492.5,478.4 497.1,485.8 500.0,492.0 C502.9,498.2 505.7,504.9 507.2,511.3 C508.7,517.8 510.1,525.9 509.1,530.7 C508.1,535.6 506.5,538.5 501.4,540.4 C496.2,542.3 485.9,542.6 478.2,542.3 C470.4,542.0 462.0,541.3 454.9,538.4 C447.8,535.5 441.4,530.7 435.6,524.9 C429.8,519.1 424.5,510.4 420.0,503.6 C415.5,496.8 411.9,489.4 408.4,484.2 C404.9,479.0 402.4,475.2 398.8,472.6 C395.2,470.0 390.7,468.7 387.1,468.7 C383.6,468.7 379.4,470.3 377.5,472.6 C375.6,474.9 374.2,478.4 375.5,482.3 C376.8,486.2 381.0,490.3 385.2,495.8 C389.4,501.3 396.2,508.4 400.7,515.2 C405.2,522.0 409.7,530.0 412.3,536.5 C414.9,543.0 416.9,549.5 416.2,554.0 C415.5,558.5 413.2,561.4 408.4,563.6 C403.5,565.9 394.5,567.5 387.1,567.5 C379.7,567.5 370.3,566.5 363.9,563.6 C357.4,560.7 352.9,555.5 348.4,550.0 C343.9,544.5 340.0,535.9 336.8,530.7 C333.6,525.5 331.6,521.3 329.0,519.0 C326.4,516.7 323.6,516.4 321.3,517.1 C319.1,517.8 315.8,520.4 315.5,523.0 C315.2,525.6 317.9,528.7 319.4,532.6 C320.8,536.5 323.9,542.0 324.2,546.2 C324.5,550.4 323.4,554.9 321.3,557.8 C319.2,560.7 315.5,562.7 311.6,563.6 C307.7,564.5 304.7,563.4 298.0,563.0 C291.3,562.6 279.6,563.2 271.6,561.0 C263.6,558.8 256.1,553.8 250.0,549.5 C243.9,545.2 239.2,542.1 235.0,535.5 C230.8,528.9 226.5,517.6 224.5,510.0 Z" fill="none" stroke="#f4d592" stroke-width="3.8" stroke-linejoin="round"/>
<path d="M621.8,233.8 L622.5,231.9 L623.2,230.1 L623.9,228.2 L624.6,226.3 L625.4,224.5 L626.1,222.6 L626.8,220.7 L627.5,218.9 L628.3,217.0 L629.0,215.1 L629.8,213.3 L630.5,211.4 L631.3,209.6 L632.0,207.7 L632.7,205.9 L633.4,204.0 L634.0,202.1 L634.5,200.2 L635.0,198.2 L635.4,196.3 L635.8,194.3 L636.1,192.3 L636.4,190.4 L636.7,188.4 L637.0,186.4 L637.4,184.5 L637.8,182.5 L638.3,180.6 L638.9,178.7 L639.6,176.8 L640.3,175.0 L641.1,173.2 L642.0,171.4 L643.0,169.7 L644.0,168.0 L645.1,166.3 L646.3,164.7 L647.6,163.1 L648.9,161.7 L650.3,160.2 L651.7,158.9 L653.3,157.7 L654.9,156.5 L656.6,155.5 L658.3,154.5 L660.1,153.6 L661.9,152.8 L663.7,152.1 L665.6,151.4 L667.5,150.9 L669.5,150.4 L671.4,150.0 L673.4,149.6 L675.3,149.3 L677.3,149.0 L679.3,148.7 L681.3,148.3 L683.2,148.0 L685.2,147.6 L687.2,147.3 L689.1,146.9 L691.1,146.5 L693.0,146.1 L695.0,145.7 L697.0,145.5 L698.9,145.2 L700.9,145.1 L702.9,145.0 L704.9,145.0 L706.9,145.1 L708.9,145.3 L710.9,145.5 L712.9,145.7 L714.8,146.0 L716.8,146.4 L718.7,146.9 L720.6,147.5 L722.5,148.1 L724.4,148.8 L726.2,149.5 L728.0,150.3 L729.8,151.2 L731.6,152.1 L733.3,153.1 L735.1,154.1 L736.8,155.2 L738.5,156.2 L740.1,157.3 L741.8,158.4 L743.5,159.6 L745.1,160.7 L746.7,161.9 L748.3,163.1 L749.9,164.3 L751.5,165.5 L753.1,166.7 L754.6,168.0 L756.2,169.3 L757.7,170.6 L759.2,171.9 L760.7,173.2 L762.2,174.6 L763.6,175.9 L765.1,177.3 L766.5,178.7 L767.9,180.1 L769.3,181.5 L770.7,183.0 L772.0,184.5 L773.4,185.9 L774.7,187.4 L776.0,188.9 L777.3,190.5 L778.5,192.0 L779.8,193.6 L781.0,195.2 L782.1,196.8 L783.2,198.5 L784.3,200.2 L785.3,201.9 L786.4,203.6 L787.3,205.4 L788.3,207.1 L789.2,208.9 L790.1,210.7 L791.1,212.4 L792.0,214.2 L792.9,216.0 L793.8,217.8 L794.7,219.5 L795.7,221.3 L796.6,223.1 L797.6,224.8 L798.5,226.6 L799.4,228.4 L800.4,230.1 L801.3,231.9 L802.2,233.7 L803.1,235.5 L803.9,237.3 L804.8,239.1 L805.6,240.9 L806.4,242.7 L807.2,244.6 L808.0,246.4 L808.7,248.3 L809.4,250.2 L810.1,252.0 L810.7,253.9 L811.4,255.8 L812.0,257.7 L812.6,259.6 L813.2,261.5 L813.8,263.4 L814.4,265.4 L815.0,267.3 L815.5,269.2 L816.1,271.1 L816.6,273.0 L817.2,275.0 L817.7,276.9 L818.3,278.8 L818.8,280.7 L819.3,282.7 L819.8,284.6 L820.4,286.5 L820.9,288.5 L821.4,290.4 L821.9,292.3 L822.3,294.3 L822.8,296.2 L823.3,298.2 L823.7,300.1 L824.1,302.1 L824.6,304.0 L825.0,306.0 L825.4,308.0 L825.7,309.9 L826.1,311.9 L826.5,313.8 L826.8,315.8 L827.2,317.8 L827.5,319.8 L827.8,321.7 L828.1,323.7 L828.3,325.7 L828.6,327.7 L828.8,329.7 L829.0,331.7 L829.2,333.6 L829.4,335.6 L829.5,337.6 L829.7,339.6 L829.8,341.6 L829.9,343.6 L830.0,345.6 L830.0,347.6 L830.1,349.6 L830.2,351.6 L830.2,353.6 L830.3,355.6 L830.3,357.6 L830.3,359.6 L830.4,361.6 L830.4,363.6 L830.4,365.6 L830.4,367.6 L830.5,369.6 L830.5,371.6 L830.5,373.6 L830.5,375.6 L830.5,377.5 L830.5,379.4 L830.6,381.3 L830.6,383.1 L830.0,384.8 L828.7,386.3 L827.4,387.8 L826.1,389.3 L824.8,390.9 L823.5,392.4 L822.1,393.9 L820.8,395.3 L819.4,396.8 L818.0,398.2 L816.5,399.5 L815.1,400.9 L813.6,402.2 L812.0,403.5 L810.5,404.8 L808.9,406.0 L807.4,407.3 L805.8,408.5 L804.2,409.7 L802.6,410.9 L801.0,412.1 L799.4,413.3 L797.8,414.5 L796.2,415.7 L794.5,416.8 L792.9,418.0 L791.3,419.2 L789.7,420.4 L788.1,421.5 L786.4,422.7 L784.8,423.9 L783.2,425.1 L781.6,426.3 L780.0,427.5 L778.4,428.7 L776.8,429.9 L775.2,431.1 L773.6,432.2 L772.0,433.4 L770.4,434.6 L768.8,435.8 L767.2,437.0 L765.6,438.2 L764.0,439.4 L762.4,440.6 L760.8,441.8 L759.2,443.0 L757.6,444.2 L756.0,445.4 L754.4,446.6 L752.8,447.8 L751.2,449.0 L749.6,450.2 L747.9,451.4 L746.3,452.6 L744.7,453.8 L743.1,454.9 L741.5,456.1 L739.9,457.3 L738.3,458.5 L736.7,459.7 L735.0,460.8 L733.4,462.0 L731.8,463.1 L730.1,464.3 L728.5,465.4 L726.8,466.6 L725.2,467.7 L723.5,468.8 L721.9,469.9 L720.2,471.1 L718.6,472.2 L716.9,473.3 L715.2,474.4 L713.6,475.5 L711.9,476.6 L710.2,477.7 L708.5,478.8 L706.9,479.9 L705.2,481.0 L703.5,482.1 L701.8,483.1 L700.2,484.2 L698.5,485.3 L696.8,486.4 L695.1,487.5 L693.4,488.6 L691.7,489.6 L690.1,490.7 L688.4,491.8 L686.7,492.8 L685.0,493.9 L683.3,495.0 L681.6,496.0 L679.9,497.1 L678.2,498.1 L676.5,499.2 L674.8,500.2 L673.1,501.3 L671.4,502.4 L669.7,503.4 L668.0,504.5 L666.3,505.5 L664.6,506.6 L662.9,507.6 L661.2,508.7 L659.5,509.7 L657.8,510.8 L656.1,511.8 L654.4,512.9 L652.7,513.9 L651.0,514.9 L649.2,516.0 L647.5,517.0 L645.8,518.0 L644.1,519.0 L642.3,520.0 L640.6,521.0 L638.9,522.0 L637.1,523.0 L635.4,523.9 L633.6,524.9 L631.9,525.8 L630.1,526.8 L628.3,527.7 L626.5,528.6 L624.8,529.5 L623.0,530.4 L621.2,531.3 L619.4,532.2 L617.6,533.1 L615.8,534.0 L614.0,534.8 L612.2,535.7 L610.4,536.6 L608.6,537.5 L606.8,538.4 L605.0,539.2 L603.2,540.1 L601.4,541.0 L599.6,541.8 L597.8,542.7 L596.0,543.6 L594.2,544.4 L592.4,545.3 L590.6,546.1 L588.7,546.9 L586.9,547.8 L585.1,548.6 L583.3,549.4 L581.4,550.2 L579.6,551.0 L577.8,551.8 L575.9,552.6 L574.1,553.3 L572.2,554.1 L570.4,554.9 L568.5,555.6 L566.7,556.4 L564.8,557.1 L563.0,557.9 L561.1,558.6 L559.3,559.4 L557.4,560.1 L555.5,560.8 L553.7,561.5 L551.8,562.2 L549.9,563.0 L548.1,563.7 L546.2,564.4 L544.3,565.1 L542.4,565.7 L540.6,566.4 L538.7,567.1 L536.8,567.8 L534.9,568.4 L533.0,569.1 L531.1,569.7 L529.2,570.4 L527.3,571.0 L525.4,571.7 L523.5,572.3 L521.6,572.9 L519.7,573.5 L517.8,574.2 L515.9,574.8 L514.0,575.4 L512.1,576.0 L510.2,576.6 L508.3,577.2 L506.4,577.9 L504.5,578.5 L502.6,579.1 L500.7,579.7 L498.8,580.3 L496.9,580.9 L495.0,581.5 L493.1,582.1 L491.2,582.7 L489.2,583.2 L487.3,583.8 L485.4,584.4 L483.5,584.9 L481.6,585.5 L479.6,586.1 L477.7,586.6 L475.8,587.1 L473.9,587.7 L471.9,588.2 L470.0,588.7 L468.1,589.2 L466.1,589.7 L464.2,590.2 L462.3,590.7 L460.3,591.2 L458.4,591.7 L456.4,592.2 L454.5,592.6 L452.5,593.0 L450.6,593.4 L448.6,593.8 L446.6,594.1 L444.7,594.5 L442.7,594.8 L440.7,595.1 L438.8,595.5 L436.8,595.8 L434.8,596.0 L432.8,596.3 L430.8,596.6 L428.9,596.9 L426.9,597.1 L424.9,597.4 L422.9,597.6 L420.9,597.9 L418.9,598.1 L417.0,598.4 L415.0,598.6 L413.0,598.9 L411.0,599.1 L409.0,599.3 L407.0,599.5 L405.0,599.7 L403.0,600.0 L401.1,600.2 L399.1,600.4 L397.1,600.6 L395.1,600.8 L393.1,601.0 L391.1,601.2 L389.1,601.3 L387.1,601.5 L385.1,601.7 L383.1,601.9 L381.1,602.0 L379.1,602.2 L377.2,602.3 L375.2,602.5 L373.2,602.6 L371.2,602.7 L369.2,602.8 L367.2,603.0 L365.2,603.1 L363.2,603.2 L361.2,603.3 L359.2,603.4 L357.2,603.4 L355.2,603.5 L353.2,603.6 L351.2,603.6 L349.2,603.7 L347.2,603.7 L345.2,603.8 L343.2,603.8 L341.2,603.8 L339.2,603.8 L337.2,603.8 L335.2,603.8 L333.2,603.8 L331.2,603.8 L329.2,603.8 L327.2,603.7 L325.2,603.7 L323.2,603.6 L321.2,603.5 L319.2,603.4 L317.2,603.3 L315.2,603.2 L313.2,603.1 L311.2,602.9 L309.2,602.8 L307.2,602.6 L305.2,602.4 L303.3,602.2 L301.3,601.9 L299.3,601.7 L297.3,601.4 L295.3,601.1 L293.3,600.8 L291.4,600.5 L289.4,600.2 L287.4,599.9 L285.5,599.5 L283.5,599.1 L281.5,598.8 L279.6,598.4 L277.6,598.0 L275.7,597.5 L273.7,597.1 L271.8,596.7 L269.8,596.2 L267.9,595.8 L265.9,595.3 L264.0,594.8 L262.0,594.4 L260.1,593.9 L258.1,593.4 L256.2,592.9 L254.3,592.4 L252.3,591.9 L250.4,591.3 L248.5,590.8 L246.6,590.3 L244.6,589.7 L242.7,589.2 L240.8,588.6 L238.9,587.9 L237.0,587.3 L235.2,586.6 L233.3,585.8 L231.5,585.0 L229.7,584.1 L228.0,583.2 L226.2,582.2 L224.5,581.2 L222.8,580.1 L221.1,579.1 L219.4,578.0 L217.7,576.9 L216.1,575.8 L214.4,574.7 L212.8,573.5 L211.2,572.3 L209.6,571.1 L208.1,569.9 L206.5,568.6 L205.1,567.2 L203.6,565.8 L202.3,564.4 L200.9,562.9 L199.7,561.4 L198.5,559.8 L197.3,558.2 L196.2,556.5 L195.1,554.8 L194.0,553.1 L193.0,551.4 L192.0,549.7 L191.1,547.9 L190.2,546.1 L189.4,544.3 L188.6,542.5 L187.9,540.6 L187.2,538.8 L186.6,536.9 L186.0,534.9 L185.5,533.0 L185.0,531.1 L184.6,529.1 L184.3,527.2 L183.9,525.2 L183.6,523.2 L183.4,521.2 L183.1,519.2 L182.9,517.3 L182.7,515.3 L182.5,513.3 L182.3,511.3 L182.1,509.3 L182.0,507.3 L181.9,505.3 L181.8,503.3 L181.7,501.3 L181.7,499.3 L181.7,497.3 L181.8,495.3 L181.9,493.3 L182.1,491.3 L182.3,489.4 L182.6,487.4 L183.0,485.4 L183.4,483.5 L183.8,481.5 L184.4,479.6 L184.9,477.7 L185.6,475.8 L186.2,473.9 L186.9,472.1 L187.7,470.2 L188.5,468.4 L189.3,466.6 L190.2,464.8 L191.2,463.0 L192.1,461.3 L193.2,459.6 L194.2,457.9 L195.3,456.2 L196.5,454.6 L197.7,453.0 L198.9,451.4 L200.1,449.8 L201.4,448.3 L202.7,446.7 L204.0,445.2 L205.3,443.7 L206.6,442.2 L207.9,440.7 L209.2,439.2 L210.6,437.7 L211.9,436.2 L213.3,434.7 L214.6,433.3 L216.0,431.8 L217.4,430.4 L218.7,428.9 L220.1,427.5 L221.6,426.1 L223.0,424.7 L224.5,423.4 L226.0,422.0 L227.5,420.8 L229.1,419.5 L230.6,418.3 L232.3,417.1 L233.9,416.0 L235.6,414.9 L237.3,413.9 L239.0,412.9 L240.8,411.9 L242.5,411.0 L244.3,410.0 L246.1,409.1 L247.8,408.1 L249.6,407.2 L251.4,406.3 L253.1,405.3 L254.9,404.4 L256.7,403.5 L258.5,402.6 L260.2,401.7 L262.0,400.8 L263.8,399.9 L265.6,399.0 L267.4,398.1 L269.2,397.2 L271.0,396.3 L272.8,395.4 L274.6,394.5 L276.4,393.7 L278.2,392.8 L280.0,392.0 L281.8,391.1 L283.6,390.3 L285.4,389.5 L287.3,388.6 L289.1,387.8 L290.9,387.0 L292.7,386.2 L294.6,385.4 L296.4,384.6 L298.2,383.8 L300.1,383.0 L301.9,382.2 L303.8,381.5 L305.6,380.7 L307.5,379.9 L309.3,379.1 L311.1,378.4 L313.0,377.6 L314.8,376.8 L316.7,376.1 L318.5,375.3 L320.4,374.5 L322.2,373.8 L324.1,373.0 L325.9,372.2 L327.8,371.5 L329.6,370.7 L331.5,370.0 L333.3,369.2 L335.2,368.5 L337.0,367.7 L338.9,367.0 L340.8,366.2 L342.6,365.5 L344.5,364.8 L346.3,364.0 L348.2,363.3 L350.0,362.5 L351.9,361.8 L353.7,361.0 L355.6,360.3 L357.5,359.5 L359.3,358.8 L361.2,358.0 L363.0,357.3 L364.9,356.5 L366.7,355.7 L368.6,355.0 L370.4,354.2 L372.3,353.5 L374.1,352.7 L376.0,352.0 L377.8,351.2 L379.7,350.4 L381.5,349.7 L383.4,348.9 L385.2,348.2 L387.1,347.4 L388.9,346.7 L390.8,345.9 L392.6,345.2 L394.5,344.4 L396.3,343.7 L398.2,342.9 L400.1,342.2 L401.9,341.4 L403.8,340.7 L405.6,340.0 L407.5,339.2 L409.4,338.5 L411.2,337.8 L413.1,337.1 L415.0,336.4 L416.8,335.7 L418.7,335.0 L420.6,334.3 L422.5,333.6 L424.4,332.9 L426.2,332.3 L428.1,331.6 L430.0,330.9 L431.9,330.3 L433.8,329.6 L435.7,329.0 L437.6,328.3 L439.5,327.7 L441.4,327.0 L443.2,326.4 L445.1,325.7 L447.0,325.0 L448.9,324.4 L450.8,323.7 L452.7,323.0 L454.5,322.3 L456.4,321.6 L458.3,320.9 L460.2,320.2 L462.0,319.5 L463.9,318.8 L465.8,318.1 L467.6,317.3 L469.5,316.6 L471.3,315.9 L473.2,315.1 L475.1,314.4 L476.9,313.6 L478.8,312.9 L480.6,312.1 L482.5,311.4 L484.3,310.6 L486.2,309.8 L488.0,309.0 L489.8,308.3 L491.7,307.5 L493.5,306.7 L495.4,305.9 L497.2,305.1 L499.0,304.3 L500.9,303.5 L502.7,302.7 L504.5,301.9 L506.3,301.1 L508.2,300.3 L510.0,299.4 L511.8,298.6 L513.7,297.8 L515.5,297.0 L517.3,296.2 L519.2,295.4 L521.0,294.6 L522.8,293.8 L524.6,293.0 L526.5,292.2 L528.3,291.3 L530.1,290.5 L531.9,289.7 L533.7,288.8 L535.5,288.0 L537.3,287.1 L539.1,286.2 L540.9,285.4 L542.7,284.5 L544.5,283.6 L546.3,282.7 L548.1,281.7 L549.8,280.8 L551.6,279.8 L553.3,278.9 L555.1,277.9 L556.8,276.9 L558.6,275.9 L560.3,274.9 L562.0,273.9 L563.7,272.8 L565.4,271.8 L567.1,270.7 L568.8,269.7 L570.5,268.6 L572.2,267.5 L573.9,266.4 L575.5,265.3 L577.2,264.2 L578.9,263.1 L580.5,262.0 L582.2,260.9 L583.9,259.8 L585.5,258.7 L587.2,257.6 L588.8,256.4 L590.5,255.3 L592.1,254.2 L593.8,253.1 L595.4,251.9 L597.1,250.8 L598.7,249.7 L600.4,248.5 L602.0,247.4 L603.7,246.3 L605.3,245.1 L607.0,244.0 L608.6,242.9 L610.3,241.7 L611.9,240.6 L613.6,239.4 L615.2,238.3 L616.8,237.2 L618.5,236.1 L620.1,234.9 L621.8,233.8 Z" fill="none" stroke="#1a1a1f" stroke-width="3.2" stroke-linejoin="round"/>
<path d="M605.0,219.5 L605.6,217.6 L606.2,215.7 L606.8,213.8 L607.4,211.9 L608.0,210.0 L608.7,208.1 L609.3,206.2 L609.9,204.3 L610.6,202.4 L611.3,200.5 L611.9,198.6 L612.7,196.8 L613.4,194.9 L614.1,193.0 L614.9,191.2 L615.6,189.3 L616.4,187.5 L617.2,185.7 L618.0,183.8 L618.9,182.0 L619.7,180.2 L620.5,178.4 L621.4,176.6 L622.3,174.8 L623.2,173.0 L624.1,171.2 L625.0,169.5 L625.9,167.7 L626.9,165.9 L627.9,164.2 L628.9,162.5 L629.9,160.7 L630.9,159.0 L632.0,157.3 L633.1,155.7 L634.2,154.0 L635.3,152.3 L636.4,150.7 L637.6,149.1 L638.8,147.5 L640.1,146.0 L641.4,144.4 L642.7,143.0 L644.1,141.5 L645.5,140.1 L647.0,138.8 L648.5,137.6 L650.1,136.4 L651.7,135.4 L653.4,134.4 L655.2,133.5 L657.0,132.6 L658.8,131.9 L660.7,131.2 L662.5,130.5 L664.4,129.9 L666.3,129.3 L668.3,128.7 L670.2,128.2 L672.1,127.7 L674.0,127.2 L676.0,126.7 L677.9,126.2 L679.9,125.8 L681.8,125.4 L683.8,125.0 L685.8,124.6 L687.7,124.2 L689.7,123.9 L691.7,123.6 L693.6,123.3 L695.6,123.0 L697.6,122.8 L699.6,122.6 L701.6,122.4 L703.6,122.3 L705.6,122.1 L707.6,122.0 L709.6,122.0 L711.6,121.9 L713.5,122.0 L715.5,122.0 L717.5,122.1 L719.5,122.2 L721.5,122.4 L723.5,122.6 L725.5,122.9 L727.4,123.2 L729.4,123.6 L731.3,124.0 L733.3,124.5 L735.2,125.0 L737.1,125.6 L739.0,126.2 L740.9,126.8 L742.8,127.5 L744.6,128.2 L746.5,129.0 L748.3,129.8 L750.1,130.7 L751.8,131.6 L753.6,132.6 L755.3,133.5 L757.0,134.6 L758.7,135.6 L760.4,136.8 L762.0,137.9 L763.6,139.1 L765.2,140.3 L766.8,141.5 L768.4,142.7 L769.9,144.0 L771.5,145.3 L773.0,146.5 L774.5,147.8 L776.1,149.1 L777.6,150.4 L779.1,151.7 L780.6,153.0 L782.1,154.3 L783.6,155.6 L785.1,157.0 L786.6,158.3 L788.1,159.6 L789.6,161.0 L791.0,162.4 L792.4,163.8 L793.8,165.2 L795.2,166.7 L796.5,168.2 L797.8,169.7 L799.1,171.2 L800.4,172.8 L801.6,174.3 L802.8,175.9 L804.0,177.5 L805.2,179.1 L806.4,180.7 L807.5,182.4 L808.6,184.0 L809.8,185.7 L810.9,187.4 L811.9,189.0 L813.0,190.7 L814.1,192.4 L815.1,194.1 L816.1,195.8 L817.1,197.6 L818.1,199.3 L819.1,201.1 L820.0,202.8 L820.9,204.6 L821.8,206.4 L822.7,208.2 L823.6,210.0 L824.4,211.8 L825.3,213.6 L826.1,215.4 L826.9,217.3 L827.7,219.1 L828.5,220.9 L829.3,222.8 L830.0,224.6 L830.8,226.5 L831.5,228.3 L832.2,230.2 L832.9,232.1 L833.6,233.9 L834.3,235.8 L835.0,237.7 L835.6,239.6 L836.3,241.5 L836.9,243.4 L837.5,245.3 L838.1,247.2 L838.7,249.1 L839.3,251.0 L839.8,253.0 L840.4,254.9 L840.9,256.8 L841.4,258.7 L842.0,260.7 L842.5,262.6 L843.0,264.5 L843.5,266.5 L844.0,268.4 L844.4,270.3 L844.9,272.3 L845.4,274.2 L845.8,276.2 L846.2,278.1 L846.7,280.1 L847.1,282.0 L847.5,284.0 L847.9,286.0 L848.3,287.9 L848.7,289.9 L849.1,291.8 L849.5,293.8 L849.9,295.8 L850.2,297.7 L850.5,299.7 L850.9,301.7 L851.2,303.7 L851.4,305.6 L851.7,307.6 L852.0,309.6 L852.2,311.6 L852.4,313.6 L852.6,315.6 L852.8,317.6 L853.0,319.5 L853.1,321.5 L853.3,323.5 L853.4,325.5 L853.6,327.5 L853.7,329.5 L853.8,331.5 L853.9,333.5 L854.0,335.5 L854.0,337.5 L854.1,339.5 L854.2,341.5 L854.3,343.5 L854.3,345.5 L854.4,347.5 L854.4,349.5 L854.5,351.5 L854.5,353.5 L854.6,355.5 L854.6,357.5 L854.6,359.5 L854.7,361.5 L854.7,363.5 L854.7,365.5 L854.7,367.5 L854.7,369.5 L854.7,371.5 L854.7,373.5 L854.7,375.5 L854.7,377.5 L854.7,379.5 L854.6,381.5 L854.6,383.5 L854.6,385.5 L854.6,387.5 L854.6,389.5 L854.6,391.5 L854.5,393.5 L854.5,395.5 L854.5,397.5 L852.9,398.7 L851.3,399.9 L849.7,401.2 L848.2,402.4 L846.6,403.6 L845.0,404.8 L843.4,406.0 L841.8,407.3 L840.2,408.5 L838.7,409.7 L837.1,410.9 L835.5,412.2 L833.9,413.4 L832.3,414.6 L830.8,415.9 L829.2,417.1 L827.7,418.4 L826.1,419.6 L824.5,420.9 L823.0,422.2 L821.5,423.4 L820.0,424.7 L818.4,426.1 L817.0,427.4 L815.5,428.7 L814.0,430.1 L812.5,431.4 L811.1,432.8 L809.7,434.2 L808.3,435.6 L806.8,437.0 L805.4,438.5 L804.0,439.9 L802.6,441.3 L801.2,442.7 L799.8,444.2 L798.4,445.6 L797.0,447.0 L795.6,448.4 L794.1,449.8 L792.7,451.2 L791.3,452.6 L789.8,454.0 L788.4,455.4 L787.0,456.8 L785.5,458.1 L784.1,459.5 L782.6,460.9 L781.1,462.2 L779.7,463.6 L778.2,464.9 L776.7,466.2 L775.2,467.6 L773.6,468.9 L772.1,470.1 L770.6,471.4 L769.0,472.7 L767.5,474.0 L765.9,475.2 L764.4,476.5 L762.8,477.7 L761.2,479.0 L759.7,480.2 L758.1,481.4 L756.5,482.6 L754.9,483.8 L753.3,485.0 L751.7,486.2 L750.1,487.4 L748.4,488.5 L746.8,489.7 L745.2,490.9 L743.5,492.0 L741.9,493.1 L740.2,494.3 L738.6,495.4 L736.9,496.5 L735.3,497.6 L733.6,498.8 L731.9,499.9 L730.3,501.0 L728.6,502.1 L726.9,503.2 L725.3,504.2 L723.6,505.3 L721.9,506.4 L720.2,507.5 L718.5,508.6 L716.9,509.7 L715.2,510.7 L713.5,511.8 L711.8,512.9 L710.1,513.9 L708.4,515.0 L706.7,516.1 L705.0,517.1 L703.3,518.2 L701.6,519.2 L699.9,520.3 L698.2,521.3 L696.5,522.4 L694.8,523.4 L693.1,524.5 L691.4,525.5 L689.7,526.5 L687.9,527.6 L686.2,528.6 L684.5,529.6 L682.8,530.6 L681.0,531.6 L679.3,532.6 L677.6,533.6 L675.8,534.6 L674.1,535.6 L672.4,536.5 L670.6,537.5 L668.9,538.5 L667.1,539.4 L665.3,540.4 L663.6,541.3 L661.8,542.3 L660.1,543.2 L658.3,544.2 L656.5,545.1 L654.8,546.1 L653.0,547.0 L651.2,548.0 L649.5,548.9 L647.7,549.8 L646.0,550.8 L644.2,551.8 L642.4,552.7 L640.7,553.7 L639.0,554.7 L637.2,555.7 L635.5,556.6 L633.7,557.6 L632.0,558.7 L630.3,559.7 L628.6,560.7 L626.8,561.7 L625.1,562.7 L623.4,563.7 L621.6,564.7 L619.9,565.7 L618.1,566.6 L616.4,567.5 L614.6,568.4 L612.8,569.3 L611.0,570.2 L609.2,571.0 L607.4,571.9 L605.5,572.7 L603.7,573.4 L601.9,574.2 L600.0,575.0 L598.1,575.7 L596.3,576.4 L594.4,577.1 L592.5,577.8 L590.7,578.5 L588.8,579.2 L586.9,579.9 L585.0,580.5 L583.1,581.2 L581.2,581.8 L579.3,582.5 L577.4,583.1 L575.6,583.8 L573.7,584.4 L571.8,585.1 L569.9,585.7 L568.0,586.3 L566.1,586.9 L564.2,587.6 L562.3,588.2 L560.4,588.8 L558.4,589.4 L556.5,590.0 L554.6,590.6 L552.7,591.2 L550.8,591.7 L548.9,592.3 L547.0,592.9 L545.0,593.5 L543.1,594.0 L541.2,594.6 L539.3,595.1 L537.4,595.7 L535.4,596.2 L533.5,596.8 L531.6,597.4 L529.7,597.9 L527.8,598.5 L525.8,599.0 L523.9,599.6 L522.0,600.2 L520.1,600.7 L518.2,601.3 L516.3,601.9 L514.3,602.4 L512.4,603.0 L510.5,603.6 L508.6,604.1 L506.7,604.7 L504.7,605.3 L502.8,605.8 L500.9,606.4 L499.0,606.9 L497.1,607.5 L495.1,608.0 L493.2,608.5 L491.3,609.1 L489.3,609.6 L487.4,610.1 L485.5,610.6 L483.5,611.1 L481.6,611.5 L479.6,612.0 L477.7,612.4 L475.7,612.9 L473.8,613.3 L471.8,613.7 L469.9,614.1 L467.9,614.5 L466.0,614.9 L464.0,615.3 L462.0,615.7 L460.1,616.1 L458.1,616.4 L456.1,616.8 L454.2,617.1 L452.2,617.5 L450.2,617.8 L448.2,618.2 L446.3,618.5 L444.3,618.8 L442.3,619.1 L440.3,619.4 L438.4,619.7 L436.4,619.9 L434.4,620.2 L432.4,620.5 L430.4,620.7 L428.4,620.9 L426.5,621.2 L424.5,621.4 L422.5,621.6 L420.5,621.8 L418.5,622.0 L416.5,622.1 L414.5,622.3 L412.5,622.5 L410.5,622.7 L408.5,622.9 L406.6,623.1 L404.6,623.3 L402.6,623.5 L400.6,623.7 L398.6,623.9 L396.6,624.1 L394.6,624.3 L392.6,624.6 L390.6,624.8 L388.7,625.0 L386.7,625.2 L384.7,625.5 L382.7,625.7 L380.7,625.9 L378.7,626.1 L376.7,626.3 L374.7,626.5 L372.7,626.7 L370.8,626.9 L368.8,627.1 L366.8,627.3 L364.8,627.4 L362.8,627.6 L360.8,627.7 L358.8,627.9 L356.8,628.0 L354.8,628.1 L352.8,628.1 L350.8,628.2 L348.8,628.3 L346.8,628.3 L344.8,628.3 L342.8,628.3 L340.8,628.3 L338.8,628.3 L336.8,628.3 L334.8,628.3 L332.8,628.2 L330.8,628.2 L328.8,628.1 L326.8,628.0 L324.8,628.0 L322.8,627.9 L320.8,627.8 L318.8,627.7 L316.8,627.6 L314.8,627.5 L312.8,627.4 L310.8,627.3 L308.8,627.2 L306.8,627.0 L304.9,626.9 L302.9,626.8 L300.9,626.6 L298.9,626.5 L296.9,626.3 L294.9,626.2 L292.9,626.0 L290.9,625.8 L288.9,625.6 L286.9,625.4 L284.9,625.1 L283.0,624.9 L281.0,624.6 L279.0,624.3 L277.0,623.9 L275.1,623.6 L273.1,623.2 L271.2,622.8 L269.2,622.4 L267.3,621.9 L265.3,621.4 L263.4,621.0 L261.4,620.4 L259.5,619.9 L257.6,619.3 L255.7,618.8 L253.8,618.2 L251.9,617.6 L250.0,617.0 L248.1,616.3 L246.2,615.7 L244.3,615.1 L242.4,614.4 L240.5,613.7 L238.6,613.0 L236.8,612.3 L234.9,611.6 L233.0,610.9 L231.2,610.1 L229.3,609.4 L227.5,608.6 L225.6,607.8 L223.8,607.0 L222.0,606.2 L220.2,605.4 L218.4,604.5 L216.6,603.6 L214.8,602.7 L213.0,601.8 L211.3,600.8 L209.6,599.8 L207.9,598.8 L206.2,597.7 L204.5,596.6 L202.9,595.5 L201.2,594.4 L199.6,593.2 L198.0,592.0 L196.4,590.8 L194.8,589.6 L193.3,588.3 L191.7,587.0 L190.2,585.7 L188.7,584.4 L187.3,583.0 L185.9,581.6 L184.5,580.2 L183.2,578.7 L181.9,577.2 L180.6,575.6 L179.4,574.0 L178.3,572.4 L177.1,570.8 L176.0,569.1 L175.0,567.4 L174.0,565.7 L173.0,564.0 L172.1,562.2 L171.2,560.4 L170.3,558.6 L169.5,556.8 L168.8,555.0 L168.0,553.1 L167.3,551.2 L166.6,549.4 L165.9,547.5 L165.3,545.6 L164.7,543.7 L164.1,541.8 L163.6,539.9 L163.0,537.9 L162.5,536.0 L162.1,534.1 L161.6,532.1 L161.2,530.2 L160.8,528.2 L160.4,526.2 L160.0,524.3 L159.6,522.3 L159.3,520.3 L158.9,518.4 L158.6,516.4 L158.3,514.4 L158.0,512.5 L157.8,510.5 L157.5,508.5 L157.3,506.5 L157.1,504.5 L157.0,502.5 L156.9,500.6 L157.0,498.6 L157.0,496.6 L157.2,494.6 L157.4,492.7 L157.7,490.7 L158.1,488.7 L158.5,486.8 L159.0,484.8 L159.5,482.9 L160.0,481.0 L160.5,479.1 L161.1,477.2 L161.7,475.3 L162.4,473.4 L163.1,471.5 L163.8,469.6 L164.6,467.8 L165.4,466.0 L166.2,464.2 L167.1,462.4 L168.0,460.6 L169.0,458.9 L170.0,457.2 L171.0,455.4 L172.1,453.8 L173.2,452.1 L174.3,450.4 L175.4,448.8 L176.6,447.2 L177.8,445.6 L179.0,444.0 L180.2,442.4 L181.5,440.8 L182.7,439.3 L184.0,437.7 L185.3,436.2 L186.6,434.7 L187.9,433.2 L189.2,431.7 L190.6,430.2 L191.9,428.7 L193.3,427.3 L194.7,425.8 L196.0,424.4 L197.4,422.9 L198.9,421.5 L200.3,420.1 L201.7,418.7 L203.1,417.3 L204.6,416.0 L206.1,414.6 L207.5,413.2 L209.0,411.9 L210.5,410.6 L212.0,409.2 L213.5,407.9 L215.0,406.6 L216.6,405.4 L218.1,404.1 L219.7,402.9 L221.3,401.6 L222.8,400.4 L224.4,399.2 L226.0,398.0 L227.7,396.8 L229.3,395.7 L230.9,394.6 L232.6,393.5 L234.3,392.4 L236.0,391.3 L237.7,390.2 L239.4,389.2 L241.1,388.2 L242.8,387.1 L244.5,386.1 L246.3,385.1 L248.0,384.2 L249.8,383.2 L251.5,382.2 L253.3,381.2 L255.0,380.3 L256.8,379.3 L258.5,378.4 L260.3,377.4 L262.0,376.5 L263.8,375.5 L265.6,374.6 L267.3,373.6 L269.1,372.7 L270.9,371.8 L272.6,370.9 L274.4,369.9 L276.2,369.0 L278.0,368.1 L279.8,367.2 L281.5,366.3 L283.3,365.4 L285.1,364.5 L286.9,363.6 L288.7,362.7 L290.5,361.9 L292.3,361.0 L294.1,360.2 L296.0,359.3 L297.8,358.5 L299.6,357.7 L301.4,356.9 L303.2,356.0 L305.1,355.2 L306.9,354.4 L308.7,353.6 L310.5,352.7 L312.3,351.9 L314.2,351.1 L316.0,350.3 L317.8,349.5 L319.7,348.7 L321.5,347.9 L323.3,347.1 L325.2,346.3 L327.0,345.5 L328.8,344.7 L330.7,343.9 L332.5,343.2 L334.4,342.4 L336.2,341.7 L338.1,341.0 L340.0,340.2 L341.8,339.5 L343.7,338.8 L345.6,338.1 L347.4,337.4 L349.3,336.7 L351.2,336.0 L353.1,335.3 L355.0,334.6 L356.8,333.9 L358.7,333.3 L360.6,332.6 L362.5,331.9 L364.4,331.2 L366.2,330.5 L368.1,329.8 L370.0,329.2 L371.9,328.5 L373.7,327.8 L375.6,327.1 L377.5,326.4 L379.4,325.7 L381.2,325.0 L383.1,324.3 L385.0,323.6 L386.9,322.9 L388.7,322.2 L390.6,321.5 L392.5,320.8 L394.4,320.1 L396.2,319.4 L398.1,318.7 L400.0,318.0 L401.9,317.3 L403.7,316.6 L405.6,315.9 L407.5,315.2 L409.3,314.5 L411.2,313.8 L413.1,313.1 L415.0,312.4 L416.8,311.7 L418.7,311.0 L420.6,310.3 L422.5,309.6 L424.3,308.9 L426.2,308.2 L428.1,307.5 L430.0,306.8 L431.8,306.1 L433.7,305.4 L435.6,304.7 L437.5,304.0 L439.3,303.3 L441.2,302.6 L443.1,301.9 L445.0,301.2 L446.8,300.5 L448.7,299.8 L450.6,299.1 L452.5,298.4 L454.3,297.7 L456.2,297.0 L458.1,296.3 L460.0,295.6 L461.8,295.0 L463.7,294.3 L465.6,293.6 L467.5,292.9 L469.3,292.2 L471.2,291.5 L473.1,290.9 L475.0,290.2 L476.9,289.5 L478.8,288.9 L480.6,288.2 L482.5,287.5 L484.4,286.8 L486.3,286.1 L488.1,285.4 L490.0,284.7 L491.9,284.0 L493.7,283.2 L495.6,282.5 L497.4,281.7 L499.3,280.9 L501.1,280.1 L502.9,279.3 L504.8,278.5 L506.6,277.6 L508.4,276.8 L510.2,275.9 L512.0,275.1 L513.8,274.2 L515.6,273.3 L517.3,272.4 L519.1,271.5 L520.9,270.5 L522.7,269.6 L524.4,268.7 L526.2,267.7 L528.0,266.8 L529.7,265.8 L531.5,264.9 L533.2,263.9 L535.0,262.9 L536.7,262.0 L538.5,261.0 L540.2,260.0 L541.9,259.0 L543.7,258.0 L545.4,257.0 L547.2,256.0 L548.9,255.0 L550.6,254.0 L552.3,253.0 L554.1,252.0 L555.8,251.0 L557.5,249.9 L559.2,248.9 L560.9,247.9 L562.6,246.8 L564.3,245.8 L566.0,244.7 L567.7,243.7 L569.4,242.6 L571.1,241.5 L572.8,240.5 L574.5,239.4 L576.2,238.3 L577.9,237.2 L579.5,236.1 L581.2,235.1 L582.9,234.0 L584.6,232.9 L586.2,231.8 L587.9,230.7 L589.6,229.6 L591.3,228.5 L592.9,227.4 L594.6,226.3 L596.2,225.2 L597.9,224.2 L599.5,223.1 L601.1,222.1 L602.6,221.0 L604.2,220.0 L605.0,219.5 Z" fill="none" stroke="#1a1a1f" stroke-width="3.4" stroke-linejoin="round"/>
<path d="M605.0,219.5 L605.6,217.6 L606.2,215.7 L606.8,213.8 L607.4,211.9 L608.1,210.0 L608.7,208.1 L609.3,206.2 L610.0,204.3 L610.6,202.4 L611.3,200.5 L612.0,198.7 L612.7,196.8 L613.4,194.9 L614.2,193.1 L614.9,191.2 L615.7,189.4 L616.5,187.5 L617.3,185.7 L618.1,183.9 L618.9,182.0 L619.7,180.2 L620.6,178.4 L621.5,176.6 L622.3,174.8 L623.2,173.0 L624.1,171.3 L625.1,169.5 L626.0,167.7 L627.0,166.0 L628.0,164.3 L629.0,162.5 L630.1,160.8 L631.1,159.2 L632.2,157.5 L633.3,155.8 L634.4,154.2 L635.6,152.5 L636.8,150.9 L638.0,149.3 L639.2,147.7 L640.4,146.2 L641.7,144.6 L642.9,143.1 L644.2,141.6 L645.5,140.1 L646.9,138.6 L648.3,137.1 L649.6,135.7 L651.1,134.3 L652.5,133.0 L654.0,131.7 L655.6,130.4 L657.1,129.2 L658.7,128.0 L660.4,126.9 L662.0,125.8 L663.7,124.7 L665.4,123.7 L667.1,122.7 L668.8,121.7 L670.6,120.7 L672.3,119.8 L674.1,118.8 L675.9,117.9 L677.7,117.0 L679.5,116.1 L681.3,115.3 L683.1,114.4 L684.9,113.6 L686.7,112.8 L688.6,112.0 L690.4,111.2 L692.3,110.5 L694.1,109.8 L696.0,109.1 L697.9,108.4 L699.8,107.8 L701.7,107.2 L703.6,106.6 L705.5,106.0 L707.4,105.5 L709.3,105.0 L711.3,104.5 L713.2,104.0 L715.2,103.6 L717.1,103.2 L719.1,102.8 L721.0,102.4 L723.0,102.1 L725.0,101.7 L727.0,101.4 L728.9,101.2 L730.9,100.9 L732.9,100.7 L734.9,100.4 L736.9,100.2 L738.9,100.1 L740.9,99.9 L742.8,99.7 L744.8,99.6 L746.8,99.5 L748.8,99.4 L750.8,99.3 L752.8,99.2 L754.8,99.2 L756.8,99.1 L758.8,99.1 L760.8,99.1 L762.8,99.1 L764.8,99.1 L766.8,99.1 L768.8,99.2 L770.8,99.3 L772.8,99.3 L774.8,99.4 L776.8,99.6 L778.8,99.7 L780.8,99.8 L782.8,100.0 L784.8,100.2 L786.8,100.4 L788.8,100.6 L790.7,100.8 L792.7,101.0 L794.7,101.2 L796.7,101.5 L798.7,101.7 L800.7,102.0 L802.6,102.2 L804.6,102.5 L806.6,102.8 L808.6,103.1 L810.5,103.5 L812.5,103.8 L814.5,104.2 L816.4,104.5 L818.4,104.9 L820.4,105.3 L822.3,105.8 L824.3,106.2 L826.2,106.7 L828.1,107.2 L830.1,107.7 L832.0,108.2 L833.9,108.8 L835.8,109.3 L837.8,109.9 L839.7,110.5 L841.6,111.0 L843.5,111.7 L845.4,112.3 L847.3,112.9 L849.2,113.5 L851.1,114.2 L853.0,114.8 L854.9,115.5 L856.7,116.1 L858.6,116.8 L860.5,117.5 L862.4,118.2 L864.3,118.9 L866.1,119.6 L868.0,120.3 L869.9,121.1 L871.7,121.8 L873.6,122.6 L875.4,123.3 L877.2,124.1 L879.1,124.9 L880.9,125.8 L882.7,126.6 L884.5,127.5 L886.2,128.4 L888.0,129.4 L889.7,130.3 L891.4,131.4 L893.1,132.4 L894.8,133.5 L896.5,134.6 L898.1,135.7 L899.7,136.9 L901.3,138.1 L902.9,139.3 L904.4,140.6 L906.0,141.8 L907.5,143.1 L909.0,144.5 L910.5,145.8 L912.0,147.1 L913.4,148.5 L914.9,149.9 L916.3,151.3 L917.7,152.7 L919.1,154.1 L920.5,155.6 L921.9,157.0 L923.2,158.5 L924.5,160.0 L925.9,161.5 L927.2,163.0 L928.5,164.5 L929.7,166.0 L931.0,167.6 L932.2,169.2 L933.5,170.7 L934.7,172.3 L935.9,173.9 L937.0,175.5 L938.2,177.2 L939.3,178.8 L940.4,180.5 L941.5,182.1 L942.6,183.8 L943.7,185.5 L944.7,187.2 L945.7,189.0 L946.7,190.7 L947.6,192.4 L948.5,194.2 L949.4,196.0 L950.3,197.8 L951.2,199.6 L952.0,201.4 L952.8,203.3 L953.5,205.1 L954.3,206.9 L955.0,208.8 L955.8,210.7 L956.5,212.5 L957.1,214.4 L957.8,216.3 L958.5,218.2 L959.1,220.1 L959.7,222.0 L960.3,223.9 L960.9,225.8 L961.5,227.7 L962.1,229.6 L962.7,231.5 L963.2,233.5 L963.8,235.4 L964.3,237.3 L964.9,239.2 L965.4,241.2 L965.9,243.1 L966.4,245.0 L966.9,247.0 L967.4,248.9 L967.8,250.8 L968.3,252.8 L968.7,254.7 L969.0,256.7 L969.4,258.7 L969.7,260.6 L970.0,262.6 L970.3,264.6 L970.5,266.6 L970.7,268.6 L970.9,270.6 L971.1,272.5 L971.2,274.5 L971.4,276.5 L971.5,278.5 L971.6,280.5 L971.7,282.5 L971.8,284.5 L971.9,286.5 L972.0,288.5 L972.0,290.5 L972.1,292.5 L972.1,294.5 L972.1,296.5 L972.1,298.5 L972.1,300.5 L972.0,302.5 L971.9,304.5 L971.8,306.5 L971.7,308.5 L971.6,310.5 L971.4,312.5 L971.3,314.5 L971.1,316.4 L970.9,318.4 L970.7,320.4 L970.5,322.4 L970.4,324.4 L970.2,326.4 L970.0,328.4 L969.7,330.4 L969.5,332.4 L969.3,334.4 L969.1,336.3 L968.8,338.3 L968.5,340.3 L968.3,342.3 L968.0,344.3 L967.6,346.2 L967.3,348.2 L966.9,350.1 L966.5,352.1 L966.0,354.0 L965.5,356.0 L965.0,357.9 L964.5,359.8 L963.9,361.7 L963.3,363.6 L962.7,365.5 L962.0,367.4 L961.4,369.3 L960.7,371.2 L960.0,373.1 L959.3,374.9 L958.7,376.8 L958.0,378.7 L957.3,380.6 L956.6,382.5 L955.9,384.3 L955.3,386.2 L954.6,388.1 L953.9,390.0 L953.2,391.9 L952.5,393.7 L951.8,395.6 L951.1,397.5 L950.4,399.3 L949.7,401.2 L948.9,403.0 L948.1,404.9 L947.3,406.7 L946.5,408.5 L945.6,410.3 L944.7,412.1 L943.9,413.9 L943.0,415.7 L942.0,417.5 L941.1,419.2 L940.1,421.0 L939.2,422.8 L938.2,424.5 L937.2,426.2 L936.2,428.0 L935.2,429.7 L934.2,431.4 L933.2,433.2 L932.2,434.9 L931.2,436.6 L930.2,438.3 L929.2,440.1 L928.2,441.8 L927.1,443.5 L926.1,445.2 L925.1,446.9 L924.0,448.6 L923.0,450.3 L921.9,452.0 L920.8,453.7 L919.7,455.4 L918.6,457.0 L917.5,458.7 L916.4,460.3 L915.2,462.0 L914.0,463.6 L912.8,465.2 L911.6,466.8 L910.4,468.3 L909.1,469.9 L907.9,471.5 L906.6,473.0 L905.3,474.5 L904.0,476.1 L902.7,477.6 L901.4,479.1 L900.1,480.6 L898.8,482.1 L897.5,483.6 L896.2,485.1 L894.8,486.6 L893.5,488.1 L892.2,489.6 L890.8,491.1 L889.5,492.6 L888.2,494.1 L886.8,495.5 L885.5,497.0 L884.2,498.5 L882.8,500.0 L881.5,501.5 L880.1,503.0 L878.8,504.4 L877.4,505.9 L876.1,507.4 L874.7,508.8 L873.3,510.3 L872.0,511.8 L870.6,513.2 L869.2,514.6 L867.8,516.1 L866.4,517.5 L865.0,518.9 L863.6,520.3 L862.2,521.8 L860.8,523.2 L859.3,524.6 L857.9,526.0 L856.5,527.4 L855.1,528.8 L853.6,530.2 L852.2,531.6 L850.8,533.0 L849.3,534.4 L847.9,535.7 L846.4,537.1 L845.0,538.5 L843.5,539.8 L842.0,541.2 L840.6,542.6 L839.1,543.9 L837.6,545.3 L836.1,546.6 L834.6,547.9 L833.1,549.2 L831.6,550.6 L830.1,551.9 L828.6,553.2 L827.1,554.4 L825.5,555.7 L824.0,557.0 L822.4,558.3 L820.9,559.5 L819.3,560.8 L817.7,562.0 L816.2,563.3 L814.6,564.5 L813.0,565.7 L811.4,566.9 L809.9,568.2 L808.3,569.4 L806.7,570.6 L805.1,571.8 L803.5,573.0 L801.9,574.2 L800.3,575.4 L798.7,576.6 L797.1,577.8 L795.5,579.0 L793.9,580.2 L792.3,581.4 L790.7,582.6 L789.1,583.8 L787.5,585.0 L785.9,586.2 L784.3,587.4 L782.7,588.6 L781.1,589.8 L779.5,591.0 L777.9,592.2 L776.3,593.4 L774.7,594.6 L773.0,595.7 L771.4,596.9 L769.8,598.1 L768.2,599.3 L766.6,600.4 L764.9,601.6 L763.3,602.7 L761.6,603.8 L760.0,604.9 L758.3,606.0 L756.6,607.1 L755.0,608.2 L753.3,609.3 L751.6,610.4 L749.9,611.5 L748.2,612.6 L746.6,613.7 L744.9,614.7 L743.2,615.8 L741.5,616.9 L739.8,618.0 L738.1,619.0 L736.4,620.1 L734.7,621.2 L733.0,622.2 L731.3,623.3 L729.6,624.3 L727.9,625.4 L726.2,626.4 L724.5,627.5 L722.8,628.5 L721.1,629.5 L719.4,630.6 L717.7,631.6 L715.9,632.6 L714.2,633.6 L712.5,634.6 L710.8,635.6 L709.0,636.6 L707.3,637.6 L705.5,638.6 L703.8,639.5 L702.0,640.5 L700.3,641.5 L698.5,642.4 L696.8,643.4 L695.0,644.3 L693.2,645.3 L691.5,646.2 L689.7,647.1 L687.9,648.0 L686.1,649.0 L684.4,649.9 L682.6,650.8 L680.8,651.6 L679.0,652.5 L677.2,653.4 L675.4,654.3 L673.6,655.1 L671.8,656.0 L670.0,656.9 L668.2,657.7 L666.4,658.5 L664.5,659.4 L662.7,660.2 L660.9,661.0 L659.1,661.8 L657.2,662.6 L655.4,663.4 L653.6,664.2 L651.7,665.0 L649.9,665.8 L648.0,666.6 L646.2,667.3 L644.3,668.1 L642.5,668.9 L640.6,669.6 L638.8,670.4 L636.9,671.1 L635.1,671.9 L633.2,672.6 L631.4,673.3 L629.5,674.1 L627.6,674.8 L625.8,675.5 L623.9,676.2 L622.0,676.9 L620.2,677.6 L618.3,678.3 L616.4,679.0 L614.5,679.7 L612.7,680.4 L610.8,681.1 L608.9,681.8 L607.0,682.5 L605.1,683.2 L603.3,683.8 L601.4,684.5 L599.5,685.2 L597.6,685.9 L595.7,686.5 L593.8,687.2 L592.0,687.8 L590.1,688.5 L588.2,689.2 L586.3,689.8 L584.4,690.5 L582.5,691.1 L580.6,691.8 L578.7,692.4 L576.8,693.1 L574.9,693.7 L573.0,694.4 L571.1,695.0 L569.3,695.6 L567.4,696.3 L565.5,696.9 L563.6,697.5 L561.7,698.1 L559.8,698.8 L557.8,699.4 L555.9,700.0 L554.0,700.6 L552.1,701.2 L550.2,701.8 L548.3,702.4 L546.4,703.0 L544.5,703.6 L542.6,704.1 L540.7,704.7 L538.7,705.3 L536.8,705.8 L534.9,706.4 L533.0,706.9 L531.0,707.4 L529.1,708.0 L527.2,708.5 L525.2,709.0 L523.3,709.5 L521.4,710.0 L519.4,710.5 L517.5,710.9 L515.5,711.4 L513.6,711.9 L511.6,712.3 L509.7,712.7 L507.7,713.2 L505.8,713.6 L503.8,714.0 L501.9,714.4 L499.9,714.8 L498.0,715.2 L496.0,715.6 L494.0,716.0 L492.1,716.3 L490.1,716.7 L488.1,717.1 L486.2,717.4 L484.2,717.8 L482.2,718.2 L480.3,718.5 L478.3,718.9 L476.3,719.2 L474.4,719.5 L472.4,719.9 L470.4,720.2 L468.4,720.6 L466.5,720.9 L464.5,721.2 L462.5,721.5 L460.5,721.8 L458.6,722.1 L456.6,722.4 L454.6,722.7 L452.6,722.9 L450.6,723.2 L448.7,723.4 L446.7,723.6 L444.7,723.8 L442.7,724.0 L440.7,724.2 L438.7,724.3 L436.7,724.5 L434.7,724.7 L432.7,724.8 L430.7,725.0 L428.7,725.2 L426.8,725.4 L424.8,725.5 L422.8,725.7 L420.8,725.9 L418.8,726.0 L416.8,726.2 L414.8,726.3 L412.8,726.4 L410.8,726.6 L408.8,726.7 L406.8,726.7 L404.8,726.8 L402.8,726.9 L400.8,726.9 L398.8,727.0 L396.8,727.0 L394.8,727.0 L392.8,727.0 L390.8,726.9 L388.8,726.9 L386.8,726.8 L384.8,726.7 L382.8,726.6 L380.8,726.5 L378.8,726.4 L376.8,726.3 L374.9,726.1 L372.9,726.0 L370.9,725.8 L368.9,725.6 L366.9,725.4 L364.9,725.2 L362.9,724.9 L360.9,724.7 L359.0,724.4 L357.0,724.1 L355.0,723.9 L353.0,723.6 L351.0,723.2 L349.1,722.9 L347.1,722.6 L345.1,722.2 L343.2,721.8 L341.2,721.4 L339.3,721.0 L337.3,720.6 L335.3,720.2 L333.4,719.8 L331.4,719.3 L329.5,718.8 L327.6,718.4 L325.6,717.9 L323.7,717.4 L321.8,716.9 L319.8,716.3 L317.9,715.8 L316.0,715.3 L314.1,714.7 L312.1,714.1 L310.2,713.5 L308.3,713.0 L306.4,712.4 L304.5,711.7 L302.6,711.1 L300.7,710.5 L298.8,709.9 L296.9,709.2 L295.0,708.5 L293.2,707.9 L291.3,707.2 L289.4,706.5 L287.5,705.8 L285.6,705.1 L283.8,704.4 L281.9,703.7 L280.0,703.0 L278.2,702.2 L276.3,701.5 L274.5,700.7 L272.6,700.0 L270.8,699.2 L268.9,698.4 L267.1,697.6 L265.3,696.8 L263.4,696.0 L261.6,695.2 L259.8,694.4 L258.0,693.6 L256.2,692.7 L254.4,691.8 L252.6,691.0 L250.8,690.0 L249.0,689.1 L247.3,688.2 L245.5,687.2 L243.8,686.2 L242.1,685.2 L240.4,684.1 L238.7,683.0 L237.1,681.9 L235.4,680.8 L233.8,679.6 L232.2,678.5 L230.6,677.3 L229.0,676.1 L227.4,674.8 L225.9,673.6 L224.3,672.3 L222.8,671.1 L221.2,669.8 L219.7,668.5 L218.2,667.2 L216.7,665.8 L215.2,664.5 L213.8,663.1 L212.3,661.8 L210.8,660.4 L209.4,659.0 L208.0,657.6 L206.6,656.2 L205.2,654.8 L203.8,653.3 L202.5,651.8 L201.1,650.4 L199.8,648.9 L198.5,647.4 L197.2,645.8 L195.9,644.3 L194.6,642.8 L193.4,641.2 L192.1,639.6 L190.9,638.0 L189.7,636.5 L188.5,634.9 L187.4,633.2 L186.2,631.6 L185.0,630.0 L183.9,628.3 L182.8,626.7 L181.7,625.0 L180.6,623.3 L179.5,621.6 L178.5,619.9 L177.5,618.2 L176.4,616.5 L175.5,614.8 L174.5,613.0 L173.5,611.3 L172.6,609.5 L171.7,607.7 L170.8,605.9 L169.9,604.1 L169.1,602.3 L168.3,600.5 L167.5,598.7 L166.8,596.8 L166.1,595.0 L165.4,593.1 L164.7,591.2 L164.0,589.3 L163.4,587.4 L162.8,585.5 L162.3,583.6 L161.7,581.7 L161.2,579.7 L160.7,577.8 L160.2,575.9 L159.7,573.9 L159.2,572.0 L158.8,570.1 L158.3,568.1 L157.9,566.2 L157.5,564.2 L157.1,562.2 L156.7,560.3 L156.4,558.3 L156.1,556.3 L155.8,554.4 L155.5,552.4 L155.3,550.4 L155.1,548.4 L154.9,546.4 L154.7,544.4 L154.6,542.4 L154.5,540.4 L154.4,538.4 L154.3,536.5 L154.2,534.5 L154.2,532.5 L154.2,530.5 L154.2,528.5 L154.2,526.5 L154.2,524.5 L154.2,522.5 L154.3,520.5 L154.4,518.5 L154.5,516.5 L154.6,514.5 L154.7,512.5 L154.9,510.5 L155.1,508.5 L155.3,506.5 L155.5,504.5 L155.7,502.5 L156.0,500.6 L156.3,498.6 L156.6,496.6 L156.9,494.7 L157.3,492.7 L157.7,490.7 L158.1,488.8 L158.5,486.8 L159.0,484.9 L159.5,483.0 L160.0,481.0 L160.6,479.1 L161.2,477.2 L161.8,475.3 L162.5,473.4 L163.2,471.6 L163.9,469.7 L164.7,467.9 L165.5,466.1 L166.3,464.3 L167.2,462.5 L168.2,460.7 L169.1,459.0 L170.1,457.3 L171.1,455.5 L172.2,453.9 L173.3,452.2 L174.4,450.5 L175.5,448.9 L176.7,447.3 L177.8,445.6 L179.0,444.0 L180.3,442.5 L181.5,440.9 L182.8,439.3 L184.0,437.8 L185.3,436.3 L186.6,434.7 L187.9,433.2 L189.2,431.7 L190.6,430.3 L191.9,428.8 L193.3,427.3 L194.7,425.9 L196.1,424.4 L197.5,423.0 L198.9,421.6 L200.3,420.2 L201.7,418.8 L203.2,417.4 L204.6,416.0 L206.1,414.7 L207.5,413.3 L209.0,412.0 L210.5,410.6 L212.0,409.3 L213.5,408.0 L215.1,406.7 L216.6,405.4 L218.1,404.2 L219.7,402.9 L221.3,401.7 L222.9,400.5 L224.5,399.3 L226.1,398.1 L227.7,396.9 L229.3,395.8 L231.0,394.7 L232.6,393.5 L234.3,392.4 L236.0,391.4 L237.7,390.3 L239.4,389.3 L241.1,388.2 L242.8,387.2 L244.5,386.2 L246.3,385.2 L248.0,384.2 L249.7,383.2 L251.5,382.2 L253.2,381.3 L255.0,380.3 L256.7,379.3 L258.5,378.4 L260.3,377.4 L262.0,376.5 L263.8,375.6 L265.5,374.6 L267.3,373.7 L269.1,372.7 L270.9,371.8 L272.6,370.9 L274.4,370.0 L276.2,369.0 L278.0,368.1 L279.7,367.2 L281.5,366.3 L283.3,365.4 L285.1,364.5 L286.9,363.7 L288.7,362.8 L290.5,361.9 L292.3,361.1 L294.1,360.2 L295.9,359.4 L297.8,358.5 L299.6,357.7 L301.4,356.9 L303.2,356.1 L305.0,355.2 L306.9,354.4 L308.7,353.6 L310.5,352.8 L312.3,351.9 L314.2,351.1 L316.0,350.3 L317.8,349.5 L319.6,348.7 L321.5,347.9 L323.3,347.1 L325.1,346.3 L327.0,345.5 L328.8,344.8 L330.7,344.0 L332.5,343.2 L334.4,342.5 L336.2,341.7 L338.1,341.0 L340.0,340.3 L341.8,339.5 L343.7,338.8 L345.6,338.1 L347.4,337.4 L349.3,336.7 L351.2,336.0 L353.1,335.3 L354.9,334.6 L356.8,334.0 L358.7,333.3 L360.6,332.6 L362.4,331.9 L364.3,331.2 L366.2,330.5 L368.1,329.9 L370.0,329.2 L371.8,328.5 L373.7,327.8 L375.6,327.1 L377.5,326.4 L379.3,325.7 L381.2,325.0 L383.1,324.3 L385.0,323.6 L386.8,322.9 L388.7,322.2 L390.6,321.5 L392.5,320.8 L394.3,320.1 L396.2,319.4 L398.1,318.7 L400.0,318.0 L401.8,317.3 L403.7,316.6 L405.6,315.9 L407.4,315.2 L409.3,314.5 L411.2,313.8 L413.1,313.1 L414.9,312.4 L416.8,311.7 L418.7,311.0 L420.6,310.3 L422.4,309.6 L424.3,308.9 L426.2,308.2 L428.1,307.5 L429.9,306.8 L431.8,306.1 L433.7,305.4 L435.6,304.7 L437.4,304.0 L439.3,303.3 L441.2,302.6 L443.1,301.9 L444.9,301.2 L446.8,300.5 L448.7,299.8 L450.6,299.1 L452.4,298.4 L454.3,297.7 L456.2,297.1 L458.1,296.4 L459.9,295.7 L461.8,295.0 L463.7,294.3 L465.6,293.6 L467.4,292.9 L469.3,292.2 L471.2,291.6 L473.1,290.9 L475.0,290.2 L476.8,289.5 L478.7,288.9 L480.6,288.2 L482.5,287.5 L484.4,286.8 L486.2,286.1 L488.1,285.4 L490.0,284.7 L491.8,283.9 L493.7,283.2 L495.5,282.4 L497.4,281.7 L499.2,280.9 L501.1,280.1 L502.9,279.3 L504.7,278.4 L506.5,277.6 L508.3,276.8 L510.1,275.9 L511.9,275.0 L513.7,274.1 L515.5,273.3 L517.3,272.4 L519.1,271.4 L520.9,270.5 L522.6,269.6 L524.4,268.7 L526.2,267.7 L527.9,266.8 L529.7,265.8 L531.4,264.9 L533.2,263.9 L534.9,262.9 L536.7,262.0 L538.4,261.0 L540.2,260.0 L541.9,259.0 L543.6,258.0 L545.4,257.0 L547.1,256.0 L548.8,255.0 L550.6,254.0 L552.3,253.0 L554.0,252.0 L555.7,251.0 L557.5,249.9 L559.2,248.9 L560.9,247.9 L562.6,246.8 L564.3,245.8 L566.0,244.7 L567.7,243.7 L569.4,242.6 L571.1,241.5 L572.8,240.5 L574.4,239.4 L576.1,238.3 L577.8,237.2 L579.5,236.2 L581.2,235.1 L582.9,234.0 L584.5,232.9 L586.2,231.8 L587.9,230.7 L589.5,229.6 L591.2,228.5 L592.9,227.4 L594.5,226.4 L596.2,225.3 L597.8,224.2 L599.4,223.2 L601.0,222.1 L602.6,221.1 L604.2,220.0 L605.0,219.5 Z" fill="none" stroke="#1a1a1f" stroke-width="3.6" stroke-linejoin="round"/>
<polygon points="339.3,456.7 339.3,457.2 339.2,457.8 339.2,458.5 339.1,459.3 339.1,460.1 339.0,461.0 339.0,461.8 338.9,462.7 338.8,463.6 338.7,464.4 338.6,465.2 338.5,465.8 338.3,466.5 338.1,467.3 337.9,468.1 337.7,468.8 337.5,469.6 337.2,470.4 337.0,471.1 336.7,471.7 336.4,472.3 336.2,472.8 335.9,473.2 335.7,473.5 335.5,473.8 335.2,474.1 334.8,474.4 334.4,474.6 334.0,474.7 333.7,474.8 333.4,474.9 333.2,474.9 333.2,474.9 333.0,474.8 332.7,474.6 332.3,474.4 331.9,474.0 331.6,473.6 331.3,473.2 331.0,472.8 330.8,472.4 330.7,472.0 330.6,471.4 330.5,470.8 330.4,470.1 330.3,469.4 330.3,468.6 330.2,467.9 330.3,467.2 330.3,466.5 330.4,465.9 330.5,465.4 330.6,464.9 330.8,464.3 331.1,463.8 331.3,463.3 331.6,462.8 332.0,462.3 332.4,461.9 332.8,461.4 333.3,461.0 333.7,460.6 334.1,460.3 334.5,460.0 334.9,459.8 335.3,459.5 335.8,459.2 336.5,459.0 337.2,458.7 338.3,459.1 339.5,459.2 340.1,459.3 340.7,459.4 341.3,459.5 342.0,459.5 342.7,459.5 343.4,459.5 344.1,459.5 344.9,459.4 345.7,459.2 346.5,459.0 347.2,458.7 348.0,458.4 348.9,458.0 349.7,457.6 350.5,457.1 351.3,456.6 352.1,456.0 352.9,455.6 353.8,455.7 354.8,455.9 355.7,456.1 356.6,456.2 357.5,456.2 358.3,456.2 359.2,456.2 360.0,456.1 360.8,456.0 361.6,455.8 362.4,455.5 363.2,455.2 363.9,454.9 364.6,454.5 365.3,454.1 366.0,453.6 366.7,453.1 367.4,452.6 368.1,452.1 368.8,451.8 369.6,452.0 370.4,452.2 371.2,452.4 371.9,452.6 372.6,452.7 373.3,452.9 374.0,453.0 374.7,453.1 375.3,453.1 376.0,453.1 376.7,453.0 377.4,452.9 378.2,452.8 378.9,452.6 379.6,452.4 380.4,452.2 381.2,452.0 382.0,451.7 382.8,451.4 383.5,451.3 384.3,451.8 385.0,452.2 385.8,452.6 386.5,453.0 387.3,453.3 388.1,453.6 388.9,453.9 389.6,454.1 390.5,454.2 391.3,454.4 392.1,454.4 392.8,454.4 393.6,454.4 394.4,454.3 395.2,454.1 396.0,454.0 396.9,453.8 397.7,453.6 398.5,453.4 399.3,453.3 400.1,453.8 400.8,454.3 401.5,454.7 402.2,455.1 403.0,455.5 403.7,455.8 404.5,456.2 405.2,456.4 406.0,456.6 406.8,456.8 407.6,456.9 408.4,457.0 409.2,457.0 409.9,456.9 410.7,456.9 411.5,456.8 412.3,456.7 413.2,456.5 414.0,456.4 414.8,456.5 415.5,457.1 416.2,457.6 416.9,458.1 417.6,458.6 418.3,459.1 419.1,459.5 419.9,459.9 420.7,460.2 421.5,460.5 422.3,460.7 423.2,460.8 424.0,460.9 424.9,461.0 425.8,460.9 426.7,460.9 427.6,460.8 428.6,460.6 429.5,460.4 430.5,460.2 431.4,460.5 432.3,461.0 433.2,461.5 434.1,461.9 435.0,462.3 436.0,462.7 436.9,462.9 437.8,463.1 438.8,463.3 439.7,463.3 440.6,463.3 441.4,463.2 442.3,463.1 443.1,462.9 443.8,462.8 444.5,462.6 445.2,462.4 445.8,462.2 446.3,462.0 446.8,461.8 447.8,453.4 447.4,453.2 446.9,452.9 446.3,452.6 445.7,452.3 445.1,452.0 444.4,451.7 443.7,451.4 442.9,451.1 442.1,450.9 441.3,450.7 440.4,450.6 439.5,450.5 438.6,450.5 437.7,450.5 436.8,450.6 435.8,450.8 434.9,451.0 434.0,451.2 433.1,451.5 432.2,451.8 431.3,451.4 430.6,451.0 429.9,450.5 429.2,450.1 428.6,449.7 427.9,449.3 427.2,449.0 426.5,448.7 425.8,448.4 425.1,448.2 424.3,448.0 423.5,447.9 422.7,447.8 421.9,447.8 421.0,447.8 420.2,447.8 419.3,447.9 418.4,448.0 417.5,448.1 416.6,448.1 415.9,447.6 415.2,447.0 414.4,446.5 413.6,446.0 412.8,445.6 412.0,445.2 411.2,444.9 410.4,444.6 409.6,444.3 408.8,444.2 408.0,444.0 407.1,444.0 406.3,444.0 405.4,444.0 404.6,444.1 403.7,444.2 402.8,444.4 402.0,444.5 401.1,444.8 400.3,444.8 399.5,444.3 398.7,443.9 398.0,443.5 397.2,443.1 396.4,442.7 395.6,442.4 394.8,442.1 394.0,441.9 393.1,441.7 392.3,441.6 391.5,441.5 390.7,441.5 389.9,441.6 389.1,441.7 388.3,441.8 387.4,442.0 386.5,442.2 385.7,442.4 384.8,442.7 384.0,442.8 383.2,442.4 382.3,442.0 381.5,441.6 380.7,441.2 379.8,440.9 378.9,440.7 378.0,440.5 377.2,440.4 376.2,440.3 375.3,440.3 374.4,440.4 373.5,440.5 372.6,440.7 371.7,441.0 370.8,441.3 369.9,441.7 369.1,442.2 368.3,442.6 367.5,443.1 366.7,443.5 365.7,443.4 364.8,443.2 363.9,443.1 363.0,443.1 362.1,443.0 361.3,443.0 360.4,443.1 359.6,443.1 358.8,443.3 358.0,443.5 357.3,443.7 356.5,444.0 355.8,444.3 355.1,444.7 354.5,445.1 353.8,445.5 353.1,446.0 352.4,446.5 351.6,447.0 350.8,447.2 349.8,447.0 348.9,446.9 348.0,446.7 347.0,446.6 346.1,446.5 345.2,446.5 344.4,446.5 343.5,446.6 342.6,446.8 341.8,447.0 341.0,447.2 340.3,447.5 339.5,447.9 338.8,448.3 338.1,448.7 337.4,449.1 336.8,449.5 336.0,450.2 335.0,451.0 334.1,451.9 333.2,452.3 332.3,452.8 331.4,453.2 330.7,453.7 329.9,454.2 329.2,454.7 328.6,455.2 328.0,455.8 327.2,456.6 326.5,457.4 325.8,458.2 325.2,459.1 324.7,460.1 324.2,461.1 323.8,462.1 323.4,463.2 323.2,464.3 323.0,465.3 322.9,466.3 322.9,467.3 322.8,468.3 322.9,469.4 323.0,470.4 323.1,471.5 323.2,472.5 323.5,473.5 323.7,474.5 324.1,475.5 324.7,476.7 325.4,477.8 326.3,478.8 327.2,479.7 328.2,480.5 329.3,481.2 330.5,481.8 331.8,482.1 333.2,482.3 334.5,482.2 335.7,481.9 337.0,481.5 338.2,481.0 339.3,480.3 340.4,479.4 341.3,478.4 341.9,477.6 342.5,476.7 342.9,475.9 343.3,475.0 343.7,474.1 344.0,473.2 344.4,472.3 344.6,471.4 344.9,470.5 345.2,469.6 345.4,468.7 345.6,467.8 345.8,466.9 346.0,465.9 346.1,464.9 346.2,463.9 346.3,462.9 346.4,461.9 346.5,461.0 346.5,460.1 346.6,459.3 346.6,458.6 346.6,458.0 346.7,457.5 346.7,457.3" fill="#2a1b1d" stroke="#2a1b1d" stroke-width="1.4" stroke-linejoin="round"/>
<circle cx="343.0" cy="457.0" r="4.4" fill="#2a1b1d"/>
<circle cx="447.4" cy="457.6" r="4.9" fill="#2a1b1d"/>
<ellipse cx="344.0" cy="453.0" rx="2.4" ry="0.9" fill="#e9e4dc" transform="rotate(168.1 344.0 453.0)"/>
<ellipse cx="375.5" cy="446.7" rx="2.4" ry="0.9" fill="#e9e4dc" transform="rotate(178.4 375.5 446.7)"/>
<ellipse cx="407.6" cy="450.4" rx="2.4" ry="0.9" fill="#e9e4dc" transform="rotate(-169.0 407.6 450.4)"/>
<ellipse cx="439.4" cy="456.9" rx="2.4" ry="0.9" fill="#e9e4dc" transform="rotate(-174.7 439.4 456.9)"/>
<polyline points="343.0,457.0 343.0,457.5 342.9,458.0 342.9,458.7 342.8,459.5 342.8,460.3 342.7,461.2 342.7,462.1 342.6,463.1 342.5,464.0 342.4,464.9 342.2,465.8 342.1,466.6 341.9,467.4 341.7,468.2 341.5,469.1 341.2,469.9 341.0,470.7 340.7,471.6 340.4,472.4 340.1,473.1 339.8,473.9 339.4,474.6 339.1,475.2 338.7,475.8 338.2,476.3 337.5,477.0 336.8,477.5 336.0,477.9 335.2,478.2 334.4,478.5 333.6,478.6 332.9,478.5 332.2,478.4 331.4,478.2 330.7,477.8 330.0,477.3 329.3,476.7 328.7,476.0 328.2,475.2 327.7,474.4 327.4,473.7 327.2,473.0 327.0,472.2 326.8,471.4 326.7,470.5 326.6,469.6 326.6,468.7 326.5,467.8 326.6,467.0 326.6,466.1 326.7,465.4 326.9,464.6 327.1,463.7 327.4,462.9 327.7,462.2 328.1,461.4 328.6,460.7 329.1,460.1 329.6,459.4 330.2,458.8 330.8,458.3 331.3,457.8 331.8,457.4 332.4,457.0 332.9,456.6 333.6,456.2 334.3,455.9 335.1,455.5 335.9,455.2 337.1,455.4 338.4,455.8 339.1,456.0 339.8,456.3 340.5,456.5 341.3,456.7 342.0,456.9 342.8,456.9 343.6,457.0 344.4,456.9 345.2,456.8 345.9,456.5 346.7,456.1 347.5,455.7 348.3,455.1 349.1,454.5 349.8,453.8 350.6,453.0 351.3,452.2 352.0,451.4 352.8,450.5 353.5,449.8 354.2,449.0 354.8,448.3 355.5,447.7 356.1,447.2 356.8,446.7 357.5,446.3 358.3,446.0 359.0,445.8 359.8,445.7 360.7,445.6 361.5,445.7 362.4,445.8 363.3,446.0 364.2,446.3 365.2,446.6 366.1,447.0 367.1,447.4 368.0,447.8 368.9,448.3 369.8,448.7 370.6,449.1 371.5,449.5 372.3,449.8 373.0,450.1 373.8,450.3 374.5,450.5 375.3,450.6 376.0,450.6 376.7,450.5 377.5,450.3 378.2,450.1 379.0,449.8 379.8,449.4 380.6,449.0 381.4,448.5 382.3,448.0 383.1,447.5 384.0,446.9 384.8,446.4 385.7,445.9 386.6,445.4 387.5,445.0 388.3,444.7 389.2,444.4 390.0,444.2 390.8,444.1 391.6,444.1 392.4,444.1 393.3,444.3 394.1,444.6 394.8,444.9 395.6,445.4 396.4,445.9 397.1,446.5 397.8,447.1 398.6,447.8 399.3,448.5 400.0,449.3 400.7,450.0 401.4,450.7 402.1,451.4 402.8,452.0 403.5,452.6 404.2,453.1 404.9,453.5 405.7,453.9 406.5,454.2 407.2,454.3 408.0,454.4 408.9,454.4 409.7,454.3 410.5,454.1 411.4,453.9 412.3,453.6 413.2,453.2 414.1,452.9 415.0,452.5 416.0,452.1 416.9,451.7 417.9,451.4 418.8,451.0 419.8,450.8 420.7,450.6 421.6,450.4 422.4,450.4 423.3,450.4 424.0,450.5 424.8,450.7 425.6,451.0 426.3,451.4 427.0,451.8 427.6,452.3 428.3,452.9 429.0,453.6 429.6,454.3 430.4,455.0 431.1,455.8 431.9,456.6 432.7,457.4 433.6,458.1 434.5,458.8 435.4,459.4 436.3,459.9 437.2,460.3 438.1,460.6 439.0,460.8 439.9,460.8 440.8,460.7 441.7,460.5 442.5,460.2 443.3,459.9 444.1,459.5 444.8,459.2 445.5,458.8 446.1,458.4 446.7,458.0 447.2,457.7 447.4,457.6" fill="none" stroke="#d98f6a" stroke-width="1.3" stroke-linejoin="round"/>
<polyline points="336.4,454.9 337.1,453.8 337.8,452.9 338.4,452.3 338.9,451.7 339.5,451.2 340.2,450.6 340.9,450.2 341.6,449.8 342.4,449.4 343.2,449.2 344.0,449.1 344.9,449.0 345.8,449.1 346.7,449.3 347.6,449.6 348.6,449.9 349.6,450.3 350.6,450.8 351.6,451.2 352.5,451.7 353.5,452.2 354.5,452.6 355.5,453.0 356.4,453.2 357.2,453.4 358.1,453.6 359.0,453.6 359.8,453.6 360.6,453.4 361.4,453.2 362.1,452.9 362.9,452.5 363.6,452.0 364.3,451.4 364.9,450.8 365.6,450.1 366.2,449.3 366.9,448.6 367.6,447.8 368.2,447.0 368.9,446.3 369.7,445.6 370.4,444.9 371.2,444.3 372.0,443.8 372.8,443.4 373.7,443.1 374.5,442.9 375.4,442.8 376.3,442.8 377.1,442.9 378.0,443.2 378.8,443.5 379.7,443.9 380.5,444.4 381.3,444.9 382.1,445.6 382.8,446.2 383.6,446.9 384.3,447.6 385.1,448.3 385.8,448.9 386.5,449.5 387.3,450.1 388.0,450.6 388.8,451.1 389.6,451.4 390.3,451.7 391.2,451.8 392.0,451.9 392.8,451.9 393.6,451.7 394.4,451.6 395.2,451.3 396.1,450.9 396.9,450.5 397.8,450.1 398.7,449.7 399.6,449.2 400.5,448.7 401.4,448.2 402.3,447.8 403.2,447.4 404.1,447.1 404.9,446.8 405.8,446.6 406.7,446.5 407.5,446.5 408.3,446.6 409.1,446.8 409.9,447.1 410.7,447.5 411.5,447.9 412.2,448.5 412.9,449.1 413.6,449.8 414.3,450.6 414.9,451.4 415.6,452.2 416.2,453.0 416.8,453.8 417.5,454.5 418.1,455.3 418.8,456.0 419.5,456.6 420.2,457.1 420.9,457.5 421.7,457.9 422.5,458.1 423.3,458.3 424.2,458.4 425.1,458.3 426.0,458.2 426.9,458.0 427.8,457.7 428.7,457.3 429.6,456.9 430.6,456.4 431.6,455.8 432.6,455.3 433.5,454.7 434.5,454.2 435.5,453.8 436.5,453.4 437.4,453.2 438.4,453.0 439.3,453.0 440.2,453.1 441.0,453.3 441.9,453.5 442.6,453.9 443.4,454.4 444.1,454.8 444.8,455.3 445.4,455.9 446.0,456.3 446.5,456.8 447.0,457.2 447.4,457.6 447.4,457.6" fill="none" stroke="#d98f6a" stroke-width="1.3" stroke-linejoin="round"/>
<polygon points="524.5,476.0 524.9,476.2 525.4,476.4 526.0,476.6 526.7,476.9 527.4,477.2 528.2,477.4 529.0,477.7 529.9,477.9 530.8,478.1 531.7,478.2 532.7,478.3 533.6,478.3 534.6,478.2 535.6,478.1 536.5,477.9 537.4,477.7 538.3,477.4 539.2,477.1 540.0,476.8 540.8,476.4 541.6,476.1 542.4,476.0 543.3,476.3 544.1,476.6 545.0,476.8 545.9,477.0 546.7,477.2 547.6,477.3 548.5,477.4 549.3,477.5 550.2,477.5 551.1,477.4 552.0,477.3 552.9,477.1 553.7,476.9 554.6,476.6 555.4,476.2 556.2,475.9 556.9,475.5 557.7,475.0 558.5,474.6 559.3,474.1 560.1,473.7 561.0,473.9 561.9,474.0 562.8,474.1 563.7,474.1 564.7,474.1 565.6,474.1 566.5,474.0 567.4,473.9 568.2,473.7 569.1,473.4 569.9,473.1 570.8,472.7 571.7,472.2 572.5,471.7 573.3,471.1 574.1,470.5 574.8,469.8 575.4,469.2 576.1,468.4 576.7,467.7 577.3,467.0 578.1,466.7 579.0,466.5 579.9,466.3 580.8,466.0 581.6,465.8 582.5,465.5 583.3,465.1 584.0,464.8 584.8,464.3 585.5,463.9 586.2,463.3 586.9,462.8 587.6,462.1 588.2,461.4 588.9,460.7 589.4,459.9 590.0,459.1 590.5,458.2 590.9,457.3 591.4,456.4 591.8,455.5 592.5,454.8 593.3,454.2 594.2,453.4 594.9,452.6 595.6,451.7 596.3,450.9 596.8,450.0 597.3,449.1 597.7,448.2 598.1,447.4 598.3,446.5 598.5,445.7 598.7,444.8 598.8,444.1 598.8,443.3 598.8,442.6 598.8,441.9 598.8,441.1 598.8,440.2 598.8,439.3 598.7,438.3 599.0,437.5 599.6,436.8 600.1,436.1 600.7,435.4 601.2,434.7 601.7,434.0 602.1,433.3 602.5,432.6 602.8,431.9 603.2,431.2 603.5,430.3 603.7,429.4 603.9,428.5 604.1,427.5 604.2,426.6 604.2,425.6 604.2,424.7 604.2,423.9 604.1,423.1 604.1,422.4 604.0,421.8 604.0,421.3 595.8,418.9 595.5,419.4 595.1,419.9 594.6,420.5 594.1,421.1 593.6,421.9 593.1,422.6 592.6,423.4 592.1,424.3 591.8,425.1 591.4,426.0 591.2,426.8 591.0,427.6 590.8,428.4 590.7,429.2 590.6,430.0 590.6,430.8 590.6,431.7 590.6,432.5 590.6,433.4 590.7,434.3 590.7,435.2 590.1,435.9 589.5,436.6 589.0,437.3 588.4,438.0 587.9,438.8 587.4,439.6 587.0,440.4 586.7,441.2 586.4,441.9 586.1,442.7 585.9,443.4 585.8,444.1 585.6,444.8 585.6,445.5 585.5,446.1 585.5,446.8 585.5,447.4 585.5,448.0 585.5,448.5 585.4,449.1 585.3,449.8 584.8,450.2 584.2,450.4 583.5,450.7 582.9,450.9 582.2,451.2 581.5,451.5 580.8,451.8 580.2,452.1 579.5,452.5 578.9,452.9 578.2,453.3 577.6,453.8 577.0,454.4 576.4,455.0 575.9,455.6 575.4,456.2 574.9,456.8 574.4,457.5 574.0,458.1 573.5,458.8 573.0,459.5 572.4,459.9 571.6,460.0 570.8,460.1 570.0,460.2 569.2,460.3 568.5,460.4 567.7,460.5 567.0,460.7 566.3,460.9 565.6,461.1 565.0,461.3 564.4,461.5 563.8,461.8 563.2,462.1 562.6,462.5 562.0,462.9 561.3,463.3 560.7,463.7 560.0,464.2 559.3,464.7 558.6,465.1 557.9,465.4 557.1,465.3 556.2,465.1 555.4,465.0 554.6,464.8 553.8,464.7 553.0,464.7 552.2,464.6 551.5,464.6 550.7,464.6 550.0,464.7 549.3,464.7 548.5,464.9 547.8,465.0 547.0,465.3 546.3,465.5 545.5,465.8 544.7,466.1 544.0,466.4 543.2,466.8 542.4,467.1 541.6,467.5 540.8,467.2 540.0,466.9 539.2,466.7 538.4,466.4 537.6,466.2 536.7,465.9 535.9,465.8 535.0,465.6 534.1,465.5 533.2,465.5 532.3,465.5 531.3,465.6 530.5,465.7 529.6,465.9 528.7,466.1 527.9,466.4 527.2,466.6 526.5,466.9 525.8,467.1 525.2,467.3 524.7,467.5 524.5,467.6" fill="#2a1b1d" stroke="#2a1b1d" stroke-width="1.4" stroke-linejoin="round"/>
<circle cx="524.5" cy="471.8" r="4.9" fill="#2a1b1d"/>
<circle cx="600.0" cy="420.0" r="4.9" fill="#2a1b1d"/>
<ellipse cx="533.2" cy="471.9" rx="2.4" ry="0.9" fill="#e9e4dc" transform="rotate(-179.9 533.2 471.9)"/>
<ellipse cx="567.3" cy="467.3" rx="2.4" ry="0.9" fill="#e9e4dc" transform="rotate(159.5 567.3 467.3)"/>
<ellipse cx="592.2" cy="444.8" rx="2.4" ry="0.9" fill="#e9e4dc" transform="rotate(105.5 592.2 444.8)"/>
<polyline points="524.5,471.8 524.9,472.1 525.5,472.5 526.1,472.9 526.7,473.4 527.4,473.8 528.2,474.3 529.0,474.7 529.9,475.1 530.8,475.4 531.7,475.7 532.7,475.8 533.6,475.8 534.6,475.7 535.5,475.4 536.5,475.1 537.4,474.7 538.2,474.2 539.1,473.7 539.9,473.2 540.7,472.6 541.4,472.0 542.2,471.4 543.0,470.8 543.8,470.2 544.6,469.6 545.3,469.1 546.1,468.6 546.9,468.2 547.6,467.8 548.4,467.5 549.2,467.3 549.9,467.2 550.7,467.1 551.5,467.1 552.3,467.2 553.1,467.4 553.9,467.6 554.7,467.8 555.6,468.1 556.5,468.5 557.4,468.9 558.3,469.3 559.2,469.7 560.1,470.1 561.1,470.4 562.0,470.7 562.9,471.0 563.9,471.2 564.8,471.4 565.7,471.4 566.6,471.4 567.4,471.3 568.3,471.1 569.0,470.8 569.8,470.4 570.6,469.9 571.4,469.2 572.0,468.6 572.7,467.8 573.2,467.0 573.7,466.1 574.2,465.3 574.6,464.3 575.0,463.4 575.4,462.5 575.8,461.6 576.1,460.7 576.5,459.8 576.9,459.0 577.3,458.2 577.8,457.5 578.3,456.8 578.8,456.2 579.4,455.6 580.1,455.1 580.7,454.7 581.5,454.3 582.2,454.0 583.0,453.8 583.9,453.6 584.7,453.4 585.6,453.2 586.5,453.1 587.4,452.9 588.4,452.7 589.3,452.4 590.2,452.0 591.1,451.6 592.0,451.1 592.8,450.4 593.6,449.8 594.2,449.0 594.8,448.3 595.3,447.5 595.6,446.6 595.9,445.8 596.1,445.0 596.2,444.2 596.2,443.4 596.1,442.5 596.0,441.7 595.9,440.9 595.7,440.1 595.4,439.0 595.2,438.0 594.9,437.0 594.6,436.0 594.3,435.1 594.0,434.1 593.8,433.1 593.6,432.2 593.4,431.3 593.3,430.5 593.3,429.6 593.3,428.8 593.4,428.0 593.7,427.2 594.0,426.3 594.4,425.5 594.9,424.7 595.6,423.9 596.2,423.1 597.0,422.5 597.7,421.8 598.4,421.3 599.0,420.8 599.6,420.3 600.0,420.0 600.0,420.0" fill="none" stroke="#d98f6a" stroke-width="1.3" stroke-linejoin="round"/>
<polyline points="524.5,471.8 524.9,471.5 525.5,471.1 526.1,470.7 526.8,470.3 527.5,469.8 528.3,469.4 529.1,469.0 530.0,468.6 530.9,468.3 531.8,468.1 532.7,468.0 533.6,468.0 534.5,468.1 535.5,468.3 536.4,468.6 537.2,469.0 538.1,469.4 538.9,469.9 539.8,470.4 540.6,470.9 541.4,471.4 542.3,472.0 543.1,472.5 543.9,473.0 544.8,473.5 545.6,473.9 546.5,474.3 547.4,474.6 548.2,474.8 549.1,474.9 550.0,475.0 550.8,474.9 551.7,474.8 552.5,474.6 553.3,474.2 554.1,473.8 554.9,473.4 555.6,472.8 556.3,472.2 557.1,471.6 557.8,470.9 558.5,470.2 559.2,469.4 559.8,468.7 560.5,468.0 561.1,467.3 561.8,466.6 562.4,466.0 563.1,465.4 563.7,464.9 564.3,464.4 565.0,464.1 565.6,463.8 566.2,463.5 566.9,463.3 567.7,463.2 568.5,463.1 569.3,463.0 570.2,463.0 571.1,463.1 572.1,463.1 573.0,463.2 574.0,463.3 575.0,463.3 576.0,463.4 577.0,463.4 578.0,463.4 578.9,463.4 579.9,463.2 580.8,463.1 581.6,462.9 582.5,462.6 583.3,462.3 584.0,461.9 584.7,461.3 585.4,460.8 586.0,460.1 586.5,459.3 587.0,458.5 587.4,457.6 587.8,456.7 588.1,455.8 588.3,454.8 588.5,453.8 588.6,452.8 588.6,451.9 588.6,451.0 588.5,450.1 588.4,449.2 588.3,448.4 588.2,447.6 588.2,446.8 588.1,446.0 588.1,445.3 588.2,444.5 588.4,443.7 588.7,443.0 589.0,442.2 589.4,441.5 589.9,440.8 590.5,440.1 591.1,439.4 591.8,438.7 592.6,438.1 593.4,437.5 594.3,436.8 595.1,436.2 595.9,435.6 596.7,435.0 597.5,434.4 598.2,433.7 598.8,433.1 599.4,432.4 599.9,431.8 600.4,431.1 600.8,430.4 601.1,429.5 601.3,428.6 601.5,427.7 601.5,426.7 601.4,425.7 601.3,424.7 601.1,423.8 600.9,422.8 600.6,422.0 600.4,421.2 600.2,420.5 600.0,420.0 600.0,420.0" fill="none" stroke="#d98f6a" stroke-width="1.3" stroke-linejoin="round"/>
<polygon points="636.0,321.5 635.9,321.9 635.7,322.4 635.5,323.1 635.3,323.9 635.0,324.7 634.9,325.6 634.7,326.6 634.6,327.6 634.6,328.7 634.6,329.7 634.8,330.8 635.0,331.8 635.3,332.9 635.7,333.8 636.1,334.7 636.6,335.6 637.1,336.4 637.7,337.2 638.3,337.9 638.9,338.6 639.6,339.3 639.6,340.3 639.7,341.2 639.7,342.1 639.9,343.0 640.0,343.9 640.2,344.7 640.4,345.6 640.6,346.4 640.9,347.2 641.3,348.0 641.7,348.8 642.2,349.6 642.7,350.4 643.3,351.1 644.0,351.8 644.7,352.5 645.5,353.1 646.3,353.7 647.1,354.2 647.9,354.7 648.6,355.2 648.9,356.1 649.2,356.9 649.6,357.8 649.9,358.7 650.4,359.6 650.9,360.5 651.4,361.3 652.0,362.1 652.7,362.8 653.4,363.5 654.2,364.2 655.0,364.8 655.8,365.2 656.7,365.7 657.6,366.0 658.5,366.3 659.4,366.6 660.4,366.9 661.4,367.1 662.4,367.2 663.3,367.7 664.0,368.4 664.8,369.1 665.7,369.7 666.6,370.3 667.5,370.8 668.5,371.2 669.7,371.6 671.1,371.8 672.4,371.8 673.6,371.8 674.7,371.6 675.8,371.3 676.8,370.9 677.7,370.5 678.5,370.1 679.2,369.6 679.9,369.1 680.6,368.6 681.2,368.1 681.8,367.6 682.6,367.2 683.6,367.3 684.5,367.4 685.5,367.5 686.5,367.5 687.4,367.5 688.3,367.4 689.1,367.3 689.9,367.2 690.7,367.1 691.3,366.9 691.9,366.7 692.4,366.5 693.0,366.3 693.7,366.0 694.5,365.6 695.2,365.3 695.9,364.9 696.6,364.6 697.3,364.3 698.0,364.1 697.8,355.6 697.4,355.4 696.9,355.2 696.1,354.9 695.2,354.6 694.1,354.4 692.9,354.2 691.6,354.1 690.2,354.2 689.3,354.3 688.4,354.4 687.6,354.6 686.8,354.9 685.9,355.3 685.1,355.6 684.4,356.1 683.6,356.6 682.9,357.1 682.1,357.6 681.4,358.2 680.8,358.7 680.1,359.0 679.2,358.9 678.2,358.9 677.2,358.8 676.3,358.8 675.4,358.8 674.6,358.9 673.9,358.9 673.2,358.9 672.7,359.0 672.2,359.0 671.8,359.1 671.5,359.2 671.2,359.3 670.9,359.4 670.5,359.5 670.1,359.6 669.5,359.7 668.9,359.8 668.2,359.8 667.5,359.8 666.7,359.8 666.3,359.2 665.8,358.6 665.3,357.9 664.9,357.3 664.4,356.7 663.9,356.1 663.4,355.5 663.0,355.0 662.5,354.5 662.1,354.1 661.6,353.7 661.0,353.3 660.5,352.9 659.8,352.5 659.2,352.1 658.5,351.7 657.8,351.3 657.0,350.9 656.3,350.5 655.6,350.1 655.1,349.5 654.9,348.7 654.7,348.0 654.5,347.2 654.3,346.4 654.1,345.7 653.9,345.0 653.6,344.3 653.4,343.6 653.1,343.0 652.7,342.4 652.4,341.7 652.0,341.1 651.5,340.5 651.1,339.9 650.5,339.3 650.0,338.7 649.4,338.1 648.8,337.5 648.2,337.0 647.6,336.4 647.3,335.7 647.4,334.9 647.4,334.1 647.4,333.3 647.5,332.6 647.5,331.8 647.5,331.1 647.5,330.4 647.5,329.8 647.4,329.2 647.3,328.4 647.2,327.6 647.0,326.8 646.7,325.9 646.4,325.1 646.1,324.2 645.7,323.4 645.4,322.7 645.1,322.0 644.8,321.3 644.5,320.8 644.4,320.5" fill="#2a1b1d" stroke="#2a1b1d" stroke-width="1.4" stroke-linejoin="round"/>
<circle cx="640.2" cy="321.0" r="4.9" fill="#2a1b1d"/>
<circle cx="698.0" cy="359.8" r="4.9" fill="#2a1b1d"/>
<ellipse cx="641.0" cy="329.3" rx="2.4" ry="0.9" fill="#e9e4dc" transform="rotate(-98.4 641.0 329.3)"/>
<ellipse cx="657.6" cy="358.7" rx="2.4" ry="0.9" fill="#e9e4dc" transform="rotate(-138.7 657.6 358.7)"/>
<ellipse cx="689.7" cy="360.7" rx="2.4" ry="0.9" fill="#e9e4dc" transform="rotate(165.0 689.7 360.7)"/>
<polyline points="640.2,321.0 639.9,321.5 639.6,322.1 639.2,322.8 638.7,323.6 638.3,324.5 637.9,325.4 637.5,326.4 637.3,327.4 637.1,328.4 637.1,329.4 637.2,330.4 637.5,331.4 637.9,332.3 638.3,333.1 638.9,333.9 639.5,334.7 640.2,335.4 641.0,336.0 641.8,336.6 642.6,337.2 643.4,337.7 644.3,338.2 645.1,338.7 646.0,339.3 646.8,339.8 647.5,340.3 648.2,340.8 648.9,341.4 649.4,342.0 649.9,342.6 650.4,343.2 650.7,343.9 651.0,344.6 651.3,345.3 651.4,346.1 651.6,346.9 651.7,347.8 651.7,348.7 651.8,349.7 651.8,350.6 651.9,351.6 651.9,352.6 652.0,353.6 652.1,354.6 652.2,355.6 652.4,356.6 652.6,357.6 652.9,358.5 653.3,359.4 653.8,360.2 654.4,361.0 655.0,361.6 655.8,362.2 656.6,362.7 657.4,363.1 658.3,363.4 659.2,363.6 660.2,363.7 661.2,363.8 662.2,363.8 663.3,363.8 664.3,363.6 665.3,363.5 666.3,363.3 667.2,363.1 668.1,362.9 668.9,362.7 669.6,362.4 670.2,362.2 670.8,362.0 671.3,361.8 671.8,361.7 672.3,361.5 672.9,361.5 673.5,361.4 674.2,361.5 675.0,361.5 675.9,361.6 676.8,361.8 677.7,362.0 678.7,362.2 679.6,362.5 680.6,362.9 681.5,363.2 682.5,363.6 683.5,363.9 684.5,364.2 685.5,364.5 686.5,364.7 687.5,364.8 688.4,364.8 689.2,364.8 690.0,364.7 690.7,364.5 691.3,364.3 691.9,364.0 692.5,363.7 693.4,363.1 694.2,362.6 695.0,362.0 695.8,361.4 696.6,360.9 697.2,360.4 697.8,360.0 698.0,359.8" fill="none" stroke="#d98f6a" stroke-width="1.3" stroke-linejoin="round"/>
<polyline points="640.2,321.0 640.6,321.4 641.0,322.0 641.6,322.6 642.1,323.3 642.7,324.1 643.2,324.9 643.8,325.8 644.2,326.6 644.5,327.5 644.8,328.3 644.9,329.2 645.0,330.0 645.0,330.7 644.9,331.5 644.8,332.3 644.6,333.1 644.4,334.0 644.2,334.9 643.9,335.8 643.7,336.7 643.5,337.7 643.2,338.7 643.0,339.7 642.9,340.7 642.8,341.6 642.7,342.6 642.7,343.5 642.8,344.4 643.0,345.2 643.2,346.1 643.5,346.9 643.9,347.6 644.4,348.3 645.0,349.0 645.6,349.6 646.4,350.2 647.2,350.8 648.1,351.2 649.1,351.6 650.1,352.0 651.0,352.3 651.9,352.5 652.9,352.8 653.8,353.1 654.8,353.3 655.7,353.6 656.6,353.9 657.5,354.2 658.2,354.6 659.0,354.9 659.6,355.3 660.2,355.8 660.7,356.3 661.2,356.8 661.6,357.4 662.1,358.0 662.5,358.8 662.9,359.6 663.3,360.4 663.7,361.3 664.2,362.2 664.6,363.1 665.1,364.1 665.6,364.9 666.2,365.8 666.8,366.6 667.5,367.3 668.2,367.9 669.1,368.4 670.0,368.9 671.1,369.2 672.2,369.3 673.3,369.3 674.3,369.1 675.2,368.8 676.1,368.4 676.9,367.9 677.6,367.3 678.3,366.7 678.9,366.0 679.6,365.2 680.2,364.5 680.8,363.7 681.5,363.0 682.1,362.2 682.8,361.3 683.5,360.6 684.1,359.8 684.8,359.1 685.6,358.5 686.3,358.0 687.1,357.5 687.9,357.2 688.7,356.9 689.5,356.8 690.3,356.7 691.3,356.7 692.6,357.0 693.8,357.3 694.8,357.8 695.7,358.3 696.5,358.8 697.2,359.3 697.8,359.7 698.0,359.8" fill="none" stroke="#d98f6a" stroke-width="1.3" stroke-linejoin="round"/>
<circle cx="284.0" cy="516.0" r="11.1" fill="#74a4d6" stroke="#1a1a1f" stroke-width="2.9"/>
<circle cx="281.4" cy="513.0" r="4.5" fill="#afd2f1"/>
<circle cx="376.0" cy="418.0" r="11.1" fill="#74a4d6" stroke="#1a1a1f" stroke-width="2.9"/>
<circle cx="373.4" cy="415.0" r="4.5" fill="#afd2f1"/>
<circle cx="471.6" cy="412.7" r="11.1" fill="#74a4d6" stroke="#1a1a1f" stroke-width="2.9"/>
<circle cx="469.0" cy="409.7" r="4.5" fill="#afd2f1"/>
<circle cx="446.2" cy="493.9" r="11.1" fill="#74a4d6" stroke="#1a1a1f" stroke-width="2.9"/>
<circle cx="443.6" cy="490.9" r="4.5" fill="#afd2f1"/>
<circle cx="583.5" cy="396.4" r="11.1" fill="#74a4d6" stroke="#1a1a1f" stroke-width="2.9"/>
<circle cx="580.9" cy="393.4" r="4.5" fill="#afd2f1"/>
<circle cx="693.3" cy="410.1" r="11.1" fill="#74a4d6" stroke="#1a1a1f" stroke-width="2.9"/>
<circle cx="690.7" cy="407.1" r="4.5" fill="#afd2f1"/>
<circle cx="678.5" cy="316.5" r="11.1" fill="#74a4d6" stroke="#1a1a1f" stroke-width="2.9"/>
<circle cx="675.9" cy="313.5" r="4.5" fill="#afd2f1"/>
<circle cx="748.3" cy="282.0" r="11.1" fill="#74a4d6" stroke="#1a1a1f" stroke-width="2.9"/>
<circle cx="745.7" cy="279.0" r="4.5" fill="#afd2f1"/>
<circle cx="289.2" cy="545.9" r="4.7" fill="#f1cf7c" stroke="#1a1a1f" stroke-width="2.6"/>
<circle cx="322.9" cy="431.2" r="4.7" fill="#f1cf7c" stroke="#1a1a1f" stroke-width="2.6"/>
<circle cx="358.0" cy="496.8" r="4.7" fill="#f1cf7c" stroke="#1a1a1f" stroke-width="2.6"/>
<circle cx="466.4" cy="388.0" r="4.7" fill="#f1cf7c" stroke="#1a1a1f" stroke-width="2.6"/>
<circle cx="483.0" cy="388.0" r="4.7" fill="#f1cf7c" stroke="#1a1a1f" stroke-width="2.6"/>
<circle cx="494.5" cy="399.5" r="4.7" fill="#f1cf7c" stroke="#1a1a1f" stroke-width="2.6"/>
<circle cx="476.0" cy="444.4" r="4.7" fill="#f1cf7c" stroke="#1a1a1f" stroke-width="2.6"/>
<circle cx="548.6" cy="439.7" r="4.7" fill="#f1cf7c" stroke="#1a1a1f" stroke-width="2.6"/>
<circle cx="616.3" cy="357.8" r="4.7" fill="#f1cf7c" stroke="#1a1a1f" stroke-width="2.6"/>
<circle cx="617.6" cy="293.5" r="4.7" fill="#f1cf7c" stroke="#1a1a1f" stroke-width="2.6"/>
<circle cx="642.9" cy="302.8" r="4.7" fill="#f1cf7c" stroke="#1a1a1f" stroke-width="2.6"/>
<circle cx="689.7" cy="229.7" r="4.7" fill="#f1cf7c" stroke="#1a1a1f" stroke-width="2.6"/>
<circle cx="699.4" cy="244.3" r="4.7" fill="#f1cf7c" stroke="#1a1a1f" stroke-width="2.6"/>
<circle cx="627.8" cy="454.5" r="4.7" fill="#f1cf7c" stroke="#1a1a1f" stroke-width="2.6"/>
<circle cx="621.5" cy="471.4" r="4.7" fill="#f1cf7c" stroke="#1a1a1f" stroke-width="2.6"/>
<circle cx="251.4" cy="461.4" r="4.9" fill="#d9778f" stroke="#1a1a1f" stroke-width="2.6"/>
<circle cx="267.2" cy="461.4" r="4.9" fill="#d9778f" stroke="#1a1a1f" stroke-width="2.6"/>
<circle cx="257.5" cy="472.8" r="4.9" fill="#d9778f" stroke="#1a1a1f" stroke-width="2.6"/>
<circle cx="279.5" cy="472.8" r="4.9" fill="#d9778f" stroke="#1a1a1f" stroke-width="2.6"/>
<circle cx="240.0" cy="478.0" r="4.9" fill="#d9778f" stroke="#1a1a1f" stroke-width="2.6"/>
<circle cx="268.0" cy="484.3" r="4.9" fill="#d9778f" stroke="#1a1a1f" stroke-width="2.6"/>
<circle cx="350.0" cy="527.4" r="4.9" fill="#d9778f" stroke="#1a1a1f" stroke-width="2.6"/>
<circle cx="362.3" cy="540.6" r="4.9" fill="#d9778f" stroke="#1a1a1f" stroke-width="2.6"/>
<circle cx="377.3" cy="549.4" r="4.9" fill="#d9778f" stroke="#1a1a1f" stroke-width="2.6"/>
<circle cx="470.4" cy="503.2" r="4.9" fill="#d9778f" stroke="#1a1a1f" stroke-width="2.6"/>
<circle cx="485.0" cy="512.9" r="4.9" fill="#d9778f" stroke="#1a1a1f" stroke-width="2.6"/>
<circle cx="468.5" cy="520.6" r="4.9" fill="#d9778f" stroke="#1a1a1f" stroke-width="2.6"/>
<circle cx="493.6" cy="525.5" r="4.9" fill="#d9778f" stroke="#1a1a1f" stroke-width="2.6"/>
<circle cx="480.0" cy="532.2" r="4.9" fill="#d9778f" stroke="#1a1a1f" stroke-width="2.6"/>
<circle cx="549.8" cy="328.4" r="4.9" fill="#d9778f" stroke="#1a1a1f" stroke-width="2.6"/>
<circle cx="562.9" cy="339.9" r="4.9" fill="#d9778f" stroke="#1a1a1f" stroke-width="2.6"/>
<circle cx="549.8" cy="348.3" r="4.9" fill="#d9778f" stroke="#1a1a1f" stroke-width="2.6"/>
<circle cx="577.4" cy="351.4" r="4.9" fill="#d9778f" stroke="#1a1a1f" stroke-width="2.6"/>
<circle cx="564.4" cy="360.6" r="4.9" fill="#d9778f" stroke="#1a1a1f" stroke-width="2.6"/>
<circle cx="595.0" cy="357.5" r="4.9" fill="#d9778f" stroke="#1a1a1f" stroke-width="2.6"/>
<circle cx="582.0" cy="368.3" r="4.9" fill="#d9778f" stroke="#1a1a1f" stroke-width="2.6"/>
<circle cx="747.8" cy="243.3" r="4.9" fill="#d9778f" stroke="#1a1a1f" stroke-width="2.6"/>
<circle cx="764.3" cy="245.2" r="4.9" fill="#d9778f" stroke="#1a1a1f" stroke-width="2.6"/>
<circle cx="775.0" cy="256.8" r="4.9" fill="#d9778f" stroke="#1a1a1f" stroke-width="2.6"/>
<circle cx="729.6" cy="349.8" r="4.9" fill="#d9778f" stroke="#1a1a1f" stroke-width="2.6"/>
<circle cx="747.3" cy="356.0" r="4.9" fill="#d9778f" stroke="#1a1a1f" stroke-width="2.6"/>
<circle cx="733.8" cy="365.4" r="4.9" fill="#d9778f" stroke="#1a1a1f" stroke-width="2.6"/>
<circle cx="761.9" cy="365.4" r="4.9" fill="#d9778f" stroke="#1a1a1f" stroke-width="2.6"/>
<circle cx="750.4" cy="375.8" r="4.9" fill="#d9778f" stroke="#1a1a1f" stroke-width="2.6"/>
<line x1="700.3" y1="53.0" x2="680.0" y2="199.0" stroke="#2b2b2e" stroke-width="1.3"/>
<line x1="548.5" y1="131.0" x2="563.0" y2="336.0" stroke="#2b2b2e" stroke-width="1.3"/>
<line x1="445.0" y1="209.0" x2="466.0" y2="384.0" stroke="#2b2b2e" stroke-width="1.3"/>
<line x1="373.0" y1="261.0" x2="373.0" y2="441.0" stroke="#2b2b2e" stroke-width="1.3"/>
<line x1="243.7" y1="319.8" x2="283.0" y2="504.0" stroke="#2b2b2e" stroke-width="1.3"/>
<line x1="216.6" y1="592.0" x2="190.0" y2="752.0" stroke="#2b2b2e" stroke-width="1.3"/>
<line x1="598.5" y1="503.0" x2="688.3" y2="751.7" stroke="#2b2b2e" stroke-width="1.3"/>
<line x1="870.0" y1="623.5" x2="651.3" y2="430.2" stroke="#2b2b2e" stroke-width="1.3"/>
<line x1="870.0" y1="623.5" x2="731.0" y2="398.0" stroke="#2b2b2e" stroke-width="1.3"/>
<text x="662.0" y="49.0" font-family="Liberation Sans, sans-serif" font-size="23.0" fill="#111" stroke="#111" stroke-width="0.4" textLength="72.6" lengthAdjust="spacingAndGlyphs" >Matrix</text>
<text x="478.5" y="94.0" font-family="Liberation Sans, sans-serif" font-size="23.0" fill="#111" stroke="#111" stroke-width="0.4" textLength="147.3" lengthAdjust="spacingAndGlyphs" >ATP synthase</text>
<text x="504.9" y="124.3" font-family="Liberation Sans, sans-serif" font-size="23.0" fill="#111" stroke="#111" stroke-width="0.4" textLength="93.7" lengthAdjust="spacingAndGlyphs" >particles</text>
<text x="396.1" y="197.8" font-family="Liberation Sans, sans-serif" font-size="23.0" fill="#111" stroke="#111" stroke-width="0.4" textLength="101.2" lengthAdjust="spacingAndGlyphs" >Ribosome</text>
<text x="347.6" y="254.4" font-family="Liberation Sans, sans-serif" font-size="23.0" fill="#111" stroke="#111" stroke-width="0.4" textLength="46.4" lengthAdjust="spacingAndGlyphs" >DNA</text>
<text x="192.0" y="311.3" font-family="Liberation Sans, sans-serif" font-size="23.0" fill="#111" stroke="#111" stroke-width="0.4" textLength="92.8" lengthAdjust="spacingAndGlyphs" >Granules</text>
<text x="157.0" y="781.5" font-family="Liberation Sans, sans-serif" font-size="23.0" fill="#111" stroke="#111" stroke-width="0.4" textLength="62.8" lengthAdjust="spacingAndGlyphs" >Outer</text>
<text x="133.2" y="812.6" font-family="Liberation Sans, sans-serif" font-size="23.0" fill="#111" stroke="#111" stroke-width="0.4" textLength="109.6" lengthAdjust="spacingAndGlyphs" >membrane</text>
<text x="655.4" y="781.6" font-family="Liberation Sans, sans-serif" font-size="23.0" fill="#111" stroke="#111" stroke-width="0.4" textLength="59.8" lengthAdjust="spacingAndGlyphs" >Inner</text>
<text x="630.0" y="812.2" font-family="Liberation Sans, sans-serif" font-size="23.0" fill="#111" stroke="#111" stroke-width="0.4" textLength="109.2" lengthAdjust="spacingAndGlyphs" >membrane</text>
<text x="836.5" y="655.3" font-family="Liberation Sans, sans-serif" font-size="23.0" fill="#111" stroke="#111" stroke-width="0.4" textLength="74.8" lengthAdjust="spacingAndGlyphs" >Cristae</text>
<text x="17" y="898.5" font-family="Liberation Sans, sans-serif" font-size="18" textLength="755.6" lengthAdjust="spacingAndGlyphs"><tspan fill="#33577f">www.sciencelearn.org.nz</tspan><tspan fill="#111"> I © The University of Waikato Te Whare Wānanga o Waikato</tspan></text>
</svg>
</body></html>
